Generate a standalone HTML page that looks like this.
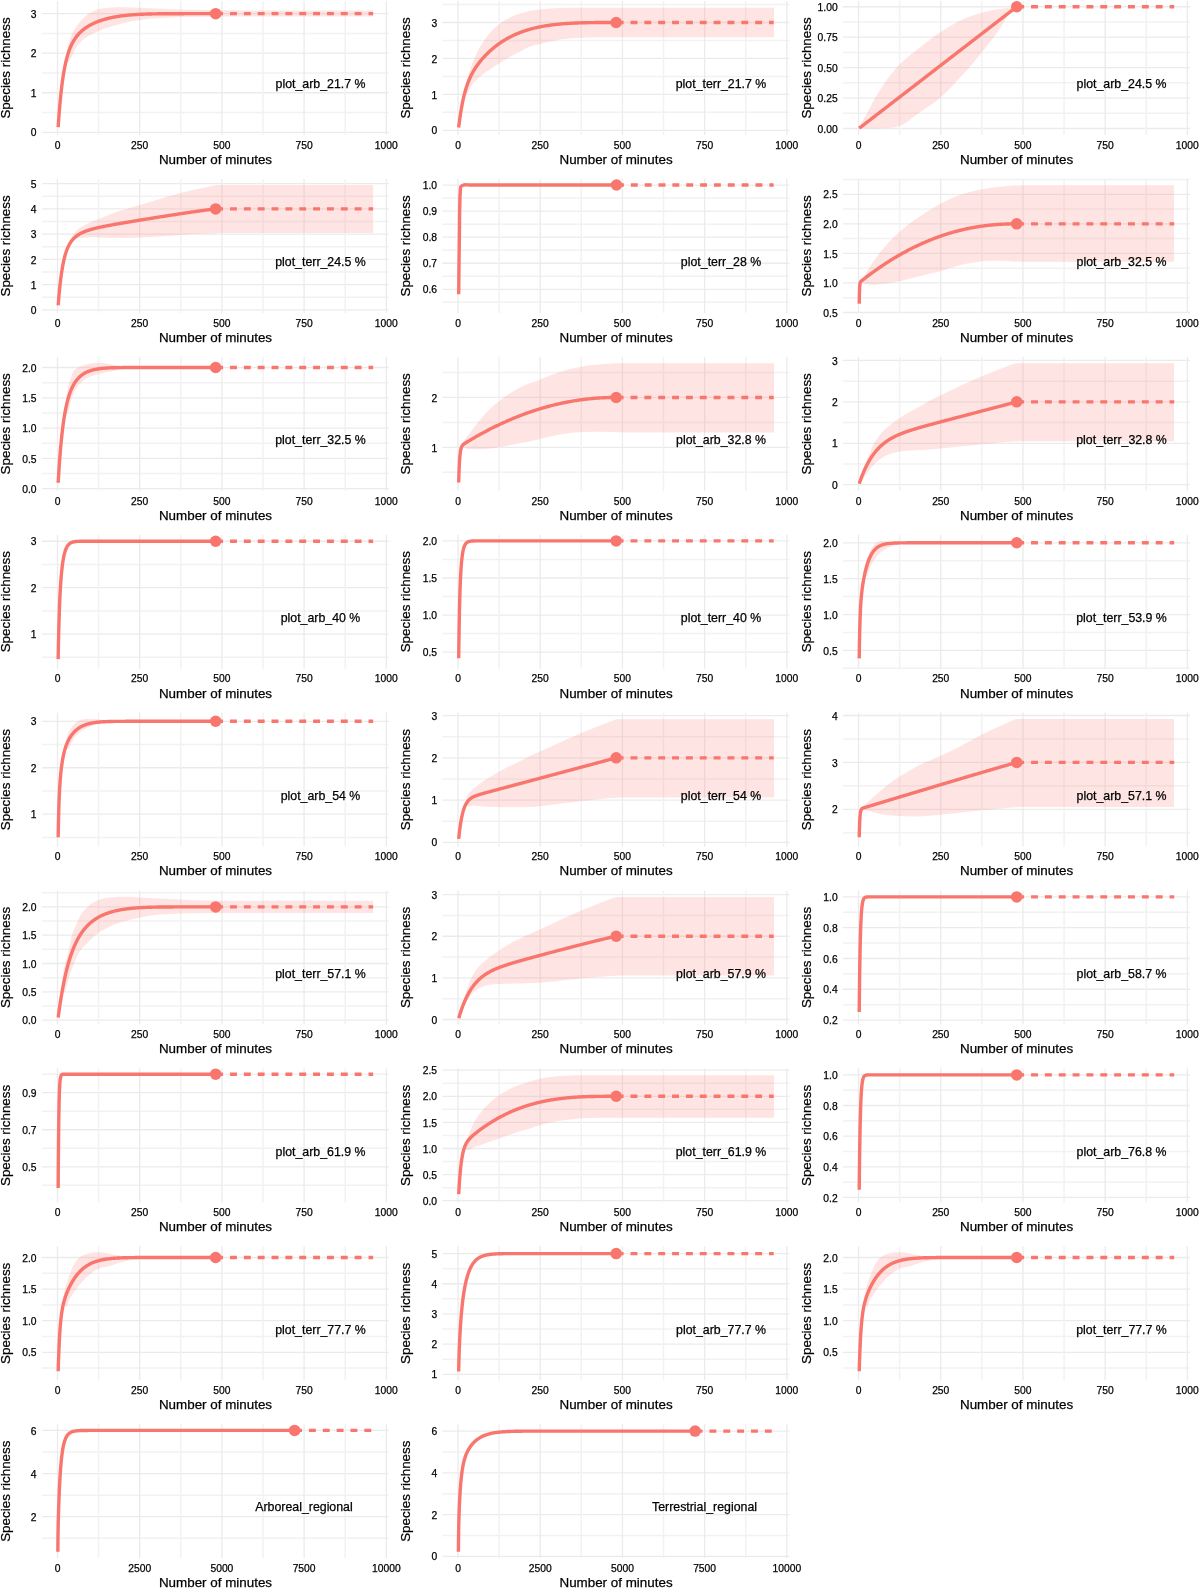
<!DOCTYPE html>
<html><head><meta charset="utf-8"><style>
html,body{margin:0;padding:0;background:#fff;}
body{width:1200px;height:1588px;overflow:hidden;}
svg{display:block;font-family:"Liberation Sans",sans-serif;}
text{fill:#000;stroke:#000;stroke-width:0.25px;}
svg{will-change:transform;}
</style></head><body>
<svg width="1200" height="1588" viewBox="0 0 1200 1588" font-family="Liberation Sans, sans-serif" fill="#000">
<g transform="translate(0,0)">
<g stroke="#EBEBEB"><line x1="41.9" x2="388.9" y1="132.3" y2="132.3"  stroke-width="1.3"/><line x1="41.9" x2="388.9" y1="112.53" y2="112.53"  stroke="#F2F2F2" stroke-width="1.5"/><line x1="41.9" x2="388.9" y1="92.76" y2="92.76"  stroke-width="1.3"/><line x1="41.9" x2="388.9" y1="72.99" y2="72.99"  stroke="#F2F2F2" stroke-width="1.5"/><line x1="41.9" x2="388.9" y1="53.21" y2="53.21"  stroke-width="1.3"/><line x1="41.9" x2="388.9" y1="33.44" y2="33.44"  stroke="#F2F2F2" stroke-width="1.5"/><line x1="41.9" x2="388.9" y1="13.67" y2="13.67"  stroke-width="1.3"/><line x1="57.5" x2="57.5" y1="1" y2="135"  stroke-width="1.3"/><line x1="98.6" x2="98.6" y1="1" y2="135"  stroke="#F2F2F2" stroke-width="1.5"/><line x1="139.7" x2="139.7" y1="1" y2="135"  stroke-width="1.3"/><line x1="180.8" x2="180.8" y1="1" y2="135"  stroke="#F2F2F2" stroke-width="1.5"/><line x1="221.9" x2="221.9" y1="1" y2="135"  stroke-width="1.3"/><line x1="263" x2="263" y1="1" y2="135"  stroke="#F2F2F2" stroke-width="1.5"/><line x1="304.1" x2="304.1" y1="1" y2="135"  stroke-width="1.3"/><line x1="345.2" x2="345.2" y1="1" y2="135"  stroke="#F2F2F2" stroke-width="1.5"/><line x1="386.3" x2="386.3" y1="1" y2="135"  stroke-width="1.3"/></g>
<path d="M65.3,63 C65.73,59.33 65.95,55.63 66.6,52 C67.19,48.74 67.93,45.47 68.9,42.3 C69.91,39 71.03,35.66 72.6,32.6 C73.85,30.16 75.37,27.81 77,25.6 C78.61,23.42 80.41,21.34 82.3,19.4 C83.97,17.69 85.67,15.94 87.6,14.55 C89.25,13.37 91.07,12.4 92.9,11.5 C94.61,10.66 96.39,9.86 98.2,9.3 C101.02,8.42 104.05,8.24 107,7.9 C110.51,7.49 114.06,7.29 117.6,7.2 C121.73,7.1 125.87,7.38 130,7.5 C138.34,7.75 146.67,8.17 155,8.5 C163.33,8.83 171.66,9.26 180,9.5 C190,9.79 200,9.85 210,10 C220,10.15 230,10.27 240,10.4 L373.1,10.4 L373.1,16.5 L240,16.6 C230,16.67 220,16.71 210,16.8 C203.33,16.86 196.67,16.87 190,17 C180,17.19 169.98,17.36 160,18 C155,18.32 149.98,18.62 145,19.2 C139.98,19.78 134.94,20.46 130,21.5 C125.83,22.37 121.71,23.56 117.6,24.7 C114.05,25.68 110.47,26.59 107,27.8 C104.02,28.84 101.11,30.08 98.2,31.3 C95.82,32.3 93.38,33.2 91.1,34.4 C88.67,35.68 86.23,37.08 84.1,38.8 C82.17,40.36 80.37,42.18 78.8,44.1 C76.65,46.74 75.27,49.97 73.5,52.9 C71.73,55.83 71,59.94 68.2,61.7 C67.33,62.25 66.27,62.57 65.3,63 Z" fill="#F8766D" fill-opacity="0.2"/>
<path d="M58.18,127.08 L58.22,126.37 L58.27,125.68 L58.32,124.99 L58.36,124.3 L58.41,123.62 L58.45,122.95 L58.5,122.28 L58.55,121.62 L58.59,120.96 L58.64,120.31 L58.68,119.66 L58.73,119.02 L58.77,118.39 L58.82,117.76 L58.87,117.13 L58.91,116.51 L58.96,115.9 L59,115.29 L59.05,114.69 L59.1,114.09 L59.14,113.49 L59.19,112.9 L59.23,112.32 L59.28,111.74 L59.32,111.17 L59.37,110.6 L59.42,110.03 L59.46,109.47 L59.51,108.91 L59.58,108.09 L59.64,107.27 L59.71,106.47 L59.78,105.67 L59.85,104.89 L59.92,104.11 L59.99,103.34 L60.06,102.59 L60.13,101.84 L60.19,101.1 L60.26,100.37 L60.33,99.65 L60.4,98.93 L60.47,98.23 L60.54,97.53 L60.61,96.85 L60.68,96.17 L60.74,95.5 L60.81,94.83 L60.88,94.18 L60.95,93.53 L61.02,92.89 L61.09,92.26 L61.16,91.63 L61.23,91.01 L61.29,90.4 L61.36,89.8 L61.43,89.2 L61.5,88.61 L61.57,88.03 L61.64,87.45 L61.71,86.88 L61.78,86.32 L61.84,85.77 L61.91,85.22 L61.98,84.67 L62.05,84.13 L62.12,83.6 L62.21,82.9 L62.3,82.22 L62.39,81.54 L62.49,80.87 L62.58,80.21 L62.67,79.56 L62.76,78.93 L62.85,78.3 L62.94,77.68 L63.04,77.07 L63.13,76.46 L63.22,75.87 L63.31,75.29 L63.4,74.71 L63.49,74.14 L63.59,73.58 L63.68,73.03 L63.77,72.49 L63.86,71.95 L63.95,71.43 L64.04,70.91 L64.14,70.39 L64.25,69.76 L64.36,69.14 L64.48,68.53 L64.59,67.93 L64.71,67.34 L64.82,66.77 L64.94,66.2 L65.05,65.64 L65.17,65.09 L65.28,64.55 L65.4,64.02 L65.51,63.49 L65.62,62.98 L65.74,62.48 L65.85,61.98 L65.97,61.49 L66.11,60.91 L66.24,60.35 L66.38,59.79 L66.52,59.25 L66.66,58.72 L66.79,58.2 L66.93,57.68 L67.07,57.18 L67.2,56.68 L67.57,55.43 L67.81,54.6 L68.06,53.8 L68.31,53.02 L68.56,52.27 L68.81,51.55 L69.05,50.84 L69.3,50.16 L69.55,49.49 L69.8,48.85 L70.04,48.23 L70.29,47.62 L70.54,47.03 L70.79,46.46 L71.03,45.9 L71.28,45.36 L71.53,44.83 L71.78,44.31 L72.03,43.81 L72.27,43.33 L72.52,42.85 L72.77,42.39 L73.02,41.94 L73.26,41.5 L73.51,41.07 L73.76,40.65 L74.01,40.24 L74.25,39.84 L74.5,39.45 L74.75,39.07 L75,38.7 L75.24,38.33 L75.49,37.98 L75.99,37.29 L76.48,36.63 L76.98,35.99 L77.47,35.38 L77.97,34.8 L78.46,34.24 L78.96,33.69 L79.46,33.17 L79.95,32.67 L80.45,32.18 L80.94,31.71 L81.44,31.25 L81.93,30.81 L82.43,30.39 L82.92,29.97 L83.42,29.57 L83.91,29.19 L84.41,28.81 L84.9,28.44 L85.4,28.09 L85.89,27.74 L86.39,27.4 L86.89,27.08 L87.38,26.76 L87.88,26.45 L88.37,26.14 L88.87,25.85 L89.36,25.56 L89.86,25.28 L90.35,25.01 L90.85,24.74 L91.34,24.48 L91.84,24.23 L92.33,23.98 L92.83,23.74 L93.32,23.5 L93.82,23.27 L94.32,23.04 L94.81,22.82 L95.31,22.61 L95.8,22.39 L96.3,22.19 L96.79,21.99 L97.29,21.79 L97.78,21.59 L98.28,21.4 L98.77,21.22 L99.27,21.04 L99.76,20.86 L100.26,20.69 L100.75,20.52 L101.25,20.35 L101.75,20.19 L102.24,20.03 L102.74,19.88 L103.23,19.72 L103.73,19.57 L104.22,19.43 L104.72,19.29 L105.21,19.15 L105.71,19.01 L106.2,18.87 L106.7,18.74 L107.19,18.62 L107.69,18.49 L108.19,18.37 L108.68,18.25 L109.18,18.13 L109.67,18.02 L110.17,17.9 L110.66,17.79 L111.16,17.68 L111.65,17.58 L112.4,17.43 L113.14,17.28 L113.88,17.13 L114.62,17 L115.37,16.86 L116.11,16.73 L116.85,16.61 L117.6,16.49 L118.34,16.37 L119.08,16.26 L119.83,16.15 L120.57,16.04 L121.31,15.94 L122.05,15.84 L122.8,15.75 L123.54,15.66 L124.28,15.57 L125.03,15.48 L125.77,15.4 L126.51,15.33 L127.26,15.25 L128,15.18 L128.74,15.11 L129.48,15.04 L130.23,14.98 L130.97,14.91 L131.71,14.85 L132.46,14.8 L133.2,14.74 L133.94,14.69 L134.69,14.64 L135.43,14.59 L136.17,14.54 L136.91,14.5 L137.66,14.46 L138.4,14.42 L139.14,14.38 L139.89,14.34 L140.63,14.3 L141.37,14.27 L142.12,14.24 L142.86,14.21 L143.6,14.18 L144.34,14.15 L145.09,14.12 L145.83,14.09 L146.57,14.07 L147.32,14.05 L148.06,14.02 L148.8,14 L149.55,13.98 L150.29,13.96 L151.03,13.95 L151.78,13.93 L152.52,13.91 L153.26,13.9 L154,13.88 L154.75,13.87 L155.49,13.85 L156.23,13.84 L156.98,13.83 L157.72,13.82 L158.46,13.81 L159.21,13.8 L159.95,13.79 L160.69,13.78 L161.43,13.77 L162.18,13.77 L162.92,13.76 L163.66,13.75 L164.41,13.75 L165.15,13.74 L165.89,13.73 L166.64,13.73 L167.38,13.72 L168.12,13.72 L168.86,13.72 L169.61,13.71 L170.35,13.71 L171.09,13.7 L171.84,13.7 L172.58,13.7 L173.32,13.7 L174.07,13.69 L174.81,13.69 L175.55,13.69 L176.29,13.69 L177.04,13.69 L177.78,13.68 L178.52,13.68 L179.27,13.68 L180.01,13.68 L180.75,13.68 L181.5,13.68 L182.24,13.68 L182.98,13.68 L183.72,13.68 L184.47,13.67 L185.21,13.67 L185.95,13.67 L186.7,13.67 L187.44,13.67 L188.18,13.67 L188.93,13.67 L189.67,13.67 L190.41,13.67 L191.15,13.67 L191.9,13.67 L192.64,13.67 L193.38,13.67 L194.13,13.67 L194.87,13.67 L195.61,13.67 L196.36,13.67 L197.1,13.67 L197.84,13.67 L198.58,13.67 L199.33,13.67 L200.07,13.67 L200.81,13.67 L201.56,13.67 L202.3,13.67 L203.04,13.67 L203.79,13.67 L204.53,13.67 L205.27,13.67 L206.01,13.67 L206.76,13.67 L207.5,13.67 L208.24,13.67 L208.99,13.67 L209.73,13.67 L210.47,13.67 L211.22,13.67 L211.96,13.67 L212.7,13.67 L213.44,13.67 L214.19,13.67 L214.93,13.67 L215.67,13.67" fill="none" stroke="#F8766D" stroke-width="3.4" stroke-linejoin="round"/>
<line x1="215.67" y1="13.67" x2="373.15" y2="13.67" stroke="#F8766D" stroke-width="3.4" stroke-dasharray="6.9 6.95" stroke-dashoffset="-0.5"/>
<circle cx="215.67" cy="13.67" r="5.75" fill="#F8766D"/>
<text x="320.5" y="88.3" font-size="12.35" text-anchor="middle">plot_arb_21.7 %</text>
<text x="36.6" y="136.45" font-size="10.3" text-anchor="end">0</text>
<text x="36.6" y="96.91" font-size="10.3" text-anchor="end">1</text>
<text x="36.6" y="57.36" font-size="10.3" text-anchor="end">2</text>
<text x="36.6" y="17.82" font-size="10.3" text-anchor="end">3</text>
<text x="57.5" y="148.8" font-size="10.3" text-anchor="middle">0</text>
<text x="139.7" y="148.8" font-size="10.3" text-anchor="middle">250</text>
<text x="221.9" y="148.8" font-size="10.3" text-anchor="middle">500</text>
<text x="304.1" y="148.8" font-size="10.3" text-anchor="middle">750</text>
<text x="386.3" y="148.8" font-size="10.3" text-anchor="middle">1000</text>
<text x="215.5" y="163.9" font-size="13.4" text-anchor="middle">Number of minutes</text>
<text transform="translate(9.7,68) rotate(-90)" font-size="13.4" text-anchor="middle">Species richness</text>
</g>
<g transform="translate(400.52,0)">
<g stroke="#EBEBEB"><line x1="41.9" x2="388.9" y1="130.3" y2="130.3"  stroke-width="1.3"/><line x1="41.9" x2="388.9" y1="112.33" y2="112.33"  stroke="#F2F2F2" stroke-width="1.5"/><line x1="41.9" x2="388.9" y1="94.37" y2="94.37"  stroke-width="1.3"/><line x1="41.9" x2="388.9" y1="76.4" y2="76.4"  stroke="#F2F2F2" stroke-width="1.5"/><line x1="41.9" x2="388.9" y1="58.43" y2="58.43"  stroke-width="1.3"/><line x1="41.9" x2="388.9" y1="40.47" y2="40.47"  stroke="#F2F2F2" stroke-width="1.5"/><line x1="41.9" x2="388.9" y1="22.5" y2="22.5"  stroke-width="1.3"/><line x1="41.9" x2="388.9" y1="4.53" y2="4.53"  stroke="#F2F2F2" stroke-width="1.5"/><line x1="57.5" x2="57.5" y1="1" y2="135"  stroke-width="1.3"/><line x1="98.6" x2="98.6" y1="1" y2="135"  stroke="#F2F2F2" stroke-width="1.5"/><line x1="139.7" x2="139.7" y1="1" y2="135"  stroke-width="1.3"/><line x1="180.8" x2="180.8" y1="1" y2="135"  stroke="#F2F2F2" stroke-width="1.5"/><line x1="221.9" x2="221.9" y1="1" y2="135"  stroke-width="1.3"/><line x1="263" x2="263" y1="1" y2="135"  stroke="#F2F2F2" stroke-width="1.5"/><line x1="304.1" x2="304.1" y1="1" y2="135"  stroke-width="1.3"/><line x1="345.2" x2="345.2" y1="1" y2="135"  stroke="#F2F2F2" stroke-width="1.5"/><line x1="386.3" x2="386.3" y1="1" y2="135"  stroke-width="1.3"/></g>
<path d="M62.98,95 C63.98,90.33 64.77,85.61 65.98,81 C67.22,76.27 68.68,71.58 70.38,67 C71.71,63.42 73.18,59.87 74.78,56.4 C76.15,53.42 77.56,50.45 79.18,47.6 C80.54,45.21 82.03,42.87 83.58,40.6 C85.25,38.16 86.95,35.73 88.88,33.5 C90.79,31.3 92.89,29.23 95.08,27.3 C97.02,25.59 99.07,23.99 101.18,22.5 C103.98,20.53 106.92,18.7 109.98,17.2 C112.83,15.8 115.86,14.72 118.88,13.7 C121.77,12.73 124.71,11.86 127.68,11.2 C131.55,10.34 135.54,9.97 139.48,9.5 C142.81,9.1 146.14,8.75 149.48,8.5 C152.81,8.25 156.15,8.12 159.48,8 C166.14,7.76 172.81,7.87 179.48,7.8 L373.58,7.8 L373.58,37.2 L219.48,37.2 C212.81,37.23 206.15,37.2 199.48,37.3 C192.81,37.4 186.14,37.43 179.48,37.8 C176.14,37.98 172.81,38.22 169.48,38.5 C166.14,38.78 162.79,39.01 159.48,39.5 C156.12,40 152.8,40.75 149.48,41.5 C146.13,42.25 142.81,43.17 139.48,44 C136.15,44.83 132.68,45.32 129.48,46.5 C125.77,47.87 122.43,50.2 118.88,52 C115.93,53.49 112.88,54.82 109.98,56.4 C106.98,58.04 104.07,59.87 101.18,61.7 C99.13,63 97.12,64.37 95.08,65.7 C93.02,67.04 90.94,68.35 88.88,69.7 C87.11,70.86 85.29,71.95 83.58,73.2 C82.07,74.3 80.58,75.46 79.18,76.7 C77.63,78.07 76.18,79.57 74.78,81.1 C73.23,82.79 71.65,84.5 70.38,86.4 C68.91,88.59 68.82,92.05 66.78,93.5 C65.73,94.24 64.25,94.5 62.98,95 Z" fill="#F8766D" fill-opacity="0.2"/>
<path d="M58.18,127.43 L58.25,126.84 L58.32,126.27 L58.38,125.7 L58.45,125.13 L58.52,124.57 L58.59,124.02 L58.66,123.47 L58.73,122.93 L58.8,122.39 L58.87,121.86 L58.96,121.16 L59.05,120.47 L59.14,119.79 L59.23,119.11 L59.32,118.45 L59.42,117.8 L59.51,117.15 L59.6,116.51 L59.69,115.89 L59.78,115.26 L59.87,114.65 L59.97,114.05 L60.06,113.45 L60.15,112.86 L60.24,112.28 L60.33,111.71 L60.42,111.14 L60.52,110.58 L60.61,110.03 L60.7,109.49 L60.79,108.95 L60.88,108.42 L60.97,107.89 L61.07,107.38 L61.16,106.87 L61.27,106.24 L61.39,105.62 L61.5,105.01 L61.62,104.4 L61.73,103.81 L61.84,103.23 L61.96,102.66 L62.07,102.09 L62.19,101.53 L62.3,100.98 L62.42,100.44 L62.53,99.91 L62.65,99.39 L62.76,98.87 L62.88,98.36 L62.99,97.86 L63.1,97.36 L63.22,96.88 L63.36,96.3 L63.49,95.73 L63.63,95.18 L63.77,94.63 L63.91,94.09 L64.04,93.56 L64.18,93.04 L64.32,92.53 L64.46,92.02 L64.59,91.53 L64.73,91.04 L64.87,90.56 L65.01,90.09 L65.14,89.62 L65.3,89.08 L65.46,88.56 L65.62,88.04 L65.78,87.54 L65.94,87.04 L66.11,86.55 L66.27,86.07 L66.43,85.59 L66.59,85.13 L66.75,84.67 L66.91,84.22 L67.07,83.78 L67.25,83.28 L67.57,82.44 L67.81,81.8 L68.06,81.17 L68.31,80.56 L68.56,79.96 L68.81,79.38 L69.05,78.81 L69.3,78.25 L69.55,77.7 L69.8,77.16 L70.04,76.63 L70.29,76.12 L70.54,75.61 L70.79,75.11 L71.03,74.62 L71.28,74.14 L71.53,73.67 L71.78,73.21 L72.03,72.75 L72.27,72.31 L72.52,71.87 L72.77,71.43 L73.02,71 L73.26,70.58 L73.51,70.17 L73.76,69.76 L74.01,69.36 L74.25,68.96 L74.5,68.57 L74.75,68.18 L75,67.8 L75.24,67.43 L75.49,67.05 L75.74,66.69 L75.99,66.33 L76.24,65.97 L76.48,65.61 L76.98,64.92 L77.47,64.24 L77.97,63.57 L78.46,62.92 L78.96,62.28 L79.46,61.66 L79.95,61.04 L80.45,60.44 L80.94,59.85 L81.44,59.26 L81.93,58.69 L82.43,58.13 L82.92,57.58 L83.42,57.03 L83.91,56.5 L84.41,55.97 L84.9,55.45 L85.4,54.94 L85.89,54.43 L86.39,53.94 L86.89,53.45 L87.38,52.97 L87.88,52.49 L88.37,52.02 L88.87,51.56 L89.36,51.11 L89.86,50.66 L90.35,50.21 L90.85,49.78 L91.34,49.35 L91.84,48.92 L92.33,48.5 L92.83,48.09 L93.32,47.68 L93.82,47.28 L94.32,46.88 L94.81,46.49 L95.31,46.11 L95.8,45.72 L96.3,45.35 L96.79,44.98 L97.29,44.61 L97.78,44.25 L98.28,43.9 L98.77,43.55 L99.27,43.2 L99.76,42.86 L100.26,42.52 L100.75,42.19 L101.25,41.86 L101.75,41.54 L102.24,41.22 L102.74,40.91 L103.23,40.6 L103.73,40.29 L104.22,39.99 L104.72,39.7 L105.21,39.4 L105.71,39.11 L106.2,38.83 L106.7,38.55 L107.19,38.27 L107.69,38 L108.19,37.73 L108.68,37.47 L109.18,37.2 L109.67,36.95 L110.17,36.69 L110.66,36.44 L111.16,36.2 L111.65,35.95 L112.15,35.71 L112.64,35.48 L113.14,35.24 L113.63,35.01 L114.13,34.79 L114.62,34.57 L115.12,34.35 L115.62,34.13 L116.11,33.92 L116.61,33.71 L117.1,33.5 L117.6,33.3 L118.09,33.1 L118.59,32.9 L119.08,32.7 L119.58,32.51 L120.07,32.32 L120.57,32.14 L121.06,31.95 L121.56,31.77 L122.05,31.6 L122.55,31.42 L123.05,31.25 L123.54,31.08 L124.04,30.91 L124.53,30.75 L125.03,30.59 L125.52,30.43 L126.02,30.27 L126.51,30.12 L127.01,29.96 L127.5,29.82 L128,29.67 L128.49,29.52 L128.99,29.38 L129.48,29.24 L129.98,29.1 L130.48,28.97 L130.97,28.83 L131.47,28.7 L131.96,28.57 L132.46,28.45 L132.95,28.32 L133.45,28.2 L133.94,28.08 L134.44,27.96 L134.93,27.84 L135.43,27.73 L135.92,27.61 L136.42,27.5 L136.91,27.39 L137.41,27.29 L137.91,27.18 L138.65,27.03 L139.39,26.88 L140.13,26.73 L140.88,26.59 L141.62,26.45 L142.36,26.31 L143.11,26.18 L143.85,26.05 L144.59,25.93 L145.34,25.8 L146.08,25.69 L146.82,25.57 L147.56,25.46 L148.31,25.35 L149.05,25.24 L149.79,25.14 L150.54,25.04 L151.28,24.94 L152.02,24.85 L152.77,24.76 L153.51,24.67 L154.25,24.58 L154.99,24.5 L155.74,24.42 L156.48,24.34 L157.22,24.26 L157.97,24.19 L158.71,24.12 L159.45,24.05 L160.2,23.98 L160.94,23.92 L161.68,23.85 L162.42,23.79 L163.17,23.74 L163.91,23.68 L164.65,23.62 L165.4,23.57 L166.14,23.52 L166.88,23.47 L167.63,23.42 L168.37,23.38 L169.11,23.33 L169.85,23.29 L170.6,23.25 L171.34,23.21 L172.08,23.17 L172.83,23.14 L173.57,23.1 L174.31,23.07 L175.06,23.03 L175.8,23 L176.54,22.97 L177.29,22.95 L178.03,22.92 L178.77,22.89 L179.51,22.87 L180.26,22.84 L181,22.82 L181.74,22.8 L182.49,22.78 L183.23,22.76 L183.97,22.74 L184.72,22.72 L185.46,22.71 L186.2,22.69 L186.94,22.68 L187.69,22.66 L188.43,22.65 L189.17,22.64 L189.92,22.62 L190.66,22.61 L191.4,22.6 L192.15,22.59 L192.89,22.58 L193.63,22.58 L194.37,22.57 L195.12,22.56 L195.86,22.55 L196.6,22.55 L197.35,22.54 L198.09,22.54 L198.83,22.53 L199.58,22.53 L200.32,22.52 L201.06,22.52 L201.8,22.52 L202.55,22.51 L203.29,22.51 L204.03,22.51 L204.78,22.51 L205.52,22.51 L206.26,22.5 L207.01,22.5 L207.75,22.5 L208.49,22.5 L209.23,22.5 L209.98,22.5 L210.72,22.5 L211.46,22.5 L212.21,22.5 L212.95,22.5 L213.69,22.5 L214.44,22.5 L215.18,22.5 L215.67,22.5" fill="none" stroke="#F8766D" stroke-width="3.4" stroke-linejoin="round"/>
<line x1="215.67" y1="22.5" x2="373.15" y2="22.5" stroke="#F8766D" stroke-width="3.4" stroke-dasharray="6.9 6.95" stroke-dashoffset="-0.5"/>
<circle cx="215.67" cy="22.5" r="5.75" fill="#F8766D"/>
<text x="320.5" y="88.3" font-size="12.35" text-anchor="middle">plot_terr_21.7 %</text>
<text x="36.6" y="134.45" font-size="10.3" text-anchor="end">0</text>
<text x="36.6" y="98.52" font-size="10.3" text-anchor="end">1</text>
<text x="36.6" y="62.58" font-size="10.3" text-anchor="end">2</text>
<text x="36.6" y="26.65" font-size="10.3" text-anchor="end">3</text>
<text x="57.5" y="148.8" font-size="10.3" text-anchor="middle">0</text>
<text x="139.7" y="148.8" font-size="10.3" text-anchor="middle">250</text>
<text x="221.9" y="148.8" font-size="10.3" text-anchor="middle">500</text>
<text x="304.1" y="148.8" font-size="10.3" text-anchor="middle">750</text>
<text x="386.3" y="148.8" font-size="10.3" text-anchor="middle">1000</text>
<text x="215.5" y="163.9" font-size="13.4" text-anchor="middle">Number of minutes</text>
<text transform="translate(9.7,68) rotate(-90)" font-size="13.4" text-anchor="middle">Species richness</text>
</g>
<g transform="translate(801.04,0)">
<g stroke="#EBEBEB"><line x1="41.9" x2="388.9" y1="128.5" y2="128.5"  stroke-width="1.3"/><line x1="41.9" x2="388.9" y1="113.28" y2="113.28"  stroke="#F2F2F2" stroke-width="1.5"/><line x1="41.9" x2="388.9" y1="98.06" y2="98.06"  stroke-width="1.3"/><line x1="41.9" x2="388.9" y1="82.84" y2="82.84"  stroke="#F2F2F2" stroke-width="1.5"/><line x1="41.9" x2="388.9" y1="67.62" y2="67.62"  stroke-width="1.3"/><line x1="41.9" x2="388.9" y1="52.41" y2="52.41"  stroke="#F2F2F2" stroke-width="1.5"/><line x1="41.9" x2="388.9" y1="37.19" y2="37.19"  stroke-width="1.3"/><line x1="41.9" x2="388.9" y1="21.97" y2="21.97"  stroke="#F2F2F2" stroke-width="1.5"/><line x1="41.9" x2="388.9" y1="6.75" y2="6.75"  stroke-width="1.3"/><line x1="57.5" x2="57.5" y1="1" y2="135"  stroke-width="1.3"/><line x1="98.6" x2="98.6" y1="1" y2="135"  stroke="#F2F2F2" stroke-width="1.5"/><line x1="139.7" x2="139.7" y1="1" y2="135"  stroke-width="1.3"/><line x1="180.8" x2="180.8" y1="1" y2="135"  stroke="#F2F2F2" stroke-width="1.5"/><line x1="221.9" x2="221.9" y1="1" y2="135"  stroke-width="1.3"/><line x1="263" x2="263" y1="1" y2="135"  stroke="#F2F2F2" stroke-width="1.5"/><line x1="304.1" x2="304.1" y1="1" y2="135"  stroke-width="1.3"/><line x1="345.2" x2="345.2" y1="1" y2="135"  stroke="#F2F2F2" stroke-width="1.5"/><line x1="386.3" x2="386.3" y1="1" y2="135"  stroke-width="1.3"/></g>
<path d="M57.56,128.2 C59.69,124.47 61.84,120.74 63.96,117 C69.04,108.04 73.35,98.6 78.96,90 C84.8,81.06 90.97,72.05 98.46,64.5 C103.93,58.99 110.36,54.37 116.46,49.5 C123.94,43.54 131.38,37.44 139.36,32.2 C146.45,27.55 153.73,22.95 161.46,19.5 C167.63,16.75 174.13,14.54 180.66,12.75 C186.65,11.11 192.81,9.96 198.96,9 C202.94,8.38 206.98,8.14 210.96,7.5 C212.4,7.27 213.83,7 215.26,6.75 L215.26,6.75 C213.83,8 212.31,9.18 210.96,10.5 C205.82,15.5 203.12,22.61 198.96,28.5 C193.16,36.72 186.98,44.68 180.66,52.5 C174.47,60.17 168.11,67.73 161.46,75 C154.37,82.76 147.34,90.71 139.36,97.5 C132.22,103.57 124.2,108.66 116.46,114 C110.52,118.09 105.07,123.67 98.46,126 C92.46,128.11 85.48,127.82 78.96,128.2 C71.85,128.62 64.69,128.2 57.56,128.2 Z" fill="#F8766D" fill-opacity="0.2"/>
<path d="M58.18,128.25 L58.52,127.98 L58.87,127.72 L59.21,127.45 L59.55,127.19 L59.9,126.92 L60.24,126.66 L60.58,126.39 L60.93,126.13 L61.27,125.86 L61.62,125.6 L61.96,125.33 L62.3,125.07 L62.65,124.8 L62.99,124.54 L63.33,124.27 L63.68,124 L64.02,123.74 L64.36,123.47 L64.71,123.21 L65.05,122.94 L65.4,122.68 L65.74,122.41 L66.08,122.15 L66.43,121.88 L66.77,121.62 L67.11,121.35 L67.57,121 L68.06,120.62 L68.56,120.24 L69.05,119.86 L69.55,119.48 L70.04,119.09 L70.54,118.71 L71.03,118.33 L71.53,117.95 L72.03,117.56 L72.52,117.18 L73.02,116.8 L73.51,116.42 L74.01,116.04 L74.5,115.65 L75,115.27 L75.49,114.89 L75.99,114.51 L76.48,114.13 L76.98,113.74 L77.47,113.36 L77.97,112.98 L78.46,112.6 L78.96,112.22 L79.46,111.83 L79.95,111.45 L80.45,111.07 L80.94,110.69 L81.44,110.3 L81.93,109.92 L82.43,109.54 L82.92,109.16 L83.42,108.78 L83.91,108.39 L84.41,108.01 L84.9,107.63 L85.4,107.25 L85.89,106.87 L86.39,106.48 L86.89,106.1 L87.38,105.72 L87.88,105.34 L88.37,104.95 L88.87,104.57 L89.36,104.19 L89.86,103.81 L90.35,103.43 L90.85,103.04 L91.34,102.66 L91.84,102.28 L92.33,101.9 L92.83,101.52 L93.32,101.13 L93.82,100.75 L94.32,100.37 L94.81,99.99 L95.31,99.61 L95.8,99.22 L96.3,98.84 L96.79,98.46 L97.29,98.08 L97.78,97.69 L98.28,97.31 L98.77,96.93 L99.27,96.55 L99.76,96.17 L100.26,95.78 L100.75,95.4 L101.25,95.02 L101.75,94.64 L102.24,94.26 L102.74,93.87 L103.23,93.49 L103.73,93.11 L104.22,92.73 L104.72,92.34 L105.21,91.96 L105.71,91.58 L106.2,91.2 L106.7,90.82 L107.19,90.43 L107.69,90.05 L108.19,89.67 L108.68,89.29 L109.18,88.91 L109.67,88.52 L110.17,88.14 L110.66,87.76 L111.16,87.38 L111.65,87 L112.15,86.61 L112.64,86.23 L113.14,85.85 L113.63,85.47 L114.13,85.08 L114.62,84.7 L115.12,84.32 L115.62,83.94 L116.11,83.56 L116.61,83.17 L117.1,82.79 L117.6,82.41 L118.09,82.03 L118.59,81.65 L119.08,81.26 L119.58,80.88 L120.07,80.5 L120.57,80.12 L121.06,79.73 L121.56,79.35 L122.05,78.97 L122.55,78.59 L123.05,78.21 L123.54,77.82 L124.04,77.44 L124.53,77.06 L125.03,76.68 L125.52,76.3 L126.02,75.91 L126.51,75.53 L127.01,75.15 L127.5,74.77 L128,74.39 L128.49,74 L128.99,73.62 L129.48,73.24 L129.98,72.86 L130.48,72.47 L130.97,72.09 L131.47,71.71 L131.96,71.33 L132.46,70.95 L132.95,70.56 L133.45,70.18 L133.94,69.8 L134.44,69.42 L134.93,69.04 L135.43,68.65 L135.92,68.27 L136.42,67.89 L136.91,67.51 L137.41,67.12 L137.91,66.74 L138.4,66.36 L138.9,65.98 L139.39,65.6 L139.89,65.21 L140.38,64.83 L140.88,64.45 L141.37,64.07 L141.87,63.69 L142.36,63.3 L142.86,62.92 L143.35,62.54 L143.85,62.16 L144.34,61.78 L144.84,61.39 L145.34,61.01 L145.83,60.63 L146.33,60.25 L146.82,59.86 L147.32,59.48 L147.81,59.1 L148.31,58.72 L148.8,58.34 L149.3,57.95 L149.79,57.57 L150.29,57.19 L150.78,56.81 L151.28,56.43 L151.78,56.04 L152.27,55.66 L152.77,55.28 L153.26,54.9 L153.76,54.52 L154.25,54.13 L154.75,53.75 L155.24,53.37 L155.74,52.99 L156.23,52.6 L156.73,52.22 L157.22,51.84 L157.72,51.46 L158.21,51.08 L158.71,50.69 L159.21,50.31 L159.7,49.93 L160.2,49.55 L160.69,49.17 L161.19,48.78 L161.68,48.4 L162.18,48.02 L162.67,47.64 L163.17,47.25 L163.66,46.87 L164.16,46.49 L164.65,46.11 L165.15,45.73 L165.64,45.34 L166.14,44.96 L166.64,44.58 L167.13,44.2 L167.63,43.82 L168.12,43.43 L168.62,43.05 L169.11,42.67 L169.61,42.29 L170.1,41.91 L170.6,41.52 L171.09,41.14 L171.59,40.76 L172.08,40.38 L172.58,39.99 L173.07,39.61 L173.57,39.23 L174.07,38.85 L174.56,38.47 L175.06,38.08 L175.55,37.7 L176.05,37.32 L176.54,36.94 L177.04,36.56 L177.53,36.17 L178.03,35.79 L178.52,35.41 L179.02,35.03 L179.51,34.64 L180.01,34.26 L180.5,33.88 L181,33.5 L181.5,33.12 L181.99,32.73 L182.49,32.35 L182.98,31.97 L183.48,31.59 L183.97,31.21 L184.47,30.82 L184.96,30.44 L185.46,30.06 L185.95,29.68 L186.45,29.3 L186.94,28.91 L187.44,28.53 L187.93,28.15 L188.43,27.77 L188.93,27.38 L189.42,27 L189.92,26.62 L190.41,26.24 L190.91,25.86 L191.4,25.47 L191.9,25.09 L192.39,24.71 L192.89,24.33 L193.38,23.95 L193.88,23.56 L194.37,23.18 L194.87,22.8 L195.37,22.42 L195.86,22.03 L196.36,21.65 L196.85,21.27 L197.35,20.89 L197.84,20.51 L198.34,20.12 L198.83,19.74 L199.33,19.36 L199.82,18.98 L200.32,18.6 L200.81,18.21 L201.31,17.83 L201.8,17.45 L202.3,17.07 L202.8,16.69 L203.29,16.3 L203.79,15.92 L204.28,15.54 L204.78,15.16 L205.27,14.77 L205.77,14.39 L206.26,14.01 L206.76,13.63 L207.25,13.25 L207.75,12.86 L208.24,12.48 L208.74,12.1 L209.23,11.72 L209.73,11.34 L210.23,10.95 L210.72,10.57 L211.22,10.19 L211.71,9.81 L212.21,9.42 L212.7,9.04 L213.2,8.66 L213.69,8.28 L214.19,7.9 L214.68,7.51 L215.18,7.13 L215.43,6.75 L215.67,6.75" fill="none" stroke="#F8766D" stroke-width="3.4" stroke-linejoin="round"/>
<line x1="215.67" y1="6.75" x2="373.15" y2="6.75" stroke="#F8766D" stroke-width="3.4" stroke-dasharray="6.9 6.95" stroke-dashoffset="-0.5"/>
<circle cx="215.67" cy="6.75" r="5.75" fill="#F8766D"/>
<text x="320.5" y="88.3" font-size="12.35" text-anchor="middle">plot_arb_24.5 %</text>
<text x="36.6" y="132.65" font-size="10.3" text-anchor="end">0.00</text>
<text x="36.6" y="102.21" font-size="10.3" text-anchor="end">0.25</text>
<text x="36.6" y="71.78" font-size="10.3" text-anchor="end">0.50</text>
<text x="36.6" y="41.34" font-size="10.3" text-anchor="end">0.75</text>
<text x="36.6" y="10.9" font-size="10.3" text-anchor="end">1.00</text>
<text x="57.5" y="148.8" font-size="10.3" text-anchor="middle">0</text>
<text x="139.7" y="148.8" font-size="10.3" text-anchor="middle">250</text>
<text x="221.9" y="148.8" font-size="10.3" text-anchor="middle">500</text>
<text x="304.1" y="148.8" font-size="10.3" text-anchor="middle">750</text>
<text x="386.3" y="148.8" font-size="10.3" text-anchor="middle">1000</text>
<text x="215.5" y="163.9" font-size="13.4" text-anchor="middle">Number of minutes</text>
<text transform="translate(9.7,68) rotate(-90)" font-size="13.4" text-anchor="middle">Species richness</text>
</g>
<g transform="translate(0,177.9)">
<g stroke="#EBEBEB"><line x1="41.9" x2="388.9" y1="131.9" y2="131.9"  stroke-width="1.3"/><line x1="41.9" x2="388.9" y1="119.29" y2="119.29"  stroke="#F2F2F2" stroke-width="1.5"/><line x1="41.9" x2="388.9" y1="106.68" y2="106.68"  stroke-width="1.3"/><line x1="41.9" x2="388.9" y1="94.07" y2="94.07"  stroke="#F2F2F2" stroke-width="1.5"/><line x1="41.9" x2="388.9" y1="81.46" y2="81.46"  stroke-width="1.3"/><line x1="41.9" x2="388.9" y1="68.85" y2="68.85"  stroke="#F2F2F2" stroke-width="1.5"/><line x1="41.9" x2="388.9" y1="56.24" y2="56.24"  stroke-width="1.3"/><line x1="41.9" x2="388.9" y1="43.63" y2="43.63"  stroke="#F2F2F2" stroke-width="1.5"/><line x1="41.9" x2="388.9" y1="31.02" y2="31.02"  stroke-width="1.3"/><line x1="41.9" x2="388.9" y1="18.41" y2="18.41"  stroke="#F2F2F2" stroke-width="1.5"/><line x1="41.9" x2="388.9" y1="5.8" y2="5.8"  stroke-width="1.3"/><line x1="57.5" x2="57.5" y1="1" y2="135"  stroke-width="1.3"/><line x1="98.6" x2="98.6" y1="1" y2="135"  stroke="#F2F2F2" stroke-width="1.5"/><line x1="139.7" x2="139.7" y1="1" y2="135"  stroke-width="1.3"/><line x1="180.8" x2="180.8" y1="1" y2="135"  stroke="#F2F2F2" stroke-width="1.5"/><line x1="221.9" x2="221.9" y1="1" y2="135"  stroke-width="1.3"/><line x1="263" x2="263" y1="1" y2="135"  stroke="#F2F2F2" stroke-width="1.5"/><line x1="304.1" x2="304.1" y1="1" y2="135"  stroke-width="1.3"/><line x1="345.2" x2="345.2" y1="1" y2="135"  stroke="#F2F2F2" stroke-width="1.5"/><line x1="386.3" x2="386.3" y1="1" y2="135"  stroke-width="1.3"/></g>
<path d="M70.9,60.6 C72.37,58.37 73.52,55.85 75.3,53.9 C76.83,52.22 78.72,50.81 80.6,49.5 C82.52,48.17 84.61,47.05 86.7,46 C88.71,44.99 90.82,44.17 92.9,43.3 C95.81,42.08 98.77,40.97 101.7,39.8 C104.63,38.63 107.54,37.4 110.5,36.3 C113.44,35.2 116.41,34.18 119.4,33.2 C122.32,32.25 125.26,31.38 128.2,30.5 C132.12,29.33 136.07,28.25 140,27.1 C146.68,25.15 153.33,23.1 160,21.1 C166.67,19.1 173.27,16.86 180,15.1 C186.61,13.37 193.33,12.08 200,10.6 C205.33,9.42 210.67,8.27 216,7.1 L373.1,7.1 L373.1,55.1 L220,55.1 C213.33,55.37 206.66,55.57 200,55.9 C193.33,56.23 186.66,56.65 180,57.1 C173.33,57.55 166.67,58.18 160,58.6 C153.34,59.02 146.67,59.36 140,59.6 C134.6,59.79 129.2,59.96 123.8,60 C119.37,60.03 114.93,59.99 110.5,59.9 C106.4,59.82 102.3,59.56 98.2,59.5 C94.37,59.44 90.52,59.26 86.7,59.5 C84.66,59.63 82.63,59.84 80.6,60.1 C78.83,60.32 77.08,60.85 75.3,60.9 C73.84,60.94 72.37,60.7 70.9,60.6 Z" fill="#F8766D" fill-opacity="0.2"/>
<path d="M58.18,127.44 L58.22,126.84 L58.27,126.25 L58.32,125.66 L58.36,125.07 L58.41,124.5 L58.45,123.93 L58.5,123.36 L58.55,122.8 L58.59,122.24 L58.66,121.41 L58.73,120.6 L58.8,119.8 L58.87,119 L58.93,118.22 L59,117.45 L59.07,116.69 L59.14,115.94 L59.21,115.2 L59.28,114.47 L59.35,113.75 L59.42,113.04 L59.48,112.34 L59.55,111.64 L59.62,110.96 L59.69,110.29 L59.76,109.62 L59.83,108.97 L59.9,108.32 L59.97,107.68 L60.03,107.05 L60.1,106.43 L60.17,105.82 L60.24,105.21 L60.31,104.62 L60.38,104.03 L60.45,103.45 L60.52,102.87 L60.58,102.31 L60.65,101.75 L60.72,101.2 L60.79,100.65 L60.86,100.12 L60.95,99.41 L61.04,98.72 L61.13,98.04 L61.23,97.37 L61.32,96.71 L61.41,96.07 L61.5,95.43 L61.59,94.81 L61.68,94.2 L61.78,93.6 L61.87,93 L61.96,92.42 L62.05,91.85 L62.14,91.29 L62.23,90.74 L62.33,90.19 L62.42,89.66 L62.51,89.13 L62.6,88.62 L62.71,87.99 L62.83,87.37 L62.94,86.76 L63.06,86.17 L63.17,85.59 L63.29,85.02 L63.4,84.46 L63.52,83.91 L63.63,83.38 L63.75,82.85 L63.86,82.34 L63.97,81.84 L64.09,81.35 L64.23,80.77 L64.36,80.21 L64.5,79.66 L64.64,79.12 L64.78,78.59 L64.91,78.08 L65.05,77.58 L65.19,77.1 L65.33,76.62 L65.46,76.15 L65.62,75.63 L65.78,75.11 L65.94,74.61 L66.11,74.12 L66.27,73.65 L66.43,73.19 L66.59,72.74 L66.77,72.24 L66.95,71.75 L67.14,71.28 L67.32,70.82 L67.57,70.22 L67.81,69.65 L68.06,69.1 L68.31,68.57 L68.56,68.05 L68.81,67.56 L69.05,67.09 L69.3,66.63 L69.55,66.19 L69.8,65.76 L70.04,65.35 L70.29,64.95 L70.54,64.57 L70.79,64.2 L71.03,63.84 L71.53,63.16 L72.03,62.52 L72.52,61.92 L73.02,61.36 L73.51,60.82 L74.01,60.32 L74.5,59.85 L75,59.4 L75.49,58.97 L75.99,58.57 L76.48,58.18 L76.98,57.82 L77.47,57.47 L77.97,57.13 L78.46,56.81 L78.96,56.5 L79.46,56.21 L79.95,55.93 L80.45,55.66 L80.94,55.4 L81.44,55.15 L81.93,54.9 L82.43,54.67 L82.92,54.44 L83.42,54.22 L83.91,54.01 L84.41,53.81 L84.9,53.61 L85.4,53.41 L85.89,53.23 L86.39,53.04 L86.89,52.87 L87.38,52.69 L87.88,52.52 L88.37,52.36 L88.87,52.2 L89.36,52.04 L89.86,51.89 L90.35,51.74 L90.85,51.59 L91.34,51.45 L91.84,51.31 L92.33,51.17 L92.83,51.04 L93.32,50.91 L93.82,50.78 L94.32,50.65 L94.81,50.52 L95.31,50.4 L95.8,50.28 L96.3,50.16 L96.79,50.04 L97.29,49.92 L97.78,49.81 L98.28,49.7 L98.77,49.59 L99.27,49.48 L99.76,49.37 L100.26,49.26 L100.75,49.15 L101.25,49.05 L101.99,48.89 L102.74,48.74 L103.48,48.59 L104.22,48.44 L104.97,48.29 L105.71,48.15 L106.45,48 L107.19,47.86 L107.94,47.72 L108.68,47.58 L109.42,47.44 L110.17,47.31 L110.91,47.17 L111.65,47.04 L112.4,46.9 L113.14,46.77 L113.88,46.64 L114.62,46.5 L115.37,46.37 L116.11,46.24 L116.85,46.11 L117.6,45.98 L118.34,45.85 L119.08,45.73 L119.83,45.6 L120.57,45.47 L121.31,45.34 L122.05,45.22 L122.8,45.09 L123.54,44.96 L124.28,44.84 L125.03,44.71 L125.77,44.59 L126.51,44.46 L127.26,44.34 L128,44.21 L128.74,44.09 L129.48,43.97 L130.23,43.84 L130.97,43.72 L131.71,43.59 L132.46,43.47 L133.2,43.35 L133.94,43.23 L134.69,43.1 L135.43,42.98 L136.17,42.86 L136.91,42.74 L137.66,42.61 L138.4,42.49 L139.14,42.37 L139.89,42.25 L140.63,42.13 L141.37,42 L142.12,41.88 L142.86,41.76 L143.6,41.64 L144.34,41.52 L145.09,41.4 L145.83,41.28 L146.57,41.16 L147.32,41.04 L148.06,40.92 L148.8,40.8 L149.55,40.68 L150.29,40.56 L151.03,40.44 L151.78,40.32 L152.52,40.2 L153.26,40.08 L154,39.96 L154.75,39.84 L155.49,39.72 L156.23,39.61 L156.98,39.49 L157.72,39.37 L158.46,39.25 L159.21,39.13 L159.95,39.02 L160.69,38.9 L161.43,38.78 L162.18,38.66 L162.92,38.55 L163.66,38.43 L164.41,38.31 L165.15,38.2 L165.89,38.08 L166.64,37.96 L167.38,37.85 L168.12,37.73 L168.86,37.62 L169.61,37.5 L170.35,37.39 L171.09,37.27 L171.84,37.16 L172.58,37.04 L173.32,36.93 L174.07,36.81 L174.81,36.7 L175.55,36.58 L176.29,36.47 L177.04,36.36 L177.78,36.24 L178.52,36.13 L179.27,36.02 L180.01,35.91 L180.75,35.79 L181.5,35.68 L182.24,35.57 L182.98,35.46 L183.72,35.35 L184.47,35.24 L185.21,35.13 L185.95,35.02 L186.7,34.91 L187.44,34.8 L188.18,34.69 L188.93,34.58 L189.67,34.47 L190.41,34.36 L191.15,34.25 L191.9,34.14 L192.64,34.04 L193.38,33.93 L194.13,33.82 L194.87,33.72 L195.61,33.61 L196.36,33.5 L197.1,33.4 L197.84,33.29 L198.58,33.19 L199.33,33.08 L200.07,32.98 L200.81,32.88 L201.56,32.78 L202.3,32.67 L203.04,32.57 L203.79,32.47 L204.53,32.37 L205.27,32.27 L206.01,32.17 L206.76,32.08 L207.5,31.98 L208.24,31.88 L208.99,31.79 L209.73,31.7 L210.47,31.6 L211.22,31.51 L211.96,31.42 L212.7,31.33 L213.44,31.25 L214.19,31.16 L214.93,31.09 L215.67,31.02" fill="none" stroke="#F8766D" stroke-width="3.4" stroke-linejoin="round"/>
<line x1="215.67" y1="31.02" x2="373.15" y2="31.02" stroke="#F8766D" stroke-width="3.4" stroke-dasharray="6.9 6.95" stroke-dashoffset="-0.5"/>
<circle cx="215.67" cy="31.02" r="5.75" fill="#F8766D"/>
<text x="320.5" y="88.3" font-size="12.35" text-anchor="middle">plot_terr_24.5 %</text>
<text x="36.6" y="136.05" font-size="10.3" text-anchor="end">0</text>
<text x="36.6" y="110.83" font-size="10.3" text-anchor="end">1</text>
<text x="36.6" y="85.61" font-size="10.3" text-anchor="end">2</text>
<text x="36.6" y="60.39" font-size="10.3" text-anchor="end">3</text>
<text x="36.6" y="35.17" font-size="10.3" text-anchor="end">4</text>
<text x="36.6" y="9.95" font-size="10.3" text-anchor="end">5</text>
<text x="57.5" y="148.8" font-size="10.3" text-anchor="middle">0</text>
<text x="139.7" y="148.8" font-size="10.3" text-anchor="middle">250</text>
<text x="221.9" y="148.8" font-size="10.3" text-anchor="middle">500</text>
<text x="304.1" y="148.8" font-size="10.3" text-anchor="middle">750</text>
<text x="386.3" y="148.8" font-size="10.3" text-anchor="middle">1000</text>
<text x="215.5" y="163.9" font-size="13.4" text-anchor="middle">Number of minutes</text>
<text transform="translate(9.7,68) rotate(-90)" font-size="13.4" text-anchor="middle">Species richness</text>
</g>
<g transform="translate(400.52,177.9)">
<g stroke="#EBEBEB"><line x1="41.9" x2="388.9" y1="124.43" y2="124.43"  stroke="#F2F2F2" stroke-width="1.5"/><line x1="41.9" x2="388.9" y1="111.4" y2="111.4"  stroke-width="1.3"/><line x1="41.9" x2="388.9" y1="98.37" y2="98.37"  stroke="#F2F2F2" stroke-width="1.5"/><line x1="41.9" x2="388.9" y1="85.34" y2="85.34"  stroke-width="1.3"/><line x1="41.9" x2="388.9" y1="72.31" y2="72.31"  stroke="#F2F2F2" stroke-width="1.5"/><line x1="41.9" x2="388.9" y1="59.27" y2="59.27"  stroke-width="1.3"/><line x1="41.9" x2="388.9" y1="46.24" y2="46.24"  stroke="#F2F2F2" stroke-width="1.5"/><line x1="41.9" x2="388.9" y1="33.21" y2="33.21"  stroke-width="1.3"/><line x1="41.9" x2="388.9" y1="20.18" y2="20.18"  stroke="#F2F2F2" stroke-width="1.5"/><line x1="41.9" x2="388.9" y1="7.15" y2="7.15"  stroke-width="1.3"/><line x1="57.5" x2="57.5" y1="1" y2="135"  stroke-width="1.3"/><line x1="98.6" x2="98.6" y1="1" y2="135"  stroke="#F2F2F2" stroke-width="1.5"/><line x1="139.7" x2="139.7" y1="1" y2="135"  stroke-width="1.3"/><line x1="180.8" x2="180.8" y1="1" y2="135"  stroke="#F2F2F2" stroke-width="1.5"/><line x1="221.9" x2="221.9" y1="1" y2="135"  stroke-width="1.3"/><line x1="263" x2="263" y1="1" y2="135"  stroke="#F2F2F2" stroke-width="1.5"/><line x1="304.1" x2="304.1" y1="1" y2="135"  stroke-width="1.3"/><line x1="345.2" x2="345.2" y1="1" y2="135"  stroke="#F2F2F2" stroke-width="1.5"/><line x1="386.3" x2="386.3" y1="1" y2="135"  stroke-width="1.3"/></g>
<path d="M58.18,116.4 C58.28,106.63 58.37,96.87 58.48,87.1 C58.6,77.1 58.75,67.1 58.88,57.1 C59.01,47.1 58.97,37.1 59.28,27.1 C59.41,22.77 59.27,18.4 59.78,14.1 C60.01,12.16 59.34,9.51 60.68,8.3 C61.15,7.88 61.86,7.56 62.48,7.3 C64.59,6.41 67.15,7.2 69.48,7.15 L215.98,7.15" fill="none" stroke="#F8766D" stroke-width="3.4" stroke-linejoin="round"/>
<line x1="215.98" y1="7.15" x2="373.15" y2="7.15" stroke="#F8766D" stroke-width="3.4" stroke-dasharray="6.9 6.95" stroke-dashoffset="-0.5"/>
<circle cx="215.98" cy="7.15" r="5.75" fill="#F8766D"/>
<text x="320.5" y="88.3" font-size="12.35" text-anchor="middle">plot_terr_28 %</text>
<text x="36.6" y="115.55" font-size="10.3" text-anchor="end">0.6</text>
<text x="36.6" y="89.49" font-size="10.3" text-anchor="end">0.7</text>
<text x="36.6" y="63.42" font-size="10.3" text-anchor="end">0.8</text>
<text x="36.6" y="37.36" font-size="10.3" text-anchor="end">0.9</text>
<text x="36.6" y="11.3" font-size="10.3" text-anchor="end">1.0</text>
<text x="57.5" y="148.8" font-size="10.3" text-anchor="middle">0</text>
<text x="139.7" y="148.8" font-size="10.3" text-anchor="middle">250</text>
<text x="221.9" y="148.8" font-size="10.3" text-anchor="middle">500</text>
<text x="304.1" y="148.8" font-size="10.3" text-anchor="middle">750</text>
<text x="386.3" y="148.8" font-size="10.3" text-anchor="middle">1000</text>
<text x="215.5" y="163.9" font-size="13.4" text-anchor="middle">Number of minutes</text>
<text transform="translate(9.7,68) rotate(-90)" font-size="13.4" text-anchor="middle">Species richness</text>
</g>
<g transform="translate(801.04,177.9)">
<g stroke="#EBEBEB"><line x1="41.9" x2="388.9" y1="134.6" y2="134.6"  stroke-width="1.3"/><line x1="41.9" x2="388.9" y1="119.82" y2="119.82"  stroke="#F2F2F2" stroke-width="1.5"/><line x1="41.9" x2="388.9" y1="105.05" y2="105.05"  stroke-width="1.3"/><line x1="41.9" x2="388.9" y1="90.28" y2="90.28"  stroke="#F2F2F2" stroke-width="1.5"/><line x1="41.9" x2="388.9" y1="75.5" y2="75.5"  stroke-width="1.3"/><line x1="41.9" x2="388.9" y1="60.72" y2="60.72"  stroke="#F2F2F2" stroke-width="1.5"/><line x1="41.9" x2="388.9" y1="45.95" y2="45.95"  stroke-width="1.3"/><line x1="41.9" x2="388.9" y1="31.18" y2="31.18"  stroke="#F2F2F2" stroke-width="1.5"/><line x1="41.9" x2="388.9" y1="16.4" y2="16.4"  stroke-width="1.3"/><line x1="41.9" x2="388.9" y1="1.62" y2="1.62"  stroke="#F2F2F2" stroke-width="1.5"/><line x1="57.5" x2="57.5" y1="1" y2="135"  stroke-width="1.3"/><line x1="98.6" x2="98.6" y1="1" y2="135"  stroke="#F2F2F2" stroke-width="1.5"/><line x1="139.7" x2="139.7" y1="1" y2="135"  stroke-width="1.3"/><line x1="180.8" x2="180.8" y1="1" y2="135"  stroke="#F2F2F2" stroke-width="1.5"/><line x1="221.9" x2="221.9" y1="1" y2="135"  stroke-width="1.3"/><line x1="263" x2="263" y1="1" y2="135"  stroke="#F2F2F2" stroke-width="1.5"/><line x1="304.1" x2="304.1" y1="1" y2="135"  stroke-width="1.3"/><line x1="345.2" x2="345.2" y1="1" y2="135"  stroke="#F2F2F2" stroke-width="1.5"/><line x1="386.3" x2="386.3" y1="1" y2="135"  stroke-width="1.3"/></g>
<path d="M59.96,102.6 C60.29,102.23 60.64,101.87 60.96,101.5 C62.77,99.4 63.98,96.85 65.46,94.5 C66.95,92.15 68.32,89.72 69.86,87.4 C71.26,85.29 72.79,83.26 74.26,81.2 C75.72,79.16 77.12,77.08 78.66,75.1 C80.07,73.29 81.57,71.54 83.06,69.8 C85.9,66.48 88.77,63.18 91.86,60.1 C94.66,57.31 97.64,54.66 100.66,52.1 C103.52,49.68 106.45,47.34 109.46,45.1 C112.36,42.94 115.37,40.93 118.36,38.9 C121.27,36.93 124.19,34.97 127.16,33.1 C131.03,30.66 134.94,28.27 138.96,26.1 C142.24,24.33 145.56,22.62 148.96,21.1 C152.23,19.63 155.57,18.28 158.96,17.1 C162.24,15.96 165.59,14.97 168.96,14.1 C172.26,13.24 175.61,12.57 178.96,11.9 C182.28,11.24 185.61,10.6 188.96,10.1 C192.28,9.6 195.62,9.26 198.96,8.9 C203.95,8.37 208.95,7.85 213.96,7.6 C218.95,7.35 223.96,7.47 228.96,7.4 L373.06,7.4 L373.06,83.9 L220.96,83.9 C216.96,83.73 212.96,83.58 208.96,83.4 C205.63,83.25 202.3,82.98 198.96,82.9 C195.63,82.82 192.29,82.78 188.96,82.9 C185.62,83.02 182.28,83.24 178.96,83.6 C175.61,83.97 172.28,84.52 168.96,85.1 C165.61,85.69 162.26,86.28 158.96,87.1 C155.59,87.94 152.28,89.07 148.96,90.1 C145.62,91.14 142.33,92.35 138.96,93.3 C135.07,94.39 131.08,95.12 127.16,96.1 C124.22,96.84 121.3,97.65 118.36,98.4 C115.4,99.15 112.43,99.86 109.46,100.6 C106.53,101.33 103.61,102.13 100.66,102.8 C97.74,103.46 94.81,104.08 91.86,104.6 C88.94,105.11 86,105.53 83.06,105.9 C80.13,106.27 77.2,106.72 74.26,106.8 C71.33,106.88 68.32,106.98 65.46,106.4 C63.94,106.09 62.38,105.75 60.96,105.1 C60.62,104.95 60.29,104.77 59.96,104.6 Z" fill="#F8766D" fill-opacity="0.2"/>
<path d="M58.18,125.78 L58.2,124.29 L58.22,122.91 L58.25,121.63 L58.27,120.43 L58.29,119.32 L58.32,118.28 L58.34,117.31 L58.36,116.41 L58.38,115.57 L58.41,114.78 L58.43,114.05 L58.45,113.37 L58.48,112.74 L58.5,112.15 L58.55,111.08 L58.59,110.15 L58.64,109.35 L58.68,108.64 L58.73,108.03 L58.8,107.25 L58.87,106.62 L58.96,105.94 L59.05,105.42 L59.16,104.92 L59.32,104.42 L59.53,103.99 L59.78,103.63 L60.08,103.32 L60.4,103.03 L60.74,102.75 L61.09,102.47 L61.43,102.2 L61.78,101.93 L62.12,101.66 L62.46,101.39 L62.81,101.13 L63.15,100.86 L63.49,100.59 L63.84,100.33 L64.18,100.06 L64.52,99.8 L64.87,99.54 L65.21,99.27 L65.56,99.01 L65.9,98.75 L66.24,98.49 L66.59,98.23 L66.93,97.97 L67.27,97.71 L67.81,97.31 L68.31,96.94 L68.81,96.57 L69.3,96.2 L69.8,95.84 L70.29,95.47 L70.79,95.11 L71.28,94.75 L71.78,94.39 L72.27,94.03 L72.77,93.68 L73.26,93.32 L73.76,92.97 L74.25,92.61 L74.75,92.26 L75.24,91.91 L75.74,91.56 L76.24,91.22 L76.73,90.87 L77.23,90.53 L77.72,90.18 L78.22,89.84 L78.71,89.5 L79.21,89.17 L79.7,88.83 L80.2,88.49 L80.69,88.16 L81.19,87.83 L81.68,87.49 L82.18,87.16 L82.68,86.84 L83.17,86.51 L83.67,86.18 L84.16,85.86 L84.66,85.54 L85.15,85.21 L85.65,84.89 L86.14,84.57 L86.64,84.26 L87.13,83.94 L87.63,83.63 L88.12,83.31 L88.62,83 L89.11,82.69 L89.61,82.38 L90.11,82.07 L90.6,81.77 L91.1,81.46 L91.59,81.16 L92.09,80.86 L92.58,80.56 L93.08,80.26 L93.57,79.96 L94.07,79.66 L94.56,79.37 L95.06,79.08 L95.55,78.78 L96.05,78.49 L96.54,78.2 L97.04,77.92 L97.54,77.63 L98.03,77.34 L98.53,77.06 L99.02,76.78 L99.52,76.5 L100.01,76.22 L100.51,75.94 L101,75.66 L101.5,75.38 L101.99,75.11 L102.49,74.84 L102.98,74.57 L103.48,74.29 L103.97,74.03 L104.47,73.76 L104.97,73.49 L105.46,73.23 L105.96,72.96 L106.45,72.7 L106.95,72.44 L107.44,72.18 L107.94,71.92 L108.43,71.67 L108.93,71.41 L109.42,71.16 L109.92,70.91 L110.41,70.66 L110.91,70.41 L111.4,70.16 L111.9,69.91 L112.4,69.66 L112.89,69.42 L113.39,69.18 L113.88,68.94 L114.38,68.7 L114.87,68.46 L115.37,68.22 L115.86,67.98 L116.36,67.75 L116.85,67.51 L117.35,67.28 L117.84,67.05 L118.34,66.82 L118.83,66.59 L119.33,66.37 L119.83,66.14 L120.32,65.92 L120.82,65.69 L121.31,65.47 L121.81,65.25 L122.3,65.03 L122.8,64.82 L123.29,64.6 L123.79,64.39 L124.28,64.17 L124.78,63.96 L125.27,63.75 L125.77,63.54 L126.26,63.33 L126.76,63.12 L127.26,62.92 L127.75,62.71 L128.25,62.51 L128.74,62.31 L129.24,62.11 L129.73,61.91 L130.23,61.71 L130.72,61.52 L131.22,61.32 L131.71,61.13 L132.21,60.94 L132.7,60.75 L133.2,60.56 L133.7,60.37 L134.19,60.18 L134.69,59.99 L135.18,59.81 L135.68,59.63 L136.17,59.45 L136.67,59.26 L137.16,59.09 L137.66,58.91 L138.15,58.73 L138.65,58.56 L139.14,58.38 L139.64,58.21 L140.13,58.04 L140.63,57.87 L141.13,57.7 L141.62,57.53 L142.12,57.36 L142.61,57.2 L143.11,57.03 L143.6,56.87 L144.1,56.71 L144.59,56.55 L145.09,56.39 L145.58,56.24 L146.08,56.08 L146.57,55.92 L147.07,55.77 L147.56,55.62 L148.06,55.47 L148.56,55.32 L149.05,55.17 L149.55,55.02 L150.04,54.88 L150.54,54.73 L151.03,54.59 L151.53,54.45 L152.02,54.31 L152.52,54.17 L153.01,54.03 L153.51,53.89 L154,53.75 L154.5,53.62 L154.99,53.49 L155.49,53.35 L155.99,53.22 L156.48,53.09 L156.98,52.97 L157.47,52.84 L157.97,52.71 L158.46,52.59 L158.96,52.47 L159.45,52.34 L159.95,52.22 L160.44,52.1 L160.94,51.98 L161.43,51.87 L161.93,51.75 L162.42,51.64 L162.92,51.52 L163.42,51.41 L163.91,51.3 L164.41,51.19 L164.9,51.08 L165.4,50.97 L165.89,50.87 L166.39,50.76 L167.13,50.61 L167.87,50.45 L168.62,50.3 L169.36,50.16 L170.1,50.01 L170.85,49.87 L171.59,49.73 L172.33,49.6 L173.07,49.46 L173.82,49.33 L174.56,49.2 L175.3,49.08 L176.05,48.95 L176.79,48.83 L177.53,48.72 L178.28,48.6 L179.02,48.49 L179.76,48.38 L180.5,48.27 L181.25,48.17 L181.99,48.06 L182.73,47.96 L183.48,47.87 L184.22,47.77 L184.96,47.68 L185.71,47.59 L186.45,47.51 L187.19,47.42 L187.93,47.34 L188.68,47.26 L189.42,47.18 L190.16,47.11 L190.91,47.04 L191.65,46.97 L192.39,46.9 L193.14,46.84 L193.88,46.77 L194.62,46.71 L195.37,46.66 L196.11,46.6 L196.85,46.55 L197.59,46.5 L198.34,46.45 L199.08,46.41 L199.82,46.36 L200.57,46.32 L201.31,46.28 L202.05,46.25 L202.8,46.21 L203.54,46.18 L204.28,46.15 L205.02,46.12 L205.77,46.1 L206.51,46.07 L207.25,46.05 L208,46.03 L208.74,46.02 L209.48,46 L210.23,45.99 L210.97,45.98 L211.71,45.97 L212.45,45.96 L213.2,45.96 L213.94,45.95 L214.68,45.95 L215.43,45.95 L215.67,45.95" fill="none" stroke="#F8766D" stroke-width="3.4" stroke-linejoin="round"/>
<line x1="215.67" y1="45.95" x2="373.15" y2="45.95" stroke="#F8766D" stroke-width="3.4" stroke-dasharray="6.9 6.95" stroke-dashoffset="-0.5"/>
<circle cx="215.67" cy="45.95" r="5.75" fill="#F8766D"/>
<text x="320.5" y="88.3" font-size="12.35" text-anchor="middle">plot_arb_32.5 %</text>
<text x="36.6" y="138.75" font-size="10.3" text-anchor="end">0.5</text>
<text x="36.6" y="109.2" font-size="10.3" text-anchor="end">1.0</text>
<text x="36.6" y="79.65" font-size="10.3" text-anchor="end">1.5</text>
<text x="36.6" y="50.1" font-size="10.3" text-anchor="end">2.0</text>
<text x="36.6" y="20.55" font-size="10.3" text-anchor="end">2.5</text>
<text x="57.5" y="148.8" font-size="10.3" text-anchor="middle">0</text>
<text x="139.7" y="148.8" font-size="10.3" text-anchor="middle">250</text>
<text x="221.9" y="148.8" font-size="10.3" text-anchor="middle">500</text>
<text x="304.1" y="148.8" font-size="10.3" text-anchor="middle">750</text>
<text x="386.3" y="148.8" font-size="10.3" text-anchor="middle">1000</text>
<text x="215.5" y="163.9" font-size="13.4" text-anchor="middle">Number of minutes</text>
<text transform="translate(9.7,68) rotate(-90)" font-size="13.4" text-anchor="middle">Species richness</text>
</g>
<g transform="translate(0,355.8)">
<g stroke="#EBEBEB"><line x1="41.9" x2="388.9" y1="132.9" y2="132.9"  stroke-width="1.3"/><line x1="41.9" x2="388.9" y1="117.75" y2="117.75"  stroke="#F2F2F2" stroke-width="1.5"/><line x1="41.9" x2="388.9" y1="102.6" y2="102.6"  stroke-width="1.3"/><line x1="41.9" x2="388.9" y1="87.45" y2="87.45"  stroke="#F2F2F2" stroke-width="1.5"/><line x1="41.9" x2="388.9" y1="72.3" y2="72.3"  stroke-width="1.3"/><line x1="41.9" x2="388.9" y1="57.15" y2="57.15"  stroke="#F2F2F2" stroke-width="1.5"/><line x1="41.9" x2="388.9" y1="42" y2="42"  stroke-width="1.3"/><line x1="41.9" x2="388.9" y1="26.85" y2="26.85"  stroke="#F2F2F2" stroke-width="1.5"/><line x1="41.9" x2="388.9" y1="11.7" y2="11.7"  stroke-width="1.3"/><line x1="57.5" x2="57.5" y1="1" y2="135"  stroke-width="1.3"/><line x1="98.6" x2="98.6" y1="1" y2="135"  stroke="#F2F2F2" stroke-width="1.5"/><line x1="139.7" x2="139.7" y1="1" y2="135"  stroke-width="1.3"/><line x1="180.8" x2="180.8" y1="1" y2="135"  stroke="#F2F2F2" stroke-width="1.5"/><line x1="221.9" x2="221.9" y1="1" y2="135"  stroke-width="1.3"/><line x1="263" x2="263" y1="1" y2="135"  stroke="#F2F2F2" stroke-width="1.5"/><line x1="304.1" x2="304.1" y1="1" y2="135"  stroke-width="1.3"/><line x1="345.2" x2="345.2" y1="1" y2="135"  stroke="#F2F2F2" stroke-width="1.5"/><line x1="386.3" x2="386.3" y1="1" y2="135"  stroke-width="1.3"/></g>
<path d="M64,62.2 C64.2,60.1 64.4,58 64.6,55.9 C64.87,53.1 65.05,50.29 65.4,47.5 C65.75,44.72 66.22,41.96 66.7,39.2 C67.18,36.42 67.63,33.63 68.3,30.9 C68.99,28.07 69.78,25.23 70.8,22.5 C71.86,19.66 72.51,16.3 74.6,14.2 C75.44,13.36 76.48,12.64 77.5,12 C79.53,10.71 81.89,9.91 84.2,9.2 C85.54,8.79 86.92,8.47 88.3,8.2 C91.06,7.66 93.89,7.41 96.7,7.3 C99.46,7.19 102.25,7.21 105,7.5 C106.84,7.7 108.67,8.09 110.5,8.4 C113.47,8.9 116.42,9.53 119.4,10 C122.32,10.46 125.26,10.92 128.2,11.2 C132.11,11.58 136.06,11.62 140,11.7 C143.33,11.76 146.67,11.7 150,11.7 L150,11.7 C146.67,11.77 143.33,11.76 140,11.9 C136.06,12.06 132.12,12.28 128.2,12.7 C125.26,13.01 122.32,13.4 119.4,13.9 C116.25,14.45 113.14,15.25 110,15.9 C105.84,16.76 101.57,17.23 97.5,18.4 C94.69,19.21 91.84,20.05 89.2,21.3 C87.01,22.34 84.79,23.49 82.9,25 C81.38,26.22 80,27.69 78.75,29.2 C77.66,30.51 76.68,31.94 75.8,33.4 C74.84,34.99 74.03,36.69 73.3,38.4 C72.49,40.28 71.84,42.24 71.25,44.2 C70.59,46.4 70.17,48.67 69.6,50.9 C69.18,52.57 68.93,54.31 68.3,55.9 C67.71,57.4 67.01,58.95 66,60.2 C65.41,60.93 64.67,61.53 64,62.2 Z" fill="#F8766D" fill-opacity="0.2"/>
<path d="M58.18,126.95 L58.22,126.15 L58.27,125.35 L58.32,124.56 L58.36,123.78 L58.41,123.01 L58.45,122.24 L58.5,121.47 L58.55,120.72 L58.59,119.97 L58.64,119.22 L58.68,118.49 L58.73,117.75 L58.77,117.03 L58.82,116.31 L58.87,115.59 L58.91,114.88 L58.96,114.18 L59,113.49 L59.05,112.79 L59.1,112.11 L59.14,111.43 L59.19,110.75 L59.23,110.09 L59.28,109.42 L59.32,108.76 L59.37,108.11 L59.42,107.46 L59.46,106.82 L59.51,106.18 L59.55,105.55 L59.6,104.92 L59.64,104.3 L59.69,103.69 L59.74,103.07 L59.78,102.47 L59.83,101.86 L59.87,101.27 L59.92,100.67 L59.97,100.09 L60.01,99.5 L60.06,98.92 L60.1,98.35 L60.15,97.78 L60.19,97.22 L60.24,96.66 L60.29,96.1 L60.36,95.27 L60.42,94.46 L60.49,93.65 L60.56,92.86 L60.63,92.07 L60.7,91.29 L60.77,90.52 L60.84,89.76 L60.9,89.01 L60.97,88.27 L61.04,87.54 L61.11,86.81 L61.18,86.1 L61.25,85.39 L61.32,84.69 L61.39,84 L61.45,83.31 L61.52,82.64 L61.59,81.97 L61.66,81.31 L61.73,80.66 L61.8,80.01 L61.87,79.37 L61.94,78.74 L62,78.12 L62.07,77.5 L62.14,76.89 L62.21,76.29 L62.28,75.7 L62.35,75.11 L62.42,74.53 L62.49,73.95 L62.55,73.38 L62.62,72.82 L62.69,72.26 L62.76,71.71 L62.83,71.17 L62.9,70.63 L62.97,70.1 L63.06,69.4 L63.15,68.71 L63.24,68.03 L63.33,67.36 L63.42,66.7 L63.52,66.05 L63.61,65.41 L63.7,64.78 L63.79,64.16 L63.88,63.54 L63.97,62.94 L64.07,62.34 L64.16,61.76 L64.25,61.18 L64.34,60.61 L64.43,60.05 L64.52,59.49 L64.62,58.95 L64.71,58.41 L64.8,57.88 L64.89,57.35 L64.98,56.84 L65.07,56.33 L65.19,55.7 L65.3,55.08 L65.42,54.48 L65.53,53.88 L65.65,53.3 L65.76,52.73 L65.88,52.16 L65.99,51.61 L66.11,51.06 L66.22,50.52 L66.33,50 L66.45,49.48 L66.56,48.97 L66.68,48.46 L66.79,47.97 L66.91,47.48 L67.04,46.91 L67.18,46.35 L67.32,45.8 L67.57,44.84 L67.81,43.91 L68.06,43.01 L68.31,42.14 L68.56,41.3 L68.81,40.48 L69.05,39.7 L69.3,38.94 L69.55,38.2 L69.8,37.49 L70.04,36.8 L70.29,36.13 L70.54,35.48 L70.79,34.86 L71.03,34.25 L71.28,33.66 L71.53,33.09 L71.78,32.53 L72.03,32 L72.27,31.47 L72.52,30.97 L72.77,30.47 L73.02,30 L73.26,29.53 L73.51,29.08 L73.76,28.64 L74.01,28.22 L74.25,27.8 L74.5,27.4 L74.75,27.01 L75,26.63 L75.24,26.26 L75.49,25.9 L75.99,25.2 L76.48,24.55 L76.98,23.92 L77.47,23.33 L77.97,22.77 L78.46,22.24 L78.96,21.73 L79.46,21.25 L79.95,20.79 L80.45,20.36 L80.94,19.94 L81.44,19.54 L81.93,19.17 L82.43,18.81 L82.92,18.47 L83.42,18.14 L83.91,17.83 L84.41,17.54 L84.9,17.25 L85.4,16.99 L85.89,16.73 L86.39,16.48 L86.89,16.25 L87.38,16.03 L87.88,15.82 L88.37,15.61 L88.87,15.42 L89.36,15.24 L89.86,15.06 L90.35,14.9 L90.85,14.74 L91.34,14.58 L91.84,14.44 L92.33,14.3 L92.83,14.17 L93.32,14.05 L93.82,13.93 L94.32,13.81 L94.81,13.7 L95.55,13.55 L96.3,13.41 L97.04,13.28 L97.78,13.16 L98.53,13.04 L99.27,12.94 L100.01,12.84 L100.75,12.75 L101.5,12.67 L102.24,12.59 L102.98,12.52 L103.73,12.45 L104.47,12.39 L105.21,12.33 L105.96,12.28 L106.7,12.23 L107.44,12.19 L108.19,12.14 L108.93,12.11 L109.67,12.07 L110.41,12.04 L111.16,12.01 L111.9,11.98 L112.64,11.96 L113.39,11.94 L114.13,11.91 L114.87,11.89 L115.62,11.88 L116.36,11.86 L117.1,11.85 L117.84,11.83 L118.59,11.82 L119.33,11.81 L120.07,11.8 L120.82,11.79 L121.56,11.78 L122.3,11.77 L123.05,11.77 L123.79,11.76 L124.53,11.75 L125.27,11.75 L126.02,11.74 L126.76,11.74 L127.5,11.73 L128.25,11.73 L128.99,11.73 L129.73,11.73 L130.48,11.72 L131.22,11.72 L131.96,11.72 L132.7,11.72 L133.45,11.71 L134.19,11.71 L134.93,11.71 L135.68,11.71 L136.42,11.71 L137.16,11.71 L137.91,11.71 L138.65,11.71 L139.39,11.71 L140.13,11.7 L140.88,11.7 L141.62,11.7 L142.36,11.7 L143.11,11.7 L143.85,11.7 L144.59,11.7 L145.34,11.7 L146.08,11.7 L146.82,11.7 L147.56,11.7 L148.31,11.7 L149.05,11.7 L149.79,11.7 L150.54,11.7 L151.28,11.7 L152.02,11.7 L152.77,11.7 L153.51,11.7 L154.25,11.7 L154.99,11.7 L155.74,11.7 L156.48,11.7 L157.22,11.7 L157.97,11.7 L158.71,11.7 L159.45,11.7 L160.2,11.7 L160.94,11.7 L161.68,11.7 L162.42,11.7 L163.17,11.7 L163.91,11.7 L164.65,11.7 L165.4,11.7 L166.14,11.7 L166.88,11.7 L167.63,11.7 L168.37,11.7 L169.11,11.7 L169.85,11.7 L170.6,11.7 L171.34,11.7 L172.08,11.7 L172.83,11.7 L173.57,11.7 L174.31,11.7 L175.06,11.7 L175.8,11.7 L176.54,11.7 L177.29,11.7 L178.03,11.7 L178.77,11.7 L179.51,11.7 L180.26,11.7 L181,11.7 L181.74,11.7 L182.49,11.7 L183.23,11.7 L183.97,11.7 L184.72,11.7 L185.46,11.7 L186.2,11.7 L186.94,11.7 L187.69,11.7 L188.43,11.7 L189.17,11.7 L189.92,11.7 L190.66,11.7 L191.4,11.7 L192.15,11.7 L192.89,11.7 L193.63,11.7 L194.37,11.7 L195.12,11.7 L195.86,11.7 L196.6,11.7 L197.35,11.7 L198.09,11.7 L198.83,11.7 L199.58,11.7 L200.32,11.7 L201.06,11.7 L201.8,11.7 L202.55,11.7 L203.29,11.7 L204.03,11.7 L204.78,11.7 L205.52,11.7 L206.26,11.7 L207.01,11.7 L207.75,11.7 L208.49,11.7 L209.23,11.7 L209.98,11.7 L210.72,11.7 L211.46,11.7 L212.21,11.7 L212.95,11.7 L213.69,11.7 L214.44,11.7 L215.18,11.7 L215.67,11.7" fill="none" stroke="#F8766D" stroke-width="3.4" stroke-linejoin="round"/>
<line x1="215.67" y1="11.7" x2="373.15" y2="11.7" stroke="#F8766D" stroke-width="3.4" stroke-dasharray="6.9 6.95" stroke-dashoffset="-0.5"/>
<circle cx="215.67" cy="11.7" r="5.75" fill="#F8766D"/>
<text x="320.5" y="88.3" font-size="12.35" text-anchor="middle">plot_terr_32.5 %</text>
<text x="36.6" y="137.05" font-size="10.3" text-anchor="end">0.0</text>
<text x="36.6" y="106.75" font-size="10.3" text-anchor="end">0.5</text>
<text x="36.6" y="76.45" font-size="10.3" text-anchor="end">1.0</text>
<text x="36.6" y="46.15" font-size="10.3" text-anchor="end">1.5</text>
<text x="36.6" y="15.85" font-size="10.3" text-anchor="end">2.0</text>
<text x="57.5" y="148.8" font-size="10.3" text-anchor="middle">0</text>
<text x="139.7" y="148.8" font-size="10.3" text-anchor="middle">250</text>
<text x="221.9" y="148.8" font-size="10.3" text-anchor="middle">500</text>
<text x="304.1" y="148.8" font-size="10.3" text-anchor="middle">750</text>
<text x="386.3" y="148.8" font-size="10.3" text-anchor="middle">1000</text>
<text x="215.5" y="163.9" font-size="13.4" text-anchor="middle">Number of minutes</text>
<text transform="translate(9.7,68) rotate(-90)" font-size="13.4" text-anchor="middle">Species richness</text>
</g>
<g transform="translate(400.52,355.8)">
<g stroke="#EBEBEB"><line x1="41.9" x2="388.9" y1="116.57" y2="116.57"  stroke="#F2F2F2" stroke-width="1.5"/><line x1="41.9" x2="388.9" y1="91.6" y2="91.6"  stroke-width="1.3"/><line x1="41.9" x2="388.9" y1="66.62" y2="66.62"  stroke="#F2F2F2" stroke-width="1.5"/><line x1="41.9" x2="388.9" y1="41.65" y2="41.65"  stroke-width="1.3"/><line x1="41.9" x2="388.9" y1="16.67" y2="16.67"  stroke="#F2F2F2" stroke-width="1.5"/><line x1="57.5" x2="57.5" y1="1" y2="135"  stroke-width="1.3"/><line x1="98.6" x2="98.6" y1="1" y2="135"  stroke="#F2F2F2" stroke-width="1.5"/><line x1="139.7" x2="139.7" y1="1" y2="135"  stroke-width="1.3"/><line x1="180.8" x2="180.8" y1="1" y2="135"  stroke="#F2F2F2" stroke-width="1.5"/><line x1="221.9" x2="221.9" y1="1" y2="135"  stroke-width="1.3"/><line x1="263" x2="263" y1="1" y2="135"  stroke="#F2F2F2" stroke-width="1.5"/><line x1="304.1" x2="304.1" y1="1" y2="135"  stroke-width="1.3"/><line x1="345.2" x2="345.2" y1="1" y2="135"  stroke="#F2F2F2" stroke-width="1.5"/><line x1="386.3" x2="386.3" y1="1" y2="135"  stroke-width="1.3"/></g>
<path d="M60.98,88.2 C61.45,87.67 61.93,87.15 62.38,86.6 C63.73,84.95 64.7,83.01 65.98,81.3 C67.36,79.46 68.97,77.81 70.38,76 C71.92,74.02 73.24,71.88 74.78,69.9 C76.19,68.09 77.71,66.37 79.18,64.6 C80.65,62.83 82.06,61.02 83.58,59.3 C86.33,56.2 89.29,53.26 92.38,50.5 C95.19,47.99 98.17,45.67 101.18,43.4 C104.04,41.24 106.97,39.15 109.98,37.2 C112.88,35.32 115.81,33.46 118.88,31.9 C122.28,30.18 125.92,28.91 129.48,27.5 C132.79,26.18 136.16,25 139.48,23.7 C142.82,22.4 146.12,20.96 149.48,19.7 C152.79,18.46 156.12,17.29 159.48,16.2 C162.79,15.13 166.11,14.04 169.48,13.2 C172.78,12.38 176.14,11.83 179.48,11.2 C182.81,10.57 186.13,9.87 189.48,9.4 C192.8,8.94 196.14,8.69 199.48,8.4 C204.47,7.97 209.48,7.73 214.48,7.4 L373.58,7.4 L373.58,76.7 L224.48,76.7 C219.48,76.53 214.48,76.33 209.48,76.2 C206.15,76.12 202.81,76.03 199.48,76 C196.15,75.97 192.81,75.93 189.48,76 C186.15,76.07 182.81,76.2 179.48,76.4 C176.14,76.6 172.8,76.82 169.48,77.2 C166.13,77.58 162.8,78.12 159.48,78.7 C156.13,79.29 152.79,79.94 149.48,80.7 C146.12,81.47 142.82,82.46 139.48,83.3 C136.15,84.13 132.84,85.01 129.48,85.7 C125.97,86.42 122.4,86.84 118.88,87.5 C115.91,88.06 112.95,88.71 109.98,89.3 C107.05,89.88 104.12,90.48 101.18,91 C98.26,91.51 95.33,92.03 92.38,92.4 C89.46,92.76 86.52,92.98 83.58,93.2 C80.65,93.42 77.71,93.77 74.78,93.7 C71.84,93.63 68.71,93.8 65.98,92.8 C64.74,92.34 63.55,91.65 62.38,91 C61.91,90.74 61.45,90.47 60.98,90.2 Z" fill="#F8766D" fill-opacity="0.2"/>
<path d="M58.18,126.69 L58.2,125.83 L58.22,124.99 L58.25,124.17 L58.27,123.37 L58.29,122.59 L58.32,121.82 L58.34,121.08 L58.36,120.35 L58.38,119.64 L58.41,118.94 L58.43,118.26 L58.45,117.6 L58.48,116.95 L58.5,116.32 L58.52,115.7 L58.55,115.1 L58.57,114.51 L58.61,113.37 L58.66,112.29 L58.71,111.25 L58.75,110.26 L58.8,109.32 L58.84,108.42 L58.89,107.56 L58.93,106.74 L58.98,105.96 L59.03,105.21 L59.07,104.5 L59.12,103.82 L59.16,103.17 L59.21,102.55 L59.26,101.96 L59.3,101.39 L59.37,100.59 L59.44,99.84 L59.51,99.14 L59.58,98.49 L59.64,97.88 L59.71,97.31 L59.78,96.78 L59.87,96.12 L59.97,95.52 L60.06,94.97 L60.17,94.34 L60.29,93.78 L60.4,93.28 L60.54,92.73 L60.68,92.26 L60.84,91.76 L61.02,91.28 L61.2,90.86 L61.41,90.45 L61.64,90.06 L61.89,89.7 L62.16,89.35 L62.46,89.03 L62.78,88.73 L63.13,88.43 L63.47,88.17 L63.84,87.9 L64.2,87.65 L64.57,87.41 L64.94,87.17 L65.33,86.92 L65.72,86.68 L66.11,86.44 L66.49,86.2 L66.88,85.96 L67.27,85.73 L67.81,85.4 L68.31,85.1 L68.81,84.81 L69.3,84.51 L69.8,84.22 L70.29,83.92 L70.79,83.63 L71.28,83.34 L71.78,83.05 L72.27,82.76 L72.77,82.47 L73.26,82.18 L73.76,81.9 L74.25,81.61 L74.75,81.33 L75.24,81.05 L75.74,80.76 L76.24,80.48 L76.73,80.2 L77.23,79.93 L77.72,79.65 L78.22,79.37 L78.71,79.09 L79.21,78.82 L79.7,78.55 L80.2,78.27 L80.69,78 L81.19,77.73 L81.68,77.46 L82.18,77.19 L82.68,76.93 L83.17,76.66 L83.67,76.39 L84.16,76.13 L84.66,75.87 L85.15,75.6 L85.65,75.34 L86.14,75.08 L86.64,74.82 L87.13,74.56 L87.63,74.31 L88.12,74.05 L88.62,73.79 L89.11,73.54 L89.61,73.29 L90.11,73.04 L90.6,72.78 L91.1,72.53 L91.59,72.28 L92.09,72.04 L92.58,71.79 L93.08,71.54 L93.57,71.3 L94.07,71.05 L94.56,70.81 L95.06,70.57 L95.55,70.33 L96.05,70.09 L96.54,69.85 L97.04,69.61 L97.54,69.38 L98.03,69.14 L98.53,68.9 L99.02,68.67 L99.52,68.44 L100.01,68.21 L100.51,67.98 L101,67.75 L101.5,67.52 L101.99,67.29 L102.49,67.06 L102.98,66.84 L103.48,66.61 L103.97,66.39 L104.47,66.17 L104.97,65.95 L105.46,65.72 L105.96,65.51 L106.45,65.29 L106.95,65.07 L107.44,64.85 L107.94,64.64 L108.43,64.42 L108.93,64.21 L109.42,64 L109.92,63.79 L110.41,63.58 L110.91,63.37 L111.4,63.16 L111.9,62.95 L112.4,62.74 L112.89,62.54 L113.39,62.34 L113.88,62.13 L114.38,61.93 L114.87,61.73 L115.37,61.53 L115.86,61.33 L116.36,61.13 L116.85,60.93 L117.35,60.74 L117.84,60.54 L118.34,60.35 L118.83,60.16 L119.33,59.96 L119.83,59.77 L120.32,59.58 L120.82,59.39 L121.31,59.21 L121.81,59.02 L122.3,58.83 L122.8,58.65 L123.29,58.46 L123.79,58.28 L124.28,58.1 L124.78,57.92 L125.27,57.74 L125.77,57.56 L126.26,57.38 L126.76,57.21 L127.26,57.03 L127.75,56.86 L128.25,56.68 L128.74,56.51 L129.24,56.34 L129.73,56.17 L130.23,56 L130.72,55.83 L131.22,55.66 L131.71,55.49 L132.21,55.33 L132.7,55.16 L133.2,55 L133.7,54.84 L134.19,54.68 L134.69,54.52 L135.18,54.36 L135.68,54.2 L136.17,54.04 L136.67,53.88 L137.16,53.73 L137.66,53.57 L138.15,53.42 L138.65,53.27 L139.14,53.12 L139.64,52.96 L140.13,52.82 L140.63,52.67 L141.13,52.52 L141.62,52.37 L142.12,52.23 L142.61,52.08 L143.11,51.94 L143.6,51.8 L144.1,51.66 L144.59,51.52 L145.09,51.38 L145.58,51.24 L146.08,51.1 L146.57,50.96 L147.07,50.83 L147.56,50.69 L148.06,50.56 L148.56,50.43 L149.05,50.3 L149.55,50.17 L150.04,50.04 L150.54,49.91 L151.03,49.78 L151.53,49.66 L152.02,49.53 L152.52,49.41 L153.01,49.28 L153.51,49.16 L154,49.04 L154.5,48.92 L154.99,48.8 L155.49,48.68 L155.99,48.56 L156.48,48.45 L156.98,48.33 L157.47,48.22 L157.97,48.1 L158.46,47.99 L158.96,47.88 L159.45,47.77 L159.95,47.66 L160.44,47.55 L160.94,47.45 L161.43,47.34 L161.93,47.23 L162.67,47.08 L163.42,46.92 L164.16,46.77 L164.9,46.62 L165.64,46.48 L166.39,46.33 L167.13,46.19 L167.87,46.05 L168.62,45.91 L169.36,45.77 L170.1,45.64 L170.85,45.51 L171.59,45.38 L172.33,45.25 L173.07,45.13 L173.82,45.01 L174.56,44.89 L175.3,44.77 L176.05,44.65 L176.79,44.54 L177.53,44.43 L178.28,44.32 L179.02,44.21 L179.76,44.11 L180.5,44 L181.25,43.9 L181.99,43.8 L182.73,43.71 L183.48,43.61 L184.22,43.52 L184.96,43.43 L185.71,43.35 L186.45,43.26 L187.19,43.18 L187.93,43.1 L188.68,43.02 L189.42,42.95 L190.16,42.87 L190.91,42.8 L191.65,42.73 L192.39,42.66 L193.14,42.6 L193.88,42.54 L194.62,42.47 L195.37,42.42 L196.11,42.36 L196.85,42.31 L197.59,42.25 L198.34,42.2 L199.08,42.16 L199.82,42.11 L200.57,42.07 L201.31,42.03 L202.05,41.99 L202.8,41.95 L203.54,41.92 L204.28,41.88 L205.02,41.85 L205.77,41.83 L206.51,41.8 L207.25,41.78 L208,41.75 L208.74,41.73 L209.48,41.72 L210.23,41.7 L210.97,41.69 L211.71,41.68 L212.45,41.67 L213.2,41.66 L213.94,41.65 L214.68,41.65 L215.43,41.65 L215.67,41.65" fill="none" stroke="#F8766D" stroke-width="3.4" stroke-linejoin="round"/>
<line x1="215.67" y1="41.65" x2="373.15" y2="41.65" stroke="#F8766D" stroke-width="3.4" stroke-dasharray="6.9 6.95" stroke-dashoffset="-0.5"/>
<circle cx="215.67" cy="41.65" r="5.75" fill="#F8766D"/>
<text x="320.5" y="88.3" font-size="12.35" text-anchor="middle">plot_arb_32.8 %</text>
<text x="36.6" y="95.75" font-size="10.3" text-anchor="end">1</text>
<text x="36.6" y="45.8" font-size="10.3" text-anchor="end">2</text>
<text x="57.5" y="148.8" font-size="10.3" text-anchor="middle">0</text>
<text x="139.7" y="148.8" font-size="10.3" text-anchor="middle">250</text>
<text x="221.9" y="148.8" font-size="10.3" text-anchor="middle">500</text>
<text x="304.1" y="148.8" font-size="10.3" text-anchor="middle">750</text>
<text x="386.3" y="148.8" font-size="10.3" text-anchor="middle">1000</text>
<text x="215.5" y="163.9" font-size="13.4" text-anchor="middle">Number of minutes</text>
<text transform="translate(9.7,68) rotate(-90)" font-size="13.4" text-anchor="middle">Species richness</text>
</g>
<g transform="translate(801.04,355.8)">
<g stroke="#EBEBEB"><line x1="41.9" x2="388.9" y1="128.9" y2="128.9"  stroke-width="1.3"/><line x1="41.9" x2="388.9" y1="108.19" y2="108.19"  stroke="#F2F2F2" stroke-width="1.5"/><line x1="41.9" x2="388.9" y1="87.48" y2="87.48"  stroke-width="1.3"/><line x1="41.9" x2="388.9" y1="66.77" y2="66.77"  stroke="#F2F2F2" stroke-width="1.5"/><line x1="41.9" x2="388.9" y1="46.07" y2="46.07"  stroke-width="1.3"/><line x1="41.9" x2="388.9" y1="25.36" y2="25.36"  stroke="#F2F2F2" stroke-width="1.5"/><line x1="41.9" x2="388.9" y1="4.65" y2="4.65"  stroke-width="1.3"/><line x1="57.5" x2="57.5" y1="1" y2="135"  stroke-width="1.3"/><line x1="98.6" x2="98.6" y1="1" y2="135"  stroke="#F2F2F2" stroke-width="1.5"/><line x1="139.7" x2="139.7" y1="1" y2="135"  stroke-width="1.3"/><line x1="180.8" x2="180.8" y1="1" y2="135"  stroke="#F2F2F2" stroke-width="1.5"/><line x1="221.9" x2="221.9" y1="1" y2="135"  stroke-width="1.3"/><line x1="263" x2="263" y1="1" y2="135"  stroke="#F2F2F2" stroke-width="1.5"/><line x1="304.1" x2="304.1" y1="1" y2="135"  stroke-width="1.3"/><line x1="345.2" x2="345.2" y1="1" y2="135"  stroke="#F2F2F2" stroke-width="1.5"/><line x1="386.3" x2="386.3" y1="1" y2="135"  stroke-width="1.3"/></g>
<path d="M58.46,125.2 C58.73,124.1 58.97,122.99 59.26,121.9 C60.38,117.66 62.07,113.59 63.66,109.5 C65.03,105.96 66.6,102.5 68.06,99 C69.53,95.47 70.64,91.75 72.46,88.4 C73.98,85.6 75.81,82.93 77.76,80.4 C79.4,78.27 81.16,76.19 83.06,74.3 C85.72,71.65 88.85,69.47 91.86,67.2 C94.72,65.04 97.65,62.94 100.66,61 C103.52,59.16 106.5,57.49 109.46,55.8 C112.4,54.12 115.41,52.57 118.36,50.9 C121.92,48.88 125.35,46.63 128.96,44.7 C132.23,42.95 135.62,41.42 138.96,39.8 C145.61,36.56 152.25,33.32 158.96,30.2 C165.59,27.12 172.23,24.06 178.96,21.2 C185.57,18.39 192.25,15.74 198.96,13.2 C204.26,11.19 209.63,9.33 214.96,7.4 L373.06,7.4 L373.06,85.4 L218.96,85.4 C215.63,85.6 212.29,85.77 208.96,86 C202.29,86.46 195.62,87.08 188.96,87.7 C182.29,88.32 175.63,89.03 168.96,89.7 C162.29,90.37 155.63,91.05 148.96,91.7 C142.29,92.35 135.64,93.17 128.96,93.6 C125.43,93.82 121.89,93.92 118.36,94.1 C115.39,94.25 112.42,94.38 109.46,94.6 C106.52,94.82 103.57,94.97 100.66,95.4 C97.7,95.83 94.72,96.35 91.86,97.2 C88.84,98.09 85.8,99.17 83.06,100.7 C81.21,101.73 79.41,102.96 77.76,104.3 C75.84,105.85 74.13,107.68 72.46,109.5 C70.91,111.19 69.46,112.98 68.06,114.8 C66.51,116.81 65.13,118.93 63.66,121 C62.19,123.07 60.83,125.21 59.26,127.2 C59,127.54 58.73,127.87 58.46,128.2 Z" fill="#F8766D" fill-opacity="0.2"/>
<path d="M58.18,127.91 L58.34,127.43 L58.5,126.96 L58.66,126.49 L58.82,126.02 L58.98,125.56 L59.14,125.1 L59.3,124.65 L59.46,124.2 L59.62,123.76 L59.78,123.32 L59.97,122.82 L60.15,122.32 L60.33,121.84 L60.52,121.35 L60.7,120.87 L60.88,120.4 L61.07,119.93 L61.25,119.47 L61.43,119.01 L61.62,118.55 L61.8,118.1 L61.98,117.65 L62.16,117.21 L62.35,116.78 L62.53,116.34 L62.71,115.91 L62.9,115.49 L63.08,115.07 L63.29,114.6 L63.49,114.14 L63.7,113.69 L63.91,113.24 L64.11,112.79 L64.32,112.35 L64.52,111.91 L64.73,111.48 L64.94,111.06 L65.14,110.64 L65.35,110.22 L65.56,109.81 L65.76,109.4 L65.97,109 L66.17,108.6 L66.4,108.17 L66.63,107.73 L66.86,107.31 L67.09,106.89 L67.32,106.47 L67.57,106.03 L67.81,105.59 L68.06,105.16 L68.31,104.74 L68.56,104.32 L68.81,103.91 L69.05,103.5 L69.3,103.1 L69.55,102.7 L69.8,102.31 L70.04,101.92 L70.29,101.54 L70.54,101.17 L70.79,100.79 L71.03,100.43 L71.28,100.07 L71.53,99.71 L72.03,99.01 L72.52,98.33 L73.02,97.67 L73.51,97.03 L74.01,96.4 L74.5,95.79 L75,95.2 L75.49,94.62 L75.99,94.05 L76.48,93.5 L76.98,92.97 L77.47,92.45 L77.97,91.94 L78.46,91.44 L78.96,90.96 L79.46,90.49 L79.95,90.03 L80.45,89.58 L80.94,89.14 L81.44,88.72 L81.93,88.3 L82.43,87.89 L82.92,87.5 L83.42,87.11 L83.91,86.73 L84.41,86.36 L84.9,86 L85.4,85.65 L85.89,85.31 L86.39,84.97 L86.89,84.64 L87.38,84.32 L87.88,84.01 L88.37,83.7 L88.87,83.4 L89.36,83.1 L89.86,82.81 L90.35,82.53 L90.85,82.25 L91.34,81.98 L91.84,81.71 L92.33,81.45 L92.83,81.19 L93.32,80.94 L93.82,80.7 L94.32,80.45 L94.81,80.21 L95.31,79.98 L95.8,79.75 L96.3,79.53 L96.79,79.3 L97.29,79.08 L97.78,78.87 L98.28,78.66 L98.77,78.45 L99.27,78.24 L99.76,78.04 L100.26,77.84 L100.75,77.65 L101.25,77.45 L101.75,77.26 L102.24,77.07 L102.74,76.88 L103.23,76.7 L103.73,76.52 L104.22,76.34 L104.72,76.16 L105.21,75.99 L105.71,75.81 L106.2,75.64 L106.7,75.47 L107.19,75.3 L107.69,75.14 L108.19,74.97 L108.68,74.81 L109.18,74.65 L109.67,74.49 L110.17,74.33 L110.66,74.17 L111.16,74.01 L111.65,73.86 L112.15,73.7 L112.64,73.55 L113.14,73.4 L113.63,73.24 L114.13,73.09 L114.62,72.95 L115.12,72.8 L115.62,72.65 L116.11,72.5 L116.61,72.36 L117.1,72.21 L117.6,72.07 L118.09,71.92 L118.59,71.78 L119.08,71.64 L119.58,71.5 L120.07,71.35 L120.57,71.21 L121.06,71.07 L121.56,70.93 L122.05,70.79 L122.55,70.66 L123.05,70.52 L123.54,70.38 L124.04,70.24 L124.53,70.1 L125.03,69.97 L125.52,69.83 L126.02,69.7 L126.51,69.56 L127.01,69.42 L127.5,69.29 L128,69.15 L128.49,69.02 L128.99,68.88 L129.48,68.75 L129.98,68.62 L130.48,68.48 L130.97,68.35 L131.47,68.22 L131.96,68.08 L132.46,67.95 L132.95,67.82 L133.45,67.68 L133.94,67.55 L134.44,67.42 L134.93,67.29 L135.43,67.16 L135.92,67.02 L136.42,66.89 L136.91,66.76 L137.41,66.63 L137.91,66.5 L138.4,66.37 L138.9,66.23 L139.39,66.1 L139.89,65.97 L140.38,65.84 L140.88,65.71 L141.37,65.58 L141.87,65.45 L142.36,65.32 L142.86,65.19 L143.35,65.06 L143.85,64.92 L144.34,64.79 L144.84,64.66 L145.34,64.53 L145.83,64.4 L146.33,64.27 L146.82,64.14 L147.32,64.01 L147.81,63.88 L148.31,63.75 L148.8,63.62 L149.3,63.49 L149.79,63.36 L150.29,63.23 L150.78,63.1 L151.28,62.97 L151.78,62.84 L152.27,62.71 L152.77,62.58 L153.26,62.45 L153.76,62.32 L154.25,62.19 L154.75,62.06 L155.24,61.93 L155.74,61.8 L156.23,61.67 L156.73,61.54 L157.22,61.41 L157.72,61.28 L158.21,61.15 L158.71,61.02 L159.21,60.89 L159.7,60.76 L160.2,60.63 L160.69,60.5 L161.19,60.37 L161.68,60.24 L162.18,60.11 L162.67,59.98 L163.17,59.85 L163.66,59.72 L164.16,59.59 L164.65,59.46 L165.15,59.33 L165.64,59.2 L166.14,59.07 L166.64,58.94 L167.13,58.81 L167.63,58.68 L168.12,58.55 L168.62,58.42 L169.11,58.29 L169.61,58.16 L170.1,58.03 L170.6,57.9 L171.09,57.77 L171.59,57.64 L172.08,57.51 L172.58,57.38 L173.07,57.25 L173.57,57.12 L174.07,56.99 L174.56,56.86 L175.06,56.73 L175.55,56.6 L176.05,56.47 L176.54,56.34 L177.04,56.21 L177.53,56.08 L178.03,55.95 L178.52,55.82 L179.02,55.69 L179.51,55.56 L180.01,55.43 L180.5,55.3 L181,55.17 L181.5,55.04 L181.99,54.91 L182.49,54.78 L182.98,54.65 L183.48,54.52 L183.97,54.39 L184.47,54.26 L184.96,54.13 L185.46,54 L185.95,53.87 L186.45,53.74 L186.94,53.61 L187.44,53.48 L187.93,53.35 L188.43,53.22 L188.93,53.09 L189.42,52.96 L189.92,52.83 L190.41,52.7 L190.91,52.57 L191.4,52.44 L191.9,52.31 L192.39,52.18 L192.89,52.05 L193.38,51.92 L193.88,51.79 L194.37,51.66 L194.87,51.53 L195.37,51.4 L195.86,51.27 L196.36,51.14 L196.85,51.01 L197.35,50.88 L197.84,50.75 L198.34,50.62 L198.83,50.49 L199.33,50.36 L199.82,50.23 L200.32,50.1 L200.81,49.97 L201.31,49.84 L201.8,49.71 L202.3,49.58 L202.8,49.45 L203.29,49.32 L203.79,49.19 L204.28,49.06 L204.78,48.93 L205.27,48.8 L205.77,48.67 L206.26,48.54 L206.76,48.41 L207.25,48.28 L207.75,48.15 L208.24,48.02 L208.74,47.89 L209.23,47.76 L209.73,47.63 L210.23,47.5 L210.72,47.37 L211.22,47.24 L211.71,47.11 L212.21,46.98 L212.7,46.85 L213.2,46.72 L213.69,46.59 L214.19,46.46 L214.68,46.33 L215.18,46.2 L215.67,46.07" fill="none" stroke="#F8766D" stroke-width="3.4" stroke-linejoin="round"/>
<line x1="215.67" y1="46.07" x2="373.15" y2="46.07" stroke="#F8766D" stroke-width="3.4" stroke-dasharray="6.9 6.95" stroke-dashoffset="-0.5"/>
<circle cx="215.67" cy="46.07" r="5.75" fill="#F8766D"/>
<text x="320.5" y="88.3" font-size="12.35" text-anchor="middle">plot_terr_32.8 %</text>
<text x="36.6" y="133.05" font-size="10.3" text-anchor="end">0</text>
<text x="36.6" y="91.63" font-size="10.3" text-anchor="end">1</text>
<text x="36.6" y="50.22" font-size="10.3" text-anchor="end">2</text>
<text x="36.6" y="8.8" font-size="10.3" text-anchor="end">3</text>
<text x="57.5" y="148.8" font-size="10.3" text-anchor="middle">0</text>
<text x="139.7" y="148.8" font-size="10.3" text-anchor="middle">250</text>
<text x="221.9" y="148.8" font-size="10.3" text-anchor="middle">500</text>
<text x="304.1" y="148.8" font-size="10.3" text-anchor="middle">750</text>
<text x="386.3" y="148.8" font-size="10.3" text-anchor="middle">1000</text>
<text x="215.5" y="163.9" font-size="13.4" text-anchor="middle">Number of minutes</text>
<text transform="translate(9.7,68) rotate(-90)" font-size="13.4" text-anchor="middle">Species richness</text>
</g>
<g transform="translate(0,533.7)">
<g stroke="#EBEBEB"><line x1="41.9" x2="388.9" y1="123.62" y2="123.62"  stroke="#F2F2F2" stroke-width="1.5"/><line x1="41.9" x2="388.9" y1="100.4" y2="100.4"  stroke-width="1.3"/><line x1="41.9" x2="388.9" y1="77.18" y2="77.18"  stroke="#F2F2F2" stroke-width="1.5"/><line x1="41.9" x2="388.9" y1="53.96" y2="53.96"  stroke-width="1.3"/><line x1="41.9" x2="388.9" y1="30.75" y2="30.75"  stroke="#F2F2F2" stroke-width="1.5"/><line x1="41.9" x2="388.9" y1="7.53" y2="7.53"  stroke-width="1.3"/><line x1="57.5" x2="57.5" y1="1" y2="135"  stroke-width="1.3"/><line x1="98.6" x2="98.6" y1="1" y2="135"  stroke="#F2F2F2" stroke-width="1.5"/><line x1="139.7" x2="139.7" y1="1" y2="135"  stroke-width="1.3"/><line x1="180.8" x2="180.8" y1="1" y2="135"  stroke="#F2F2F2" stroke-width="1.5"/><line x1="221.9" x2="221.9" y1="1" y2="135"  stroke-width="1.3"/><line x1="263" x2="263" y1="1" y2="135"  stroke="#F2F2F2" stroke-width="1.5"/><line x1="304.1" x2="304.1" y1="1" y2="135"  stroke-width="1.3"/><line x1="345.2" x2="345.2" y1="1" y2="135"  stroke="#F2F2F2" stroke-width="1.5"/><line x1="386.3" x2="386.3" y1="1" y2="135"  stroke-width="1.3"/></g>
<path d="M58.18,125.43 L58.2,124.11 L58.22,122.81 L58.25,121.53 L58.27,120.27 L58.29,119.03 L58.32,117.81 L58.34,116.61 L58.36,115.42 L58.38,114.25 L58.41,113.1 L58.43,111.97 L58.45,110.85 L58.48,109.75 L58.5,108.66 L58.52,107.59 L58.55,106.54 L58.57,105.5 L58.59,104.48 L58.61,103.47 L58.64,102.47 L58.66,101.49 L58.68,100.52 L58.71,99.57 L58.73,98.63 L58.75,97.7 L58.77,96.79 L58.8,95.89 L58.82,95 L58.84,94.12 L58.87,93.26 L58.89,92.41 L58.91,91.56 L58.93,90.73 L58.96,89.92 L58.98,89.11 L59,88.31 L59.03,87.52 L59.05,86.75 L59.07,85.98 L59.1,85.23 L59.12,84.48 L59.14,83.74 L59.16,83.02 L59.19,82.3 L59.21,81.59 L59.23,80.89 L59.26,80.2 L59.28,79.52 L59.3,78.85 L59.32,78.19 L59.35,77.53 L59.37,76.88 L59.39,76.24 L59.42,75.61 L59.44,74.99 L59.46,74.37 L59.48,73.76 L59.51,73.16 L59.53,72.56 L59.55,71.98 L59.58,71.4 L59.62,70.26 L59.67,69.15 L59.71,68.06 L59.76,67 L59.81,65.96 L59.85,64.95 L59.9,63.96 L59.94,62.99 L59.99,62.04 L60.03,61.11 L60.08,60.21 L60.13,59.32 L60.17,58.45 L60.22,57.6 L60.26,56.77 L60.31,55.96 L60.36,55.16 L60.4,54.38 L60.45,53.62 L60.49,52.87 L60.54,52.13 L60.58,51.41 L60.63,50.71 L60.68,50.02 L60.72,49.34 L60.77,48.68 L60.81,48.02 L60.86,47.38 L60.9,46.76 L60.95,46.14 L61,45.54 L61.04,44.94 L61.09,44.36 L61.13,43.79 L61.18,43.23 L61.25,42.41 L61.32,41.61 L61.39,40.83 L61.45,40.07 L61.52,39.33 L61.59,38.61 L61.66,37.91 L61.73,37.23 L61.8,36.56 L61.87,35.91 L61.94,35.28 L62,34.66 L62.07,34.06 L62.14,33.47 L62.21,32.9 L62.28,32.34 L62.35,31.79 L62.42,31.26 L62.51,30.56 L62.6,29.89 L62.69,29.25 L62.78,28.62 L62.88,28.01 L62.97,27.41 L63.06,26.84 L63.15,26.28 L63.24,25.74 L63.33,25.22 L63.45,24.59 L63.56,23.98 L63.68,23.39 L63.79,22.82 L63.91,22.28 L64.02,21.75 L64.14,21.25 L64.25,20.76 L64.39,20.19 L64.52,19.66 L64.66,19.14 L64.8,18.65 L64.94,18.17 L65.1,17.65 L65.26,17.15 L65.42,16.67 L65.58,16.22 L65.76,15.73 L65.94,15.26 L66.13,14.83 L66.33,14.36 L66.54,13.93 L66.75,13.52 L66.98,13.1 L67.2,12.71 L67.57,12.14 L68.06,11.47 L68.56,10.89 L69.05,10.39 L69.55,9.97 L70.04,9.6 L70.54,9.3 L71.03,9.03 L71.53,8.81 L72.03,8.61 L72.52,8.45 L73.02,8.31 L73.51,8.19 L74.25,8.05 L75,7.93 L75.74,7.84 L76.48,7.77 L77.23,7.72 L77.97,7.68 L78.71,7.64 L79.46,7.62 L80.2,7.6 L80.94,7.58 L81.68,7.57 L82.43,7.56 L83.17,7.55 L83.91,7.55 L84.66,7.54 L85.4,7.54 L86.14,7.54 L86.89,7.54 L87.63,7.53 L88.37,7.53 L89.11,7.53 L89.86,7.53 L90.6,7.53 L91.34,7.53 L92.09,7.53 L92.83,7.53 L93.57,7.53 L94.32,7.53 L95.06,7.53 L95.8,7.53 L96.54,7.53 L97.29,7.53 L98.03,7.53 L98.77,7.53 L99.52,7.53 L100.26,7.53 L101,7.53 L101.75,7.53 L102.49,7.53 L103.23,7.53 L103.97,7.53 L104.72,7.53 L105.46,7.53 L106.2,7.53 L106.95,7.53 L107.69,7.53 L108.43,7.53 L109.18,7.53 L109.92,7.53 L110.66,7.53 L111.4,7.53 L112.15,7.53 L112.89,7.53 L113.63,7.53 L114.38,7.53 L115.12,7.53 L115.86,7.53 L116.61,7.53 L117.35,7.53 L118.09,7.53 L118.83,7.53 L119.58,7.53 L120.32,7.53 L121.06,7.53 L121.81,7.53 L122.55,7.53 L123.29,7.53 L124.04,7.53 L124.78,7.53 L125.52,7.53 L126.26,7.53 L127.01,7.53 L127.75,7.53 L128.49,7.53 L129.24,7.53 L129.98,7.53 L130.72,7.53 L131.47,7.53 L132.21,7.53 L132.95,7.53 L133.7,7.53 L134.44,7.53 L135.18,7.53 L135.92,7.53 L136.67,7.53 L137.41,7.53 L138.15,7.53 L138.9,7.53 L139.64,7.53 L140.38,7.53 L141.13,7.53 L141.87,7.53 L142.61,7.53 L143.35,7.53 L144.1,7.53 L144.84,7.53 L145.58,7.53 L146.33,7.53 L147.07,7.53 L147.81,7.53 L148.56,7.53 L149.3,7.53 L150.04,7.53 L150.78,7.53 L151.53,7.53 L152.27,7.53 L153.01,7.53 L153.76,7.53 L154.5,7.53 L155.24,7.53 L155.99,7.53 L156.73,7.53 L157.47,7.53 L158.21,7.53 L158.96,7.53 L159.7,7.53 L160.44,7.53 L161.19,7.53 L161.93,7.53 L162.67,7.53 L163.42,7.53 L164.16,7.53 L164.9,7.53 L165.64,7.53 L166.39,7.53 L167.13,7.53 L167.87,7.53 L168.62,7.53 L169.36,7.53 L170.1,7.53 L170.85,7.53 L171.59,7.53 L172.33,7.53 L173.07,7.53 L173.82,7.53 L174.56,7.53 L175.3,7.53 L176.05,7.53 L176.79,7.53 L177.53,7.53 L178.28,7.53 L179.02,7.53 L179.76,7.53 L180.5,7.53 L181.25,7.53 L181.99,7.53 L182.73,7.53 L183.48,7.53 L184.22,7.53 L184.96,7.53 L185.71,7.53 L186.45,7.53 L187.19,7.53 L187.93,7.53 L188.68,7.53 L189.42,7.53 L190.16,7.53 L190.91,7.53 L191.65,7.53 L192.39,7.53 L193.14,7.53 L193.88,7.53 L194.62,7.53 L195.37,7.53 L196.11,7.53 L196.85,7.53 L197.59,7.53 L198.34,7.53 L199.08,7.53 L199.82,7.53 L200.57,7.53 L201.31,7.53 L202.05,7.53 L202.8,7.53 L203.54,7.53 L204.28,7.53 L205.02,7.53 L205.77,7.53 L206.51,7.53 L207.25,7.53 L208,7.53 L208.74,7.53 L209.48,7.53 L210.23,7.53 L210.97,7.53 L211.71,7.53 L212.45,7.53 L213.2,7.53 L213.94,7.53 L214.68,7.53 L215.43,7.53 L215.67,7.53" fill="none" stroke="#F8766D" stroke-width="3.4" stroke-linejoin="round"/>
<line x1="215.67" y1="7.53" x2="373.15" y2="7.53" stroke="#F8766D" stroke-width="3.4" stroke-dasharray="6.9 6.95" stroke-dashoffset="-0.5"/>
<circle cx="215.67" cy="7.53" r="5.75" fill="#F8766D"/>
<text x="320.5" y="88.3" font-size="12.35" text-anchor="middle">plot_arb_40 %</text>
<text x="36.6" y="104.55" font-size="10.3" text-anchor="end">1</text>
<text x="36.6" y="58.11" font-size="10.3" text-anchor="end">2</text>
<text x="36.6" y="11.68" font-size="10.3" text-anchor="end">3</text>
<text x="57.5" y="148.8" font-size="10.3" text-anchor="middle">0</text>
<text x="139.7" y="148.8" font-size="10.3" text-anchor="middle">250</text>
<text x="221.9" y="148.8" font-size="10.3" text-anchor="middle">500</text>
<text x="304.1" y="148.8" font-size="10.3" text-anchor="middle">750</text>
<text x="386.3" y="148.8" font-size="10.3" text-anchor="middle">1000</text>
<text x="215.5" y="163.9" font-size="13.4" text-anchor="middle">Number of minutes</text>
<text transform="translate(9.7,68) rotate(-90)" font-size="13.4" text-anchor="middle">Species richness</text>
</g>
<g transform="translate(400.52,533.7)">
<g stroke="#EBEBEB"><line x1="41.9" x2="388.9" y1="118.47" y2="118.47"  stroke-width="1.3"/><line x1="41.9" x2="388.9" y1="99.92" y2="99.92"  stroke="#F2F2F2" stroke-width="1.5"/><line x1="41.9" x2="388.9" y1="81.37" y2="81.37"  stroke-width="1.3"/><line x1="41.9" x2="388.9" y1="62.82" y2="62.82"  stroke="#F2F2F2" stroke-width="1.5"/><line x1="41.9" x2="388.9" y1="44.28" y2="44.28"  stroke-width="1.3"/><line x1="41.9" x2="388.9" y1="25.73" y2="25.73"  stroke="#F2F2F2" stroke-width="1.5"/><line x1="41.9" x2="388.9" y1="7.18" y2="7.18"  stroke-width="1.3"/><line x1="57.5" x2="57.5" y1="1" y2="135"  stroke-width="1.3"/><line x1="98.6" x2="98.6" y1="1" y2="135"  stroke="#F2F2F2" stroke-width="1.5"/><line x1="139.7" x2="139.7" y1="1" y2="135"  stroke-width="1.3"/><line x1="180.8" x2="180.8" y1="1" y2="135"  stroke="#F2F2F2" stroke-width="1.5"/><line x1="221.9" x2="221.9" y1="1" y2="135"  stroke-width="1.3"/><line x1="263" x2="263" y1="1" y2="135"  stroke="#F2F2F2" stroke-width="1.5"/><line x1="304.1" x2="304.1" y1="1" y2="135"  stroke-width="1.3"/><line x1="345.2" x2="345.2" y1="1" y2="135"  stroke="#F2F2F2" stroke-width="1.5"/><line x1="386.3" x2="386.3" y1="1" y2="135"  stroke-width="1.3"/></g>
<path d="M58.18,124.57 L58.2,122.71 L58.22,120.88 L58.25,119.09 L58.27,117.32 L58.29,115.59 L58.32,113.89 L58.34,112.23 L58.36,110.59 L58.38,108.98 L58.41,107.4 L58.43,105.85 L58.45,104.33 L58.48,102.84 L58.5,101.37 L58.52,99.93 L58.55,98.51 L58.57,97.12 L58.59,95.75 L58.61,94.41 L58.64,93.1 L58.66,91.8 L58.68,90.53 L58.71,89.28 L58.73,88.05 L58.75,86.85 L58.77,85.66 L58.8,84.5 L58.82,83.36 L58.84,82.23 L58.87,81.13 L58.89,80.04 L58.91,78.98 L58.93,77.93 L58.96,76.9 L58.98,75.89 L59,74.89 L59.03,73.91 L59.05,72.95 L59.07,72.01 L59.1,71.08 L59.12,70.16 L59.14,69.27 L59.16,68.38 L59.19,67.51 L59.21,66.66 L59.23,65.82 L59.26,65 L59.28,64.18 L59.3,63.38 L59.32,62.6 L59.35,61.83 L59.37,61.07 L59.39,60.32 L59.42,59.59 L59.44,58.86 L59.46,58.15 L59.48,57.45 L59.51,56.76 L59.53,56.09 L59.55,55.42 L59.58,54.76 L59.6,54.12 L59.62,53.48 L59.64,52.86 L59.67,52.24 L59.69,51.64 L59.71,51.04 L59.74,50.46 L59.78,49.31 L59.83,48.2 L59.87,47.13 L59.92,46.08 L59.97,45.07 L60.01,44.09 L60.06,43.14 L60.1,42.22 L60.15,41.33 L60.19,40.46 L60.24,39.62 L60.29,38.8 L60.33,38.01 L60.38,37.24 L60.42,36.49 L60.47,35.76 L60.52,35.06 L60.56,34.37 L60.61,33.7 L60.65,33.06 L60.7,32.43 L60.74,31.81 L60.79,31.22 L60.84,30.64 L60.88,30.08 L60.95,29.26 L61.02,28.48 L61.09,27.73 L61.16,27.01 L61.23,26.32 L61.29,25.65 L61.36,25.01 L61.43,24.4 L61.5,23.81 L61.57,23.24 L61.64,22.69 L61.73,21.99 L61.82,21.33 L61.91,20.7 L62,20.1 L62.1,19.53 L62.19,18.99 L62.28,18.47 L62.39,17.86 L62.51,17.28 L62.62,16.74 L62.74,16.22 L62.88,15.65 L63.01,15.11 L63.15,14.61 L63.29,14.14 L63.45,13.63 L63.61,13.16 L63.79,12.67 L63.97,12.21 L64.18,11.75 L64.39,11.33 L64.62,10.91 L64.85,10.53 L65.1,10.16 L65.37,9.81 L65.67,9.47 L65.99,9.15 L66.33,8.86 L66.7,8.6 L67.09,8.36 L67.57,8.13 L68.06,7.93 L68.56,7.78 L69.05,7.65 L69.8,7.51 L70.54,7.41 L71.28,7.34 L72.03,7.29 L72.77,7.26 L73.51,7.24 L74.25,7.22 L75,7.21 L75.74,7.2 L76.48,7.19 L77.23,7.19 L77.97,7.19 L78.71,7.18 L79.46,7.18 L80.2,7.18 L80.94,7.18 L81.68,7.18 L82.43,7.18 L83.17,7.18 L83.91,7.18 L84.66,7.18 L85.4,7.18 L86.14,7.18 L86.89,7.18 L87.63,7.18 L88.37,7.18 L89.11,7.18 L89.86,7.18 L90.6,7.18 L91.34,7.18 L92.09,7.18 L92.83,7.18 L93.57,7.18 L94.32,7.18 L95.06,7.18 L95.8,7.18 L96.54,7.18 L97.29,7.18 L98.03,7.18 L98.77,7.18 L99.52,7.18 L100.26,7.18 L101,7.18 L101.75,7.18 L102.49,7.18 L103.23,7.18 L103.97,7.18 L104.72,7.18 L105.46,7.18 L106.2,7.18 L106.95,7.18 L107.69,7.18 L108.43,7.18 L109.18,7.18 L109.92,7.18 L110.66,7.18 L111.4,7.18 L112.15,7.18 L112.89,7.18 L113.63,7.18 L114.38,7.18 L115.12,7.18 L115.86,7.18 L116.61,7.18 L117.35,7.18 L118.09,7.18 L118.83,7.18 L119.58,7.18 L120.32,7.18 L121.06,7.18 L121.81,7.18 L122.55,7.18 L123.29,7.18 L124.04,7.18 L124.78,7.18 L125.52,7.18 L126.26,7.18 L127.01,7.18 L127.75,7.18 L128.49,7.18 L129.24,7.18 L129.98,7.18 L130.72,7.18 L131.47,7.18 L132.21,7.18 L132.95,7.18 L133.7,7.18 L134.44,7.18 L135.18,7.18 L135.92,7.18 L136.67,7.18 L137.41,7.18 L138.15,7.18 L138.9,7.18 L139.64,7.18 L140.38,7.18 L141.13,7.18 L141.87,7.18 L142.61,7.18 L143.35,7.18 L144.1,7.18 L144.84,7.18 L145.58,7.18 L146.33,7.18 L147.07,7.18 L147.81,7.18 L148.56,7.18 L149.3,7.18 L150.04,7.18 L150.78,7.18 L151.53,7.18 L152.27,7.18 L153.01,7.18 L153.76,7.18 L154.5,7.18 L155.24,7.18 L155.99,7.18 L156.73,7.18 L157.47,7.18 L158.21,7.18 L158.96,7.18 L159.7,7.18 L160.44,7.18 L161.19,7.18 L161.93,7.18 L162.67,7.18 L163.42,7.18 L164.16,7.18 L164.9,7.18 L165.64,7.18 L166.39,7.18 L167.13,7.18 L167.87,7.18 L168.62,7.18 L169.36,7.18 L170.1,7.18 L170.85,7.18 L171.59,7.18 L172.33,7.18 L173.07,7.18 L173.82,7.18 L174.56,7.18 L175.3,7.18 L176.05,7.18 L176.79,7.18 L177.53,7.18 L178.28,7.18 L179.02,7.18 L179.76,7.18 L180.5,7.18 L181.25,7.18 L181.99,7.18 L182.73,7.18 L183.48,7.18 L184.22,7.18 L184.96,7.18 L185.71,7.18 L186.45,7.18 L187.19,7.18 L187.93,7.18 L188.68,7.18 L189.42,7.18 L190.16,7.18 L190.91,7.18 L191.65,7.18 L192.39,7.18 L193.14,7.18 L193.88,7.18 L194.62,7.18 L195.37,7.18 L196.11,7.18 L196.85,7.18 L197.59,7.18 L198.34,7.18 L199.08,7.18 L199.82,7.18 L200.57,7.18 L201.31,7.18 L202.05,7.18 L202.8,7.18 L203.54,7.18 L204.28,7.18 L205.02,7.18 L205.77,7.18 L206.51,7.18 L207.25,7.18 L208,7.18 L208.74,7.18 L209.48,7.18 L210.23,7.18 L210.97,7.18 L211.71,7.18 L212.45,7.18 L213.2,7.18 L213.94,7.18 L214.68,7.18 L215.43,7.18 L215.67,7.18" fill="none" stroke="#F8766D" stroke-width="3.4" stroke-linejoin="round"/>
<line x1="215.67" y1="7.18" x2="373.15" y2="7.18" stroke="#F8766D" stroke-width="3.4" stroke-dasharray="6.9 6.95" stroke-dashoffset="-0.5"/>
<circle cx="215.67" cy="7.18" r="5.75" fill="#F8766D"/>
<text x="320.5" y="88.3" font-size="12.35" text-anchor="middle">plot_terr_40 %</text>
<text x="36.6" y="122.62" font-size="10.3" text-anchor="end">0.5</text>
<text x="36.6" y="85.52" font-size="10.3" text-anchor="end">1.0</text>
<text x="36.6" y="48.43" font-size="10.3" text-anchor="end">1.5</text>
<text x="36.6" y="11.33" font-size="10.3" text-anchor="end">2.0</text>
<text x="57.5" y="148.8" font-size="10.3" text-anchor="middle">0</text>
<text x="139.7" y="148.8" font-size="10.3" text-anchor="middle">250</text>
<text x="221.9" y="148.8" font-size="10.3" text-anchor="middle">500</text>
<text x="304.1" y="148.8" font-size="10.3" text-anchor="middle">750</text>
<text x="386.3" y="148.8" font-size="10.3" text-anchor="middle">1000</text>
<text x="215.5" y="163.9" font-size="13.4" text-anchor="middle">Number of minutes</text>
<text transform="translate(9.7,68) rotate(-90)" font-size="13.4" text-anchor="middle">Species richness</text>
</g>
<g transform="translate(801.04,533.7)">
<g stroke="#EBEBEB"><line x1="41.9" x2="388.9" y1="134.63" y2="134.63"  stroke="#F2F2F2" stroke-width="1.5"/><line x1="41.9" x2="388.9" y1="116.7" y2="116.7"  stroke-width="1.3"/><line x1="41.9" x2="388.9" y1="98.77" y2="98.77"  stroke="#F2F2F2" stroke-width="1.5"/><line x1="41.9" x2="388.9" y1="80.83" y2="80.83"  stroke-width="1.3"/><line x1="41.9" x2="388.9" y1="62.9" y2="62.9"  stroke="#F2F2F2" stroke-width="1.5"/><line x1="41.9" x2="388.9" y1="44.97" y2="44.97"  stroke-width="1.3"/><line x1="41.9" x2="388.9" y1="27.03" y2="27.03"  stroke="#F2F2F2" stroke-width="1.5"/><line x1="41.9" x2="388.9" y1="9.1" y2="9.1"  stroke-width="1.3"/><line x1="57.5" x2="57.5" y1="1" y2="135"  stroke-width="1.3"/><line x1="98.6" x2="98.6" y1="1" y2="135"  stroke="#F2F2F2" stroke-width="1.5"/><line x1="139.7" x2="139.7" y1="1" y2="135"  stroke-width="1.3"/><line x1="180.8" x2="180.8" y1="1" y2="135"  stroke="#F2F2F2" stroke-width="1.5"/><line x1="221.9" x2="221.9" y1="1" y2="135"  stroke-width="1.3"/><line x1="263" x2="263" y1="1" y2="135"  stroke="#F2F2F2" stroke-width="1.5"/><line x1="304.1" x2="304.1" y1="1" y2="135"  stroke-width="1.3"/><line x1="345.2" x2="345.2" y1="1" y2="135"  stroke="#F2F2F2" stroke-width="1.5"/><line x1="386.3" x2="386.3" y1="1" y2="135"  stroke-width="1.3"/></g>
<path d="M63.26,37.3 C63.69,34.67 63.92,31.98 64.56,29.4 C65.38,26.08 66.62,22.81 68.06,19.7 C69.32,16.97 70.46,13.99 72.46,11.8 C73.72,10.42 75.18,8.93 76.86,8.2 C78.44,7.51 80.39,7.45 82.16,7.4 C84.22,7.34 86.29,7.87 88.36,8.1 C90.69,8.36 93.02,8.73 95.36,8.9 C97.72,9.07 100.09,9.07 102.46,9.1 C104.63,9.13 106.79,9.1 108.96,9.1 L108.96,9.1 C107.66,9.27 106.36,9.43 105.06,9.6 C102.12,9.99 99.14,10.22 96.26,10.9 C93.89,11.46 91.52,12.18 89.26,13.1 C87.13,13.97 84.98,14.94 83.06,16.2 C81.15,17.45 79.38,18.98 77.76,20.6 C76.14,22.22 74.68,24.03 73.36,25.9 C71.63,28.36 70.25,31.08 68.96,33.8 C67.6,36.64 66.65,43.31 65.46,42.6 C64.74,42.17 63.99,39.07 63.26,37.3 Z" fill="#F8766D" fill-opacity="0.2"/>
<path d="M58.18,124.67 L58.2,123.09 L58.22,121.54 L58.25,120.04 L58.27,118.57 L58.29,117.14 L58.32,115.75 L58.34,114.39 L58.36,113.06 L58.38,111.77 L58.41,110.5 L58.43,109.27 L58.45,108.07 L58.48,106.9 L58.5,105.76 L58.52,104.64 L58.55,103.55 L58.57,102.49 L58.59,101.45 L58.61,100.44 L58.64,99.45 L58.66,98.48 L58.68,97.54 L58.71,96.62 L58.73,95.72 L58.75,94.84 L58.77,93.98 L58.8,93.14 L58.82,92.32 L58.84,91.52 L58.87,90.73 L58.89,89.97 L58.91,89.22 L58.93,88.49 L58.96,87.77 L58.98,87.07 L59,86.38 L59.03,85.71 L59.05,85.05 L59.07,84.41 L59.1,83.78 L59.12,83.17 L59.14,82.56 L59.16,81.97 L59.19,81.39 L59.23,80.27 L59.28,79.19 L59.32,78.16 L59.37,77.16 L59.42,76.21 L59.46,75.28 L59.51,74.4 L59.55,73.54 L59.6,72.71 L59.64,71.92 L59.69,71.15 L59.74,70.4 L59.78,69.68 L59.83,68.99 L59.87,68.31 L59.92,67.66 L59.97,67.03 L60.01,66.41 L60.06,65.81 L60.1,65.23 L60.15,64.67 L60.22,63.85 L60.29,63.06 L60.36,62.3 L60.42,61.57 L60.49,60.86 L60.56,60.18 L60.63,59.52 L60.7,58.88 L60.77,58.26 L60.84,57.65 L60.9,57.06 L60.97,56.49 L61.04,55.93 L61.11,55.39 L61.18,54.86 L61.27,54.16 L61.36,53.49 L61.45,52.84 L61.55,52.2 L61.64,51.58 L61.73,50.97 L61.82,50.38 L61.91,49.8 L62,49.23 L62.1,48.67 L62.19,48.12 L62.28,47.59 L62.37,47.06 L62.46,46.54 L62.55,46.03 L62.67,45.41 L62.78,44.8 L62.9,44.2 L63.01,43.61 L63.13,43.03 L63.24,42.46 L63.36,41.9 L63.47,41.36 L63.59,40.82 L63.7,40.29 L63.81,39.77 L63.93,39.26 L64.04,38.76 L64.16,38.27 L64.27,37.78 L64.41,37.21 L64.55,36.65 L64.68,36.1 L64.82,35.56 L64.96,35.03 L65.1,34.51 L65.23,34 L65.37,33.5 L65.51,33.02 L65.65,32.54 L65.78,32.07 L65.94,31.53 L66.11,31 L66.27,30.49 L66.43,29.99 L66.59,29.5 L66.75,29.02 L66.91,28.55 L67.07,28.09 L67.23,27.64 L67.57,26.73 L67.81,26.09 L68.06,25.47 L68.31,24.87 L68.56,24.3 L68.81,23.74 L69.05,23.21 L69.3,22.69 L69.55,22.19 L69.8,21.71 L70.04,21.24 L70.29,20.79 L70.54,20.36 L70.79,19.94 L71.03,19.54 L71.28,19.15 L71.53,18.78 L71.78,18.42 L72.27,17.73 L72.77,17.1 L73.26,16.51 L73.76,15.96 L74.25,15.45 L74.75,14.97 L75.24,14.53 L75.74,14.12 L76.24,13.74 L76.73,13.39 L77.23,13.07 L77.72,12.76 L78.22,12.48 L78.71,12.22 L79.21,11.98 L79.7,11.76 L80.2,11.55 L80.69,11.36 L81.19,11.18 L81.68,11.02 L82.18,10.87 L82.68,10.73 L83.17,10.6 L83.67,10.48 L84.16,10.37 L84.9,10.22 L85.65,10.09 L86.39,9.97 L87.13,9.87 L87.88,9.77 L88.62,9.69 L89.36,9.62 L90.11,9.56 L90.85,9.5 L91.59,9.45 L92.33,9.41 L93.08,9.37 L93.82,9.33 L94.56,9.3 L95.31,9.28 L96.05,9.26 L96.79,9.24 L97.54,9.22 L98.28,9.2 L99.02,9.19 L99.76,9.18 L100.51,9.17 L101.25,9.16 L101.99,9.15 L102.74,9.14 L103.48,9.14 L104.22,9.13 L104.97,9.13 L105.71,9.12 L106.45,9.12 L107.19,9.12 L107.94,9.12 L108.68,9.11 L109.42,9.11 L110.17,9.11 L110.91,9.11 L111.65,9.11 L112.4,9.11 L113.14,9.1 L113.88,9.1 L114.62,9.1 L115.37,9.1 L116.11,9.1 L116.85,9.1 L117.6,9.1 L118.34,9.1 L119.08,9.1 L119.83,9.1 L120.57,9.1 L121.31,9.1 L122.05,9.1 L122.8,9.1 L123.54,9.1 L124.28,9.1 L125.03,9.1 L125.77,9.1 L126.51,9.1 L127.26,9.1 L128,9.1 L128.74,9.1 L129.48,9.1 L130.23,9.1 L130.97,9.1 L131.71,9.1 L132.46,9.1 L133.2,9.1 L133.94,9.1 L134.69,9.1 L135.43,9.1 L136.17,9.1 L136.91,9.1 L137.66,9.1 L138.4,9.1 L139.14,9.1 L139.89,9.1 L140.63,9.1 L141.37,9.1 L142.12,9.1 L142.86,9.1 L143.6,9.1 L144.34,9.1 L145.09,9.1 L145.83,9.1 L146.57,9.1 L147.32,9.1 L148.06,9.1 L148.8,9.1 L149.55,9.1 L150.29,9.1 L151.03,9.1 L151.78,9.1 L152.52,9.1 L153.26,9.1 L154,9.1 L154.75,9.1 L155.49,9.1 L156.23,9.1 L156.98,9.1 L157.72,9.1 L158.46,9.1 L159.21,9.1 L159.95,9.1 L160.69,9.1 L161.43,9.1 L162.18,9.1 L162.92,9.1 L163.66,9.1 L164.41,9.1 L165.15,9.1 L165.89,9.1 L166.64,9.1 L167.38,9.1 L168.12,9.1 L168.86,9.1 L169.61,9.1 L170.35,9.1 L171.09,9.1 L171.84,9.1 L172.58,9.1 L173.32,9.1 L174.07,9.1 L174.81,9.1 L175.55,9.1 L176.29,9.1 L177.04,9.1 L177.78,9.1 L178.52,9.1 L179.27,9.1 L180.01,9.1 L180.75,9.1 L181.5,9.1 L182.24,9.1 L182.98,9.1 L183.72,9.1 L184.47,9.1 L185.21,9.1 L185.95,9.1 L186.7,9.1 L187.44,9.1 L188.18,9.1 L188.93,9.1 L189.67,9.1 L190.41,9.1 L191.15,9.1 L191.9,9.1 L192.64,9.1 L193.38,9.1 L194.13,9.1 L194.87,9.1 L195.61,9.1 L196.36,9.1 L197.1,9.1 L197.84,9.1 L198.58,9.1 L199.33,9.1 L200.07,9.1 L200.81,9.1 L201.56,9.1 L202.3,9.1 L203.04,9.1 L203.79,9.1 L204.53,9.1 L205.27,9.1 L206.01,9.1 L206.76,9.1 L207.5,9.1 L208.24,9.1 L208.99,9.1 L209.73,9.1 L210.47,9.1 L211.22,9.1 L211.96,9.1 L212.7,9.1 L213.44,9.1 L214.19,9.1 L214.93,9.1 L215.67,9.1" fill="none" stroke="#F8766D" stroke-width="3.4" stroke-linejoin="round"/>
<line x1="215.67" y1="9.1" x2="373.15" y2="9.1" stroke="#F8766D" stroke-width="3.4" stroke-dasharray="6.9 6.95" stroke-dashoffset="-0.5"/>
<circle cx="215.67" cy="9.1" r="5.75" fill="#F8766D"/>
<text x="320.5" y="88.3" font-size="12.35" text-anchor="middle">plot_terr_53.9 %</text>
<text x="36.6" y="120.85" font-size="10.3" text-anchor="end">0.5</text>
<text x="36.6" y="84.98" font-size="10.3" text-anchor="end">1.0</text>
<text x="36.6" y="49.12" font-size="10.3" text-anchor="end">1.5</text>
<text x="36.6" y="13.25" font-size="10.3" text-anchor="end">2.0</text>
<text x="57.5" y="148.8" font-size="10.3" text-anchor="middle">0</text>
<text x="139.7" y="148.8" font-size="10.3" text-anchor="middle">250</text>
<text x="221.9" y="148.8" font-size="10.3" text-anchor="middle">500</text>
<text x="304.1" y="148.8" font-size="10.3" text-anchor="middle">750</text>
<text x="386.3" y="148.8" font-size="10.3" text-anchor="middle">1000</text>
<text x="215.5" y="163.9" font-size="13.4" text-anchor="middle">Number of minutes</text>
<text transform="translate(9.7,68) rotate(-90)" font-size="13.4" text-anchor="middle">Species richness</text>
</g>
<g transform="translate(0,711.6)">
<g stroke="#EBEBEB"><line x1="41.9" x2="388.9" y1="125.8" y2="125.8"  stroke="#F2F2F2" stroke-width="1.5"/><line x1="41.9" x2="388.9" y1="102.58" y2="102.58"  stroke-width="1.3"/><line x1="41.9" x2="388.9" y1="79.36" y2="79.36"  stroke="#F2F2F2" stroke-width="1.5"/><line x1="41.9" x2="388.9" y1="56.14" y2="56.14"  stroke-width="1.3"/><line x1="41.9" x2="388.9" y1="32.92" y2="32.92"  stroke="#F2F2F2" stroke-width="1.5"/><line x1="41.9" x2="388.9" y1="9.7" y2="9.7"  stroke-width="1.3"/><line x1="57.5" x2="57.5" y1="1" y2="135"  stroke-width="1.3"/><line x1="98.6" x2="98.6" y1="1" y2="135"  stroke="#F2F2F2" stroke-width="1.5"/><line x1="139.7" x2="139.7" y1="1" y2="135"  stroke-width="1.3"/><line x1="180.8" x2="180.8" y1="1" y2="135"  stroke="#F2F2F2" stroke-width="1.5"/><line x1="221.9" x2="221.9" y1="1" y2="135"  stroke-width="1.3"/><line x1="263" x2="263" y1="1" y2="135"  stroke="#F2F2F2" stroke-width="1.5"/><line x1="304.1" x2="304.1" y1="1" y2="135"  stroke-width="1.3"/><line x1="345.2" x2="345.2" y1="1" y2="135"  stroke="#F2F2F2" stroke-width="1.5"/><line x1="386.3" x2="386.3" y1="1" y2="135"  stroke-width="1.3"/></g>
<path d="M65.4,33.4 C65.77,31.23 65.95,29.02 66.5,26.9 C67.29,23.83 68.39,20.71 70,18 C71.21,15.96 72.65,13.89 74.4,12.3 C75.94,10.89 77.78,9.6 79.7,8.8 C81.61,8 83.81,7.73 85.9,7.5 C88.21,7.25 90.57,7.41 92.9,7.5 C95.84,7.62 98.77,8.02 101.7,8.3 C104.63,8.58 107.56,8.97 110.5,9.2 C113.46,9.43 116.43,9.64 119.4,9.7 C121.27,9.74 123.13,9.7 125,9.7 L128,9.7 C125.7,9.77 123.4,9.79 121.1,9.9 C118.16,10.04 115.22,10.2 112.3,10.5 C109.36,10.8 106.42,11.22 103.5,11.7 C100.55,12.18 97.58,12.62 94.7,13.4 C92.29,14.05 89.86,14.77 87.6,15.8 C85.44,16.79 83.31,17.99 81.4,19.4 C79.51,20.79 77.77,22.45 76.2,24.2 C74.5,26.09 73.02,28.23 71.7,30.4 C70.35,32.62 69.57,37.82 68.2,37.4 C67.35,37.14 66.33,34.73 65.4,33.4 Z" fill="#F8766D" fill-opacity="0.2"/>
<path d="M58.18,125.56 L58.2,124.2 L58.22,122.88 L58.25,121.59 L58.27,120.32 L58.29,119.09 L58.32,117.88 L58.34,116.7 L58.36,115.54 L58.38,114.41 L58.41,113.31 L58.43,112.23 L58.45,111.17 L58.48,110.14 L58.5,109.13 L58.52,108.13 L58.55,107.16 L58.57,106.21 L58.59,105.29 L58.61,104.37 L58.64,103.48 L58.66,102.61 L58.68,101.75 L58.71,100.92 L58.73,100.09 L58.75,99.29 L58.77,98.5 L58.8,97.72 L58.82,96.96 L58.84,96.22 L58.87,95.49 L58.89,94.77 L58.91,94.07 L58.93,93.38 L58.96,92.7 L58.98,92.04 L59,91.39 L59.03,90.75 L59.05,90.12 L59.07,89.5 L59.1,88.89 L59.12,88.3 L59.14,87.71 L59.19,86.57 L59.23,85.47 L59.28,84.4 L59.32,83.37 L59.37,82.37 L59.42,81.4 L59.46,80.46 L59.51,79.56 L59.55,78.67 L59.6,77.82 L59.64,76.98 L59.69,76.18 L59.74,75.39 L59.78,74.63 L59.83,73.88 L59.87,73.16 L59.92,72.45 L59.97,71.76 L60.01,71.09 L60.06,70.43 L60.1,69.8 L60.15,69.17 L60.19,68.56 L60.24,67.96 L60.29,67.38 L60.33,66.81 L60.38,66.25 L60.45,65.44 L60.52,64.65 L60.58,63.88 L60.65,63.13 L60.72,62.41 L60.79,61.71 L60.86,61.02 L60.93,60.36 L61,59.71 L61.07,59.07 L61.13,58.46 L61.2,57.85 L61.27,57.27 L61.34,56.69 L61.41,56.13 L61.48,55.58 L61.55,55.04 L61.64,54.35 L61.73,53.67 L61.82,53.01 L61.91,52.37 L62,51.74 L62.1,51.13 L62.19,50.54 L62.28,49.96 L62.37,49.4 L62.46,48.85 L62.55,48.31 L62.65,47.78 L62.74,47.27 L62.85,46.65 L62.97,46.04 L63.08,45.45 L63.2,44.87 L63.31,44.31 L63.42,43.77 L63.54,43.24 L63.65,42.72 L63.77,42.22 L63.88,41.73 L64.02,41.15 L64.16,40.59 L64.3,40.05 L64.43,39.52 L64.57,39.01 L64.71,38.51 L64.85,38.03 L64.98,37.55 L65.14,37.02 L65.3,36.49 L65.46,35.99 L65.62,35.5 L65.78,35.02 L65.94,34.55 L66.11,34.1 L66.27,33.66 L66.45,33.17 L66.63,32.7 L66.82,32.24 L67,31.79 L67.18,31.35 L67.57,30.47 L67.81,29.93 L68.06,29.41 L68.31,28.91 L68.56,28.42 L68.81,27.95 L69.05,27.49 L69.3,27.05 L69.55,26.62 L69.8,26.2 L70.04,25.79 L70.29,25.4 L70.54,25.02 L70.79,24.65 L71.03,24.28 L71.53,23.59 L72.03,22.93 L72.52,22.3 L73.02,21.71 L73.51,21.14 L74.01,20.6 L74.5,20.09 L75,19.6 L75.49,19.13 L75.99,18.69 L76.48,18.26 L76.98,17.86 L77.47,17.47 L77.97,17.1 L78.46,16.75 L78.96,16.41 L79.46,16.09 L79.95,15.78 L80.45,15.49 L80.94,15.2 L81.44,14.94 L81.93,14.68 L82.43,14.44 L82.92,14.21 L83.42,13.98 L83.91,13.77 L84.41,13.57 L84.9,13.38 L85.4,13.19 L85.89,13.02 L86.39,12.85 L86.89,12.69 L87.38,12.54 L87.88,12.39 L88.37,12.26 L88.87,12.13 L89.36,12 L89.86,11.88 L90.35,11.77 L90.85,11.66 L91.59,11.51 L92.33,11.37 L93.08,11.24 L93.82,11.12 L94.56,11 L95.31,10.9 L96.05,10.8 L96.79,10.71 L97.54,10.63 L98.28,10.55 L99.02,10.48 L99.76,10.42 L100.51,10.36 L101.25,10.3 L101.99,10.25 L102.74,10.21 L103.48,10.16 L104.22,10.12 L104.97,10.09 L105.71,10.05 L106.45,10.02 L107.19,9.99 L107.94,9.97 L108.68,9.94 L109.42,9.92 L110.17,9.9 L110.91,9.88 L111.65,9.87 L112.4,9.85 L113.14,9.84 L113.88,9.82 L114.62,9.81 L115.37,9.8 L116.11,9.79 L116.85,9.78 L117.6,9.77 L118.34,9.77 L119.08,9.76 L119.83,9.75 L120.57,9.75 L121.31,9.74 L122.05,9.74 L122.8,9.74 L123.54,9.73 L124.28,9.73 L125.03,9.73 L125.77,9.72 L126.51,9.72 L127.26,9.72 L128,9.72 L128.74,9.71 L129.48,9.71 L130.23,9.71 L130.97,9.71 L131.71,9.71 L132.46,9.71 L133.2,9.71 L133.94,9.71 L134.69,9.71 L135.43,9.7 L136.17,9.7 L136.91,9.7 L137.66,9.7 L138.4,9.7 L139.14,9.7 L139.89,9.7 L140.63,9.7 L141.37,9.7 L142.12,9.7 L142.86,9.7 L143.6,9.7 L144.34,9.7 L145.09,9.7 L145.83,9.7 L146.57,9.7 L147.32,9.7 L148.06,9.7 L148.8,9.7 L149.55,9.7 L150.29,9.7 L151.03,9.7 L151.78,9.7 L152.52,9.7 L153.26,9.7 L154,9.7 L154.75,9.7 L155.49,9.7 L156.23,9.7 L156.98,9.7 L157.72,9.7 L158.46,9.7 L159.21,9.7 L159.95,9.7 L160.69,9.7 L161.43,9.7 L162.18,9.7 L162.92,9.7 L163.66,9.7 L164.41,9.7 L165.15,9.7 L165.89,9.7 L166.64,9.7 L167.38,9.7 L168.12,9.7 L168.86,9.7 L169.61,9.7 L170.35,9.7 L171.09,9.7 L171.84,9.7 L172.58,9.7 L173.32,9.7 L174.07,9.7 L174.81,9.7 L175.55,9.7 L176.29,9.7 L177.04,9.7 L177.78,9.7 L178.52,9.7 L179.27,9.7 L180.01,9.7 L180.75,9.7 L181.5,9.7 L182.24,9.7 L182.98,9.7 L183.72,9.7 L184.47,9.7 L185.21,9.7 L185.95,9.7 L186.7,9.7 L187.44,9.7 L188.18,9.7 L188.93,9.7 L189.67,9.7 L190.41,9.7 L191.15,9.7 L191.9,9.7 L192.64,9.7 L193.38,9.7 L194.13,9.7 L194.87,9.7 L195.61,9.7 L196.36,9.7 L197.1,9.7 L197.84,9.7 L198.58,9.7 L199.33,9.7 L200.07,9.7 L200.81,9.7 L201.56,9.7 L202.3,9.7 L203.04,9.7 L203.79,9.7 L204.53,9.7 L205.27,9.7 L206.01,9.7 L206.76,9.7 L207.5,9.7 L208.24,9.7 L208.99,9.7 L209.73,9.7 L210.47,9.7 L211.22,9.7 L211.96,9.7 L212.7,9.7 L213.44,9.7 L214.19,9.7 L214.93,9.7 L215.67,9.7" fill="none" stroke="#F8766D" stroke-width="3.4" stroke-linejoin="round"/>
<line x1="215.67" y1="9.7" x2="373.15" y2="9.7" stroke="#F8766D" stroke-width="3.4" stroke-dasharray="6.9 6.95" stroke-dashoffset="-0.5"/>
<circle cx="215.67" cy="9.7" r="5.75" fill="#F8766D"/>
<text x="320.5" y="88.3" font-size="12.35" text-anchor="middle">plot_arb_54 %</text>
<text x="36.6" y="106.73" font-size="10.3" text-anchor="end">1</text>
<text x="36.6" y="60.29" font-size="10.3" text-anchor="end">2</text>
<text x="36.6" y="13.85" font-size="10.3" text-anchor="end">3</text>
<text x="57.5" y="148.8" font-size="10.3" text-anchor="middle">0</text>
<text x="139.7" y="148.8" font-size="10.3" text-anchor="middle">250</text>
<text x="221.9" y="148.8" font-size="10.3" text-anchor="middle">500</text>
<text x="304.1" y="148.8" font-size="10.3" text-anchor="middle">750</text>
<text x="386.3" y="148.8" font-size="10.3" text-anchor="middle">1000</text>
<text x="215.5" y="163.9" font-size="13.4" text-anchor="middle">Number of minutes</text>
<text transform="translate(9.7,68) rotate(-90)" font-size="13.4" text-anchor="middle">Species richness</text>
</g>
<g transform="translate(400.52,711.6)">
<g stroke="#EBEBEB"><line x1="41.9" x2="388.9" y1="130.7" y2="130.7"  stroke-width="1.3"/><line x1="41.9" x2="388.9" y1="109.58" y2="109.58"  stroke="#F2F2F2" stroke-width="1.5"/><line x1="41.9" x2="388.9" y1="88.47" y2="88.47"  stroke-width="1.3"/><line x1="41.9" x2="388.9" y1="67.35" y2="67.35"  stroke="#F2F2F2" stroke-width="1.5"/><line x1="41.9" x2="388.9" y1="46.23" y2="46.23"  stroke-width="1.3"/><line x1="41.9" x2="388.9" y1="25.12" y2="25.12"  stroke="#F2F2F2" stroke-width="1.5"/><line x1="41.9" x2="388.9" y1="4" y2="4"  stroke-width="1.3"/><line x1="57.5" x2="57.5" y1="1" y2="135"  stroke-width="1.3"/><line x1="98.6" x2="98.6" y1="1" y2="135"  stroke="#F2F2F2" stroke-width="1.5"/><line x1="139.7" x2="139.7" y1="1" y2="135"  stroke-width="1.3"/><line x1="180.8" x2="180.8" y1="1" y2="135"  stroke="#F2F2F2" stroke-width="1.5"/><line x1="221.9" x2="221.9" y1="1" y2="135"  stroke-width="1.3"/><line x1="263" x2="263" y1="1" y2="135"  stroke="#F2F2F2" stroke-width="1.5"/><line x1="304.1" x2="304.1" y1="1" y2="135"  stroke-width="1.3"/><line x1="345.2" x2="345.2" y1="1" y2="135"  stroke="#F2F2F2" stroke-width="1.5"/><line x1="386.3" x2="386.3" y1="1" y2="135"  stroke-width="1.3"/></g>
<path d="M65.48,88.4 C65.91,87 66.15,85.49 66.78,84.2 C67.77,82.17 69.56,80.52 71.18,78.9 C72.8,77.28 74.68,75.93 76.48,74.5 C78.79,72.67 81.14,70.85 83.58,69.2 C86.41,67.28 89.45,65.67 92.38,63.9 C95.31,62.13 98.18,60.25 101.18,58.6 C104.05,57.02 107.04,55.66 109.98,54.2 C112.94,52.73 115.92,51.28 118.88,49.8 C122.42,48.02 125.9,46.11 129.48,44.4 C132.78,42.82 136.15,41.4 139.48,39.9 C146.15,36.9 152.81,33.9 159.48,30.9 C166.15,27.9 172.75,24.76 179.48,21.9 C186.09,19.09 192.81,16.55 199.48,13.9 C204.81,11.79 210.15,9.7 215.48,7.6 L373.58,7.6 L373.58,85.9 L219.48,85.9 C216.15,86.07 212.81,86.18 209.48,86.4 C202.8,86.84 196.14,87.65 189.48,88.4 C182.8,89.15 176.15,90.07 169.48,90.9 C162.81,91.73 156.16,92.65 149.48,93.4 C142.82,94.15 136.17,95.09 129.48,95.4 C125.95,95.57 122.41,95.56 118.88,95.6 C112.98,95.67 107.08,95.7 101.18,95.6 C96.78,95.52 92.37,95.52 87.98,95.2 C85.04,94.98 82.12,94.53 79.18,94.3 C76.82,94.12 74.42,93.66 72.08,93.9 C70.6,94.05 68.84,95.32 67.68,94.8 C66.74,94.37 66.21,92.87 65.48,91.9 Z" fill="#F8766D" fill-opacity="0.2"/>
<path d="M58.18,127.28 L58.25,126.59 L58.32,125.92 L58.38,125.26 L58.45,124.61 L58.52,123.97 L58.59,123.34 L58.66,122.72 L58.73,122.11 L58.8,121.51 L58.87,120.92 L58.93,120.34 L59,119.77 L59.07,119.21 L59.14,118.66 L59.21,118.12 L59.28,117.58 L59.37,116.88 L59.46,116.2 L59.55,115.53 L59.64,114.88 L59.74,114.23 L59.83,113.61 L59.92,112.99 L60.01,112.39 L60.1,111.8 L60.19,111.23 L60.29,110.67 L60.38,110.12 L60.47,109.58 L60.56,109.05 L60.65,108.53 L60.77,107.9 L60.88,107.29 L61,106.7 L61.11,106.11 L61.23,105.55 L61.34,105 L61.45,104.46 L61.57,103.94 L61.68,103.44 L61.8,102.94 L61.94,102.37 L62.07,101.81 L62.21,101.27 L62.35,100.75 L62.49,100.24 L62.62,99.75 L62.76,99.27 L62.92,98.74 L63.08,98.22 L63.24,97.73 L63.4,97.25 L63.56,96.79 L63.72,96.34 L63.91,95.85 L64.09,95.38 L64.27,94.93 L64.46,94.5 L64.66,94.04 L64.87,93.59 L65.07,93.17 L65.28,92.76 L65.51,92.33 L65.74,91.93 L65.97,91.54 L66.22,91.13 L66.47,90.75 L66.72,90.38 L67,90.01 L67.27,89.65 L67.57,89.29 L68.06,88.74 L68.56,88.23 L69.05,87.77 L69.55,87.35 L70.04,86.96 L70.54,86.61 L71.03,86.28 L71.53,85.98 L72.03,85.7 L72.52,85.43 L73.02,85.19 L73.51,84.95 L74.01,84.73 L74.5,84.52 L75,84.32 L75.49,84.13 L75.99,83.95 L76.48,83.77 L76.98,83.6 L77.47,83.44 L77.97,83.27 L78.46,83.12 L78.96,82.96 L79.46,82.81 L79.95,82.66 L80.45,82.51 L80.94,82.37 L81.44,82.22 L81.93,82.08 L82.43,81.94 L82.92,81.8 L83.42,81.66 L83.91,81.53 L84.41,81.39 L84.9,81.25 L85.4,81.12 L85.89,80.98 L86.39,80.84 L86.89,80.71 L87.38,80.58 L87.88,80.44 L88.37,80.31 L88.87,80.17 L89.36,80.04 L89.86,79.91 L90.35,79.77 L90.85,79.64 L91.34,79.51 L91.84,79.37 L92.33,79.24 L92.83,79.11 L93.32,78.98 L93.82,78.84 L94.32,78.71 L94.81,78.58 L95.31,78.44 L95.8,78.31 L96.3,78.18 L96.79,78.05 L97.29,77.91 L97.78,77.78 L98.28,77.65 L98.77,77.52 L99.27,77.38 L99.76,77.25 L100.26,77.12 L100.75,76.99 L101.25,76.85 L101.75,76.72 L102.24,76.59 L102.74,76.46 L103.23,76.32 L103.73,76.19 L104.22,76.06 L104.72,75.93 L105.21,75.79 L105.71,75.66 L106.2,75.53 L106.7,75.39 L107.19,75.26 L107.69,75.13 L108.19,75 L108.68,74.86 L109.18,74.73 L109.67,74.6 L110.17,74.47 L110.66,74.33 L111.16,74.2 L111.65,74.07 L112.15,73.94 L112.64,73.8 L113.14,73.67 L113.63,73.54 L114.13,73.41 L114.62,73.27 L115.12,73.14 L115.62,73.01 L116.11,72.88 L116.61,72.74 L117.1,72.61 L117.6,72.48 L118.09,72.35 L118.59,72.21 L119.08,72.08 L119.58,71.95 L120.07,71.82 L120.57,71.68 L121.06,71.55 L121.56,71.42 L122.05,71.29 L122.55,71.15 L123.05,71.02 L123.54,70.89 L124.04,70.76 L124.53,70.62 L125.03,70.49 L125.52,70.36 L126.02,70.23 L126.51,70.09 L127.01,69.96 L127.5,69.83 L128,69.7 L128.49,69.56 L128.99,69.43 L129.48,69.3 L129.98,69.16 L130.48,69.03 L130.97,68.9 L131.47,68.77 L131.96,68.63 L132.46,68.5 L132.95,68.37 L133.45,68.24 L133.94,68.1 L134.44,67.97 L134.93,67.84 L135.43,67.71 L135.92,67.57 L136.42,67.44 L136.91,67.31 L137.41,67.18 L137.91,67.04 L138.4,66.91 L138.9,66.78 L139.39,66.65 L139.89,66.51 L140.38,66.38 L140.88,66.25 L141.37,66.12 L141.87,65.98 L142.36,65.85 L142.86,65.72 L143.35,65.59 L143.85,65.45 L144.34,65.32 L144.84,65.19 L145.34,65.06 L145.83,64.92 L146.33,64.79 L146.82,64.66 L147.32,64.53 L147.81,64.39 L148.31,64.26 L148.8,64.13 L149.3,64 L149.79,63.86 L150.29,63.73 L150.78,63.6 L151.28,63.47 L151.78,63.33 L152.27,63.2 L152.77,63.07 L153.26,62.93 L153.76,62.8 L154.25,62.67 L154.75,62.54 L155.24,62.4 L155.74,62.27 L156.23,62.14 L156.73,62.01 L157.22,61.87 L157.72,61.74 L158.21,61.61 L158.71,61.48 L159.21,61.34 L159.7,61.21 L160.2,61.08 L160.69,60.95 L161.19,60.81 L161.68,60.68 L162.18,60.55 L162.67,60.42 L163.17,60.28 L163.66,60.15 L164.16,60.02 L164.65,59.89 L165.15,59.75 L165.64,59.62 L166.14,59.49 L166.64,59.36 L167.13,59.22 L167.63,59.09 L168.12,58.96 L168.62,58.83 L169.11,58.69 L169.61,58.56 L170.1,58.43 L170.6,58.3 L171.09,58.16 L171.59,58.03 L172.08,57.9 L172.58,57.77 L173.07,57.63 L173.57,57.5 L174.07,57.37 L174.56,57.24 L175.06,57.1 L175.55,56.97 L176.05,56.84 L176.54,56.7 L177.04,56.57 L177.53,56.44 L178.03,56.31 L178.52,56.17 L179.02,56.04 L179.51,55.91 L180.01,55.78 L180.5,55.64 L181,55.51 L181.5,55.38 L181.99,55.25 L182.49,55.11 L182.98,54.98 L183.48,54.85 L183.97,54.72 L184.47,54.58 L184.96,54.45 L185.46,54.32 L185.95,54.19 L186.45,54.05 L186.94,53.92 L187.44,53.79 L187.93,53.66 L188.43,53.52 L188.93,53.39 L189.42,53.26 L189.92,53.13 L190.41,52.99 L190.91,52.86 L191.4,52.73 L191.9,52.6 L192.39,52.46 L192.89,52.33 L193.38,52.2 L193.88,52.07 L194.37,51.93 L194.87,51.8 L195.37,51.67 L195.86,51.54 L196.36,51.4 L196.85,51.27 L197.35,51.14 L197.84,51.01 L198.34,50.87 L198.83,50.74 L199.33,50.61 L199.82,50.47 L200.32,50.34 L200.81,50.21 L201.31,50.08 L201.8,49.94 L202.3,49.81 L202.8,49.68 L203.29,49.55 L203.79,49.41 L204.28,49.28 L204.78,49.15 L205.27,49.02 L205.77,48.88 L206.26,48.75 L206.76,48.62 L207.25,48.49 L207.75,48.35 L208.24,48.22 L208.74,48.09 L209.23,47.96 L209.73,47.82 L210.23,47.69 L210.72,47.56 L211.22,47.43 L211.71,47.29 L212.21,47.16 L212.7,47.03 L213.2,46.9 L213.69,46.76 L214.19,46.63 L214.68,46.5 L215.18,46.37 L215.67,46.23" fill="none" stroke="#F8766D" stroke-width="3.4" stroke-linejoin="round"/>
<line x1="215.67" y1="46.23" x2="373.15" y2="46.23" stroke="#F8766D" stroke-width="3.4" stroke-dasharray="6.9 6.95" stroke-dashoffset="-0.5"/>
<circle cx="215.67" cy="46.23" r="5.75" fill="#F8766D"/>
<text x="320.5" y="88.3" font-size="12.35" text-anchor="middle">plot_terr_54 %</text>
<text x="36.6" y="134.85" font-size="10.3" text-anchor="end">0</text>
<text x="36.6" y="92.62" font-size="10.3" text-anchor="end">1</text>
<text x="36.6" y="50.38" font-size="10.3" text-anchor="end">2</text>
<text x="36.6" y="8.15" font-size="10.3" text-anchor="end">3</text>
<text x="57.5" y="148.8" font-size="10.3" text-anchor="middle">0</text>
<text x="139.7" y="148.8" font-size="10.3" text-anchor="middle">250</text>
<text x="221.9" y="148.8" font-size="10.3" text-anchor="middle">500</text>
<text x="304.1" y="148.8" font-size="10.3" text-anchor="middle">750</text>
<text x="386.3" y="148.8" font-size="10.3" text-anchor="middle">1000</text>
<text x="215.5" y="163.9" font-size="13.4" text-anchor="middle">Number of minutes</text>
<text transform="translate(9.7,68) rotate(-90)" font-size="13.4" text-anchor="middle">Species richness</text>
</g>
<g transform="translate(801.04,711.6)">
<g stroke="#EBEBEB"><line x1="41.9" x2="388.9" y1="121.15" y2="121.15"  stroke="#F2F2F2" stroke-width="1.5"/><line x1="41.9" x2="388.9" y1="97.7" y2="97.7"  stroke-width="1.3"/><line x1="41.9" x2="388.9" y1="74.25" y2="74.25"  stroke="#F2F2F2" stroke-width="1.5"/><line x1="41.9" x2="388.9" y1="50.8" y2="50.8"  stroke-width="1.3"/><line x1="41.9" x2="388.9" y1="27.35" y2="27.35"  stroke="#F2F2F2" stroke-width="1.5"/><line x1="41.9" x2="388.9" y1="3.9" y2="3.9"  stroke-width="1.3"/><line x1="57.5" x2="57.5" y1="1" y2="135"  stroke-width="1.3"/><line x1="98.6" x2="98.6" y1="1" y2="135"  stroke="#F2F2F2" stroke-width="1.5"/><line x1="139.7" x2="139.7" y1="1" y2="135"  stroke-width="1.3"/><line x1="180.8" x2="180.8" y1="1" y2="135"  stroke="#F2F2F2" stroke-width="1.5"/><line x1="221.9" x2="221.9" y1="1" y2="135"  stroke-width="1.3"/><line x1="263" x2="263" y1="1" y2="135"  stroke="#F2F2F2" stroke-width="1.5"/><line x1="304.1" x2="304.1" y1="1" y2="135"  stroke-width="1.3"/><line x1="345.2" x2="345.2" y1="1" y2="135"  stroke="#F2F2F2" stroke-width="1.5"/><line x1="386.3" x2="386.3" y1="1" y2="135"  stroke-width="1.3"/></g>
<path d="M60.16,96.4 C60.43,96.13 60.69,95.87 60.96,95.6 C63.78,92.81 66.9,90.34 69.86,87.7 C72.8,85.07 75.66,82.35 78.66,79.8 C81.53,77.36 84.45,74.97 87.46,72.7 C90.32,70.54 93.25,68.46 96.26,66.5 C99.13,64.63 102.12,62.95 105.06,61.2 C108.01,59.45 110.95,57.65 113.96,56 C116.85,54.42 119.76,52.87 122.76,51.5 C124.8,50.57 126.89,49.77 128.96,48.9 C132.29,47.5 135.66,46.16 138.96,44.7 C145.75,41.7 152.37,38.32 158.96,34.9 C165.71,31.39 172.19,27.36 178.96,23.9 C185.53,20.54 192.24,17.45 198.96,14.4 C204.26,11.99 209.63,9.73 214.96,7.4 L373.06,7.4 L373.06,95.4 L218.96,95.4 C215.63,95.57 212.29,95.68 208.96,95.9 C202.28,96.34 195.63,97.23 188.96,97.9 C182.29,98.57 175.62,99.18 168.96,99.9 C162.29,100.62 155.63,101.5 148.96,102.2 C142.3,102.9 135.64,103.62 128.96,104.1 C123.97,104.46 118.96,104.85 113.96,104.9 C109.53,104.94 105.09,104.72 100.66,104.5 C96.26,104.28 91.84,104.11 87.46,103.6 C84.52,103.26 81.56,102.89 78.66,102.3 C75.69,101.7 72.81,100.72 69.86,100 C66.91,99.28 63.91,98.73 60.96,98 C60.69,97.93 60.43,97.87 60.16,97.8 Z" fill="#F8766D" fill-opacity="0.2"/>
<path d="M58.18,125.6 L58.2,124.55 L58.22,123.55 L58.25,122.59 L58.27,121.68 L58.29,120.8 L58.32,119.96 L58.34,119.15 L58.36,118.37 L58.38,117.61 L58.41,116.89 L58.43,116.19 L58.45,115.52 L58.48,114.86 L58.5,114.24 L58.52,113.63 L58.55,113.05 L58.59,111.94 L58.64,110.91 L58.68,109.95 L58.73,109.05 L58.77,108.22 L58.82,107.44 L58.87,106.72 L58.91,106.05 L58.96,105.43 L59,104.84 L59.07,104.04 L59.14,103.32 L59.21,102.68 L59.28,102.09 L59.37,101.41 L59.46,100.81 L59.55,100.29 L59.67,99.73 L59.81,99.18 L59.97,98.66 L60.15,98.2 L60.36,97.8 L60.61,97.43 L60.9,97.13 L61.27,96.86 L61.68,96.64 L62.12,96.46 L62.58,96.29 L63.04,96.14 L63.49,96 L63.97,95.85 L64.46,95.7 L64.94,95.56 L65.42,95.41 L65.9,95.26 L66.38,95.12 L66.86,94.97 L67.57,94.76 L68.06,94.61 L68.56,94.46 L69.05,94.31 L69.55,94.16 L70.04,94.01 L70.54,93.86 L71.03,93.71 L71.53,93.56 L72.03,93.41 L72.52,93.26 L73.02,93.11 L73.51,92.96 L74.01,92.81 L74.5,92.66 L75,92.52 L75.49,92.37 L75.99,92.22 L76.48,92.07 L76.98,91.92 L77.47,91.77 L77.97,91.62 L78.46,91.47 L78.96,91.32 L79.46,91.17 L79.95,91.02 L80.45,90.87 L80.94,90.72 L81.44,90.57 L81.93,90.42 L82.43,90.27 L82.92,90.12 L83.42,89.97 L83.91,89.82 L84.41,89.67 L84.9,89.52 L85.4,89.38 L85.89,89.23 L86.39,89.08 L86.89,88.93 L87.38,88.78 L87.88,88.63 L88.37,88.48 L88.87,88.33 L89.36,88.18 L89.86,88.03 L90.35,87.88 L90.85,87.73 L91.34,87.58 L91.84,87.43 L92.33,87.28 L92.83,87.14 L93.32,86.99 L93.82,86.84 L94.32,86.69 L94.81,86.54 L95.31,86.39 L95.8,86.24 L96.3,86.09 L96.79,85.94 L97.29,85.79 L97.78,85.64 L98.28,85.49 L98.77,85.35 L99.27,85.2 L99.76,85.05 L100.26,84.9 L100.75,84.75 L101.25,84.6 L101.75,84.45 L102.24,84.3 L102.74,84.15 L103.23,84 L103.73,83.86 L104.22,83.71 L104.72,83.56 L105.21,83.41 L105.71,83.26 L106.2,83.11 L106.7,82.96 L107.19,82.81 L107.69,82.66 L108.19,82.51 L108.68,82.37 L109.18,82.22 L109.67,82.07 L110.17,81.92 L110.66,81.77 L111.16,81.62 L111.65,81.47 L112.15,81.32 L112.64,81.18 L113.14,81.03 L113.63,80.88 L114.13,80.73 L114.62,80.58 L115.12,80.43 L115.62,80.28 L116.11,80.13 L116.61,79.99 L117.1,79.84 L117.6,79.69 L118.09,79.54 L118.59,79.39 L119.08,79.24 L119.58,79.09 L120.07,78.95 L120.57,78.8 L121.06,78.65 L121.56,78.5 L122.05,78.35 L122.55,78.2 L123.05,78.05 L123.54,77.91 L124.04,77.76 L124.53,77.61 L125.03,77.46 L125.52,77.31 L126.02,77.16 L126.51,77.02 L127.01,76.87 L127.5,76.72 L128,76.57 L128.49,76.42 L128.99,76.27 L129.48,76.13 L129.98,75.98 L130.48,75.83 L130.97,75.68 L131.47,75.53 L131.96,75.39 L132.46,75.24 L132.95,75.09 L133.45,74.94 L133.94,74.79 L134.44,74.64 L134.93,74.5 L135.43,74.35 L135.92,74.2 L136.42,74.05 L136.91,73.9 L137.41,73.76 L137.91,73.61 L138.4,73.46 L138.9,73.31 L139.39,73.16 L139.89,73.02 L140.38,72.87 L140.88,72.72 L141.37,72.57 L141.87,72.42 L142.36,72.28 L142.86,72.13 L143.35,71.98 L143.85,71.83 L144.34,71.69 L144.84,71.54 L145.34,71.39 L145.83,71.24 L146.33,71.1 L146.82,70.95 L147.32,70.8 L147.81,70.65 L148.31,70.5 L148.8,70.36 L149.3,70.21 L149.79,70.06 L150.29,69.91 L150.78,69.77 L151.28,69.62 L151.78,69.47 L152.27,69.32 L152.77,69.18 L153.26,69.03 L153.76,68.88 L154.25,68.74 L154.75,68.59 L155.24,68.44 L155.74,68.29 L156.23,68.15 L156.73,68 L157.22,67.85 L157.72,67.7 L158.21,67.56 L158.71,67.41 L159.21,67.26 L159.7,67.12 L160.2,66.97 L160.69,66.82 L161.19,66.67 L161.68,66.53 L162.18,66.38 L162.67,66.23 L163.17,66.09 L163.66,65.94 L164.16,65.79 L164.65,65.65 L165.15,65.5 L165.64,65.35 L166.14,65.21 L166.64,65.06 L167.13,64.91 L167.63,64.77 L168.12,64.62 L168.62,64.47 L169.11,64.33 L169.61,64.18 L170.1,64.03 L170.6,63.89 L171.09,63.74 L171.59,63.59 L172.08,63.45 L172.58,63.3 L173.07,63.15 L173.57,63.01 L174.07,62.86 L174.56,62.72 L175.06,62.57 L175.55,62.42 L176.05,62.28 L176.54,62.13 L177.04,61.98 L177.53,61.84 L178.03,61.69 L178.52,61.55 L179.02,61.4 L179.51,61.25 L180.01,61.11 L180.5,60.96 L181,60.82 L181.5,60.67 L181.99,60.53 L182.49,60.38 L182.98,60.23 L183.48,60.09 L183.97,59.94 L184.47,59.8 L184.96,59.65 L185.46,59.51 L185.95,59.36 L186.45,59.22 L186.94,59.07 L187.44,58.93 L187.93,58.78 L188.43,58.64 L188.93,58.49 L189.42,58.35 L189.92,58.2 L190.41,58.06 L190.91,57.91 L191.4,57.77 L191.9,57.62 L192.39,57.48 L192.89,57.33 L193.38,57.19 L193.88,57.04 L194.37,56.9 L194.87,56.75 L195.37,56.61 L195.86,56.46 L196.36,56.32 L196.85,56.18 L197.35,56.03 L197.84,55.89 L198.34,55.74 L198.83,55.6 L199.33,55.46 L199.82,55.31 L200.32,55.17 L200.81,55.03 L201.31,54.88 L201.8,54.74 L202.3,54.6 L202.8,54.45 L203.29,54.31 L203.79,54.17 L204.28,54.02 L204.78,53.88 L205.27,53.74 L205.77,53.6 L206.26,53.45 L206.76,53.31 L207.25,53.17 L207.75,53.03 L208.24,52.89 L208.74,52.74 L209.23,52.6 L209.73,52.46 L210.23,52.32 L210.72,52.18 L211.22,52.04 L211.71,51.9 L212.21,51.76 L212.7,51.62 L213.2,51.48 L213.69,51.34 L214.19,51.2 L214.68,51.07 L215.18,50.93 L215.67,50.8" fill="none" stroke="#F8766D" stroke-width="3.4" stroke-linejoin="round"/>
<line x1="215.67" y1="50.8" x2="373.15" y2="50.8" stroke="#F8766D" stroke-width="3.4" stroke-dasharray="6.9 6.95" stroke-dashoffset="-0.5"/>
<circle cx="215.67" cy="50.8" r="5.75" fill="#F8766D"/>
<text x="320.5" y="88.3" font-size="12.35" text-anchor="middle">plot_arb_57.1 %</text>
<text x="36.6" y="101.85" font-size="10.3" text-anchor="end">2</text>
<text x="36.6" y="54.95" font-size="10.3" text-anchor="end">3</text>
<text x="36.6" y="8.05" font-size="10.3" text-anchor="end">4</text>
<text x="57.5" y="148.8" font-size="10.3" text-anchor="middle">0</text>
<text x="139.7" y="148.8" font-size="10.3" text-anchor="middle">250</text>
<text x="221.9" y="148.8" font-size="10.3" text-anchor="middle">500</text>
<text x="304.1" y="148.8" font-size="10.3" text-anchor="middle">750</text>
<text x="386.3" y="148.8" font-size="10.3" text-anchor="middle">1000</text>
<text x="215.5" y="163.9" font-size="13.4" text-anchor="middle">Number of minutes</text>
<text transform="translate(9.7,68) rotate(-90)" font-size="13.4" text-anchor="middle">Species richness</text>
</g>
<g transform="translate(0,889.5)">
<g stroke="#EBEBEB"><line x1="41.9" x2="388.9" y1="130.6" y2="130.6"  stroke-width="1.3"/><line x1="41.9" x2="388.9" y1="116.45" y2="116.45"  stroke="#F2F2F2" stroke-width="1.5"/><line x1="41.9" x2="388.9" y1="102.3" y2="102.3"  stroke-width="1.3"/><line x1="41.9" x2="388.9" y1="88.15" y2="88.15"  stroke="#F2F2F2" stroke-width="1.5"/><line x1="41.9" x2="388.9" y1="74" y2="74"  stroke-width="1.3"/><line x1="41.9" x2="388.9" y1="59.85" y2="59.85"  stroke="#F2F2F2" stroke-width="1.5"/><line x1="41.9" x2="388.9" y1="45.7" y2="45.7"  stroke-width="1.3"/><line x1="41.9" x2="388.9" y1="31.55" y2="31.55"  stroke="#F2F2F2" stroke-width="1.5"/><line x1="41.9" x2="388.9" y1="17.4" y2="17.4"  stroke-width="1.3"/><line x1="41.9" x2="388.9" y1="3.25" y2="3.25"  stroke="#F2F2F2" stroke-width="1.5"/><line x1="57.5" x2="57.5" y1="1" y2="135"  stroke-width="1.3"/><line x1="98.6" x2="98.6" y1="1" y2="135"  stroke="#F2F2F2" stroke-width="1.5"/><line x1="139.7" x2="139.7" y1="1" y2="135"  stroke-width="1.3"/><line x1="180.8" x2="180.8" y1="1" y2="135"  stroke="#F2F2F2" stroke-width="1.5"/><line x1="221.9" x2="221.9" y1="1" y2="135"  stroke-width="1.3"/><line x1="263" x2="263" y1="1" y2="135"  stroke="#F2F2F2" stroke-width="1.5"/><line x1="304.1" x2="304.1" y1="1" y2="135"  stroke-width="1.3"/><line x1="345.2" x2="345.2" y1="1" y2="135"  stroke="#F2F2F2" stroke-width="1.5"/><line x1="386.3" x2="386.3" y1="1" y2="135"  stroke-width="1.3"/></g>
<path d="M62.2,102.5 C62.3,97.57 61.97,92.59 62.5,87.7 C63.01,82.99 64.14,78.33 65.2,73.7 C66.3,68.89 67.79,64.18 69,59.4 C70.42,53.79 71.01,47.91 73,42.5 C74,39.78 75.3,37.15 76.5,34.5 C77.95,31.31 79.08,27.9 81,25 C82.68,22.46 84.79,20.11 87,18 C88.71,16.37 90.52,14.77 92.5,13.5 C94.8,12.02 97.41,10.89 100,10 C103.19,8.91 106.64,8.45 110,8 C113.31,7.56 116.66,7.39 120,7.3 C124.19,7.18 128.4,7.45 132.6,7.6 C138.4,7.81 144.2,8.2 150,8.5 C156.67,8.84 163.33,9.17 170,9.5 C176.67,9.83 183.33,10.25 190,10.5 C196.66,10.75 203.33,10.87 210,11 C216.67,11.13 223.33,11.2 230,11.3 L373.1,11.3 L373.1,23.5 L220,23.5 C213.33,23.57 206.67,23.62 200,23.7 C193.33,23.78 186.66,23.78 180,24 C173.33,24.22 166.65,24.45 160,25 C156.66,25.28 153.31,25.51 150,26 C146.64,26.5 143.32,27.28 140,28 C136.05,28.86 132.12,29.8 128.2,30.8 C125.46,31.5 122.69,32.13 120,33 C116.59,34.11 113.24,35.47 110,37 C107.44,38.21 104.93,39.55 102.5,41 C99.92,42.54 97.33,44.12 95,46 C92.26,48.21 90.02,51.02 87.5,53.5 C85.48,55.48 83.17,57.24 81.4,59.4 C78.06,63.48 76.32,68.81 74.2,73.7 C72.22,78.26 70.52,82.96 69,87.7 C68.01,90.8 67.37,94.02 66.3,97.1 C65.55,99.26 65.5,103.99 63.8,103.5 C63.33,103.36 62.73,102.83 62.2,102.5 Z" fill="#F8766D" fill-opacity="0.2"/>
<path d="M58.18,128.05 L58.27,127.36 L58.36,126.66 L58.45,125.98 L58.55,125.29 L58.64,124.61 L58.73,123.94 L58.82,123.27 L58.91,122.61 L59,121.95 L59.1,121.29 L59.19,120.64 L59.28,120 L59.37,119.36 L59.46,118.72 L59.55,118.09 L59.64,117.46 L59.74,116.84 L59.83,116.22 L59.92,115.61 L60.01,115 L60.1,114.39 L60.19,113.79 L60.29,113.19 L60.38,112.6 L60.47,112.01 L60.56,111.43 L60.65,110.85 L60.74,110.27 L60.84,109.7 L60.93,109.13 L61.02,108.56 L61.11,108 L61.2,107.45 L61.29,106.89 L61.39,106.35 L61.48,105.8 L61.57,105.26 L61.66,104.72 L61.75,104.19 L61.84,103.66 L61.94,103.13 L62.03,102.61 L62.12,102.09 L62.21,101.58 L62.3,101.06 L62.42,100.43 L62.53,99.8 L62.65,99.18 L62.76,98.56 L62.88,97.94 L62.99,97.34 L63.1,96.73 L63.22,96.14 L63.33,95.54 L63.45,94.96 L63.56,94.38 L63.68,93.8 L63.79,93.23 L63.91,92.66 L64.02,92.1 L64.14,91.54 L64.25,90.99 L64.36,90.44 L64.48,89.9 L64.59,89.36 L64.71,88.82 L64.82,88.29 L64.94,87.77 L65.05,87.25 L65.17,86.73 L65.28,86.22 L65.4,85.71 L65.51,85.21 L65.62,84.71 L65.74,84.22 L65.85,83.73 L65.97,83.24 L66.11,82.66 L66.24,82.09 L66.38,81.53 L66.52,80.96 L66.66,80.41 L66.79,79.86 L66.93,79.32 L67.07,78.78 L67.2,78.25 L67.57,76.87 L67.81,75.94 L68.06,75.04 L68.31,74.15 L68.56,73.28 L68.81,72.42 L69.05,71.58 L69.3,70.75 L69.55,69.94 L69.8,69.14 L70.04,68.35 L70.29,67.58 L70.54,66.82 L70.79,66.08 L71.03,65.35 L71.28,64.63 L71.53,63.92 L71.78,63.23 L72.03,62.55 L72.27,61.88 L72.52,61.22 L72.77,60.57 L73.02,59.94 L73.26,59.31 L73.51,58.69 L73.76,58.09 L74.01,57.5 L74.25,56.91 L74.5,56.34 L74.75,55.77 L75,55.22 L75.24,54.67 L75.49,54.13 L75.74,53.61 L75.99,53.09 L76.24,52.57 L76.48,52.07 L76.73,51.58 L76.98,51.09 L77.23,50.61 L77.47,50.14 L77.72,49.68 L77.97,49.22 L78.22,48.77 L78.46,48.33 L78.71,47.9 L78.96,47.47 L79.21,47.05 L79.46,46.64 L79.7,46.23 L79.95,45.83 L80.2,45.43 L80.45,45.04 L80.69,44.66 L80.94,44.29 L81.19,43.91 L81.44,43.55 L81.68,43.19 L81.93,42.84 L82.43,42.14 L82.92,41.47 L83.42,40.82 L83.91,40.19 L84.41,39.58 L84.9,38.98 L85.4,38.4 L85.89,37.84 L86.39,37.3 L86.89,36.77 L87.38,36.25 L87.88,35.75 L88.37,35.27 L88.87,34.79 L89.36,34.33 L89.86,33.89 L90.35,33.45 L90.85,33.03 L91.34,32.62 L91.84,32.22 L92.33,31.83 L92.83,31.45 L93.32,31.08 L93.82,30.72 L94.32,30.37 L94.81,30.03 L95.31,29.7 L95.8,29.37 L96.3,29.06 L96.79,28.75 L97.29,28.45 L97.78,28.16 L98.28,27.88 L98.77,27.6 L99.27,27.33 L99.76,27.07 L100.26,26.81 L100.75,26.56 L101.25,26.32 L101.75,26.08 L102.24,25.85 L102.74,25.62 L103.23,25.4 L103.73,25.18 L104.22,24.97 L104.72,24.77 L105.21,24.57 L105.71,24.37 L106.2,24.18 L106.7,24 L107.19,23.82 L107.69,23.64 L108.19,23.47 L108.68,23.3 L109.18,23.14 L109.67,22.98 L110.17,22.82 L110.66,22.67 L111.16,22.52 L111.65,22.38 L112.15,22.24 L112.64,22.1 L113.14,21.97 L113.63,21.84 L114.13,21.71 L114.62,21.58 L115.12,21.46 L115.62,21.35 L116.11,21.23 L116.61,21.12 L117.1,21.01 L117.6,20.9 L118.34,20.75 L119.08,20.6 L119.83,20.45 L120.57,20.32 L121.31,20.18 L122.05,20.06 L122.8,19.93 L123.54,19.82 L124.28,19.7 L125.03,19.59 L125.77,19.49 L126.51,19.39 L127.26,19.29 L128,19.2 L128.74,19.11 L129.48,19.03 L130.23,18.95 L130.97,18.87 L131.71,18.8 L132.46,18.72 L133.2,18.66 L133.94,18.59 L134.69,18.53 L135.43,18.47 L136.17,18.41 L136.91,18.36 L137.66,18.31 L138.4,18.26 L139.14,18.21 L139.89,18.16 L140.63,18.12 L141.37,18.08 L142.12,18.04 L142.86,18 L143.6,17.97 L144.34,17.93 L145.09,17.9 L145.83,17.87 L146.57,17.84 L147.32,17.82 L148.06,17.79 L148.8,17.76 L149.55,17.74 L150.29,17.72 L151.03,17.7 L151.78,17.68 L152.52,17.66 L153.26,17.64 L154,17.63 L154.75,17.61 L155.49,17.6 L156.23,17.58 L156.98,17.57 L157.72,17.56 L158.46,17.55 L159.21,17.53 L159.95,17.52 L160.69,17.51 L161.43,17.51 L162.18,17.5 L162.92,17.49 L163.66,17.48 L164.41,17.48 L165.15,17.47 L165.89,17.46 L166.64,17.46 L167.38,17.45 L168.12,17.45 L168.86,17.44 L169.61,17.44 L170.35,17.44 L171.09,17.43 L171.84,17.43 L172.58,17.43 L173.32,17.42 L174.07,17.42 L174.81,17.42 L175.55,17.42 L176.29,17.42 L177.04,17.41 L177.78,17.41 L178.52,17.41 L179.27,17.41 L180.01,17.41 L180.75,17.41 L181.5,17.41 L182.24,17.41 L182.98,17.41 L183.72,17.4 L184.47,17.4 L185.21,17.4 L185.95,17.4 L186.7,17.4 L187.44,17.4 L188.18,17.4 L188.93,17.4 L189.67,17.4 L190.41,17.4 L191.15,17.4 L191.9,17.4 L192.64,17.4 L193.38,17.4 L194.13,17.4 L194.87,17.4 L195.61,17.4 L196.36,17.4 L197.1,17.4 L197.84,17.4 L198.58,17.4 L199.33,17.4 L200.07,17.4 L200.81,17.4 L201.56,17.4 L202.3,17.4 L203.04,17.4 L203.79,17.4 L204.53,17.4 L205.27,17.4 L206.01,17.4 L206.76,17.4 L207.5,17.4 L208.24,17.4 L208.99,17.4 L209.73,17.4 L210.47,17.4 L211.22,17.4 L211.96,17.4 L212.7,17.4 L213.44,17.4 L214.19,17.4 L214.93,17.4 L215.67,17.4" fill="none" stroke="#F8766D" stroke-width="3.4" stroke-linejoin="round"/>
<line x1="215.67" y1="17.4" x2="373.15" y2="17.4" stroke="#F8766D" stroke-width="3.4" stroke-dasharray="6.9 6.95" stroke-dashoffset="-0.5"/>
<circle cx="215.67" cy="17.4" r="5.75" fill="#F8766D"/>
<text x="320.5" y="88.3" font-size="12.35" text-anchor="middle">plot_terr_57.1 %</text>
<text x="36.6" y="134.75" font-size="10.3" text-anchor="end">0.0</text>
<text x="36.6" y="106.45" font-size="10.3" text-anchor="end">0.5</text>
<text x="36.6" y="78.15" font-size="10.3" text-anchor="end">1.0</text>
<text x="36.6" y="49.85" font-size="10.3" text-anchor="end">1.5</text>
<text x="36.6" y="21.55" font-size="10.3" text-anchor="end">2.0</text>
<text x="57.5" y="148.8" font-size="10.3" text-anchor="middle">0</text>
<text x="139.7" y="148.8" font-size="10.3" text-anchor="middle">250</text>
<text x="221.9" y="148.8" font-size="10.3" text-anchor="middle">500</text>
<text x="304.1" y="148.8" font-size="10.3" text-anchor="middle">750</text>
<text x="386.3" y="148.8" font-size="10.3" text-anchor="middle">1000</text>
<text x="215.5" y="163.9" font-size="13.4" text-anchor="middle">Number of minutes</text>
<text transform="translate(9.7,68) rotate(-90)" font-size="13.4" text-anchor="middle">Species richness</text>
</g>
<g transform="translate(400.52,889.5)">
<g stroke="#EBEBEB"><line x1="41.9" x2="388.9" y1="130" y2="130"  stroke-width="1.3"/><line x1="41.9" x2="388.9" y1="109.18" y2="109.18"  stroke="#F2F2F2" stroke-width="1.5"/><line x1="41.9" x2="388.9" y1="88.37" y2="88.37"  stroke-width="1.3"/><line x1="41.9" x2="388.9" y1="67.55" y2="67.55"  stroke="#F2F2F2" stroke-width="1.5"/><line x1="41.9" x2="388.9" y1="46.73" y2="46.73"  stroke-width="1.3"/><line x1="41.9" x2="388.9" y1="25.92" y2="25.92"  stroke="#F2F2F2" stroke-width="1.5"/><line x1="41.9" x2="388.9" y1="5.1" y2="5.1"  stroke-width="1.3"/><line x1="57.5" x2="57.5" y1="1" y2="135"  stroke-width="1.3"/><line x1="98.6" x2="98.6" y1="1" y2="135"  stroke="#F2F2F2" stroke-width="1.5"/><line x1="139.7" x2="139.7" y1="1" y2="135"  stroke-width="1.3"/><line x1="180.8" x2="180.8" y1="1" y2="135"  stroke="#F2F2F2" stroke-width="1.5"/><line x1="221.9" x2="221.9" y1="1" y2="135"  stroke-width="1.3"/><line x1="263" x2="263" y1="1" y2="135"  stroke="#F2F2F2" stroke-width="1.5"/><line x1="304.1" x2="304.1" y1="1" y2="135"  stroke-width="1.3"/><line x1="345.2" x2="345.2" y1="1" y2="135"  stroke="#F2F2F2" stroke-width="1.5"/><line x1="386.3" x2="386.3" y1="1" y2="135"  stroke-width="1.3"/></g>
<path d="M60.98,119 C61.45,117.43 61.92,115.87 62.38,114.3 C63.66,109.89 64.54,105.35 65.98,101 C67.26,97.14 68.63,93.27 70.38,89.6 C71.69,86.86 73.05,84.08 74.78,81.6 C76.54,79.08 78.7,76.79 80.88,74.6 C83.09,72.38 85.52,70.35 87.98,68.4 C90.79,66.18 93.81,64.21 96.78,62.2 C99.68,60.24 102.58,58.29 105.58,56.5 C108.49,54.76 111.48,53.17 114.48,51.6 C117.38,50.08 120.3,48.57 123.28,47.2 C125.33,46.26 127.41,45.4 129.48,44.5 C132.82,43.04 136.16,41.6 139.48,40.1 C146.22,37.05 152.77,33.62 159.48,30.5 C166.11,27.42 172.75,24.36 179.48,21.5 C186.09,18.69 192.78,16.09 199.48,13.5 C204.79,11.45 210.15,9.5 215.48,7.5 L373.58,7.5 L373.58,86 L219.48,86 C216.15,86.17 212.81,86.31 209.48,86.5 C202.81,86.89 196.14,87.42 189.48,88 C182.81,88.58 176.14,89.28 169.48,90 C162.81,90.72 156.16,91.67 149.48,92.3 C142.83,92.93 136.16,93.59 129.48,93.8 C125.95,93.91 122.41,93.85 118.88,93.9 C114.45,93.97 110.01,94.05 105.58,94.2 C101.78,94.33 97.96,94.35 94.18,94.7 C91.51,94.94 88.76,95.04 86.18,95.7 C83.78,96.32 81.37,97.23 79.18,98.4 C76.96,99.59 74.84,101.11 72.98,102.8 C70.98,104.61 69.24,106.79 67.68,109 C65.95,111.45 64.75,114.27 63.28,116.9 C62.51,118.27 61.75,119.63 60.98,121 Z" fill="#F8766D" fill-opacity="0.2"/>
<path d="M58.18,128.85 L58.32,128.38 L58.45,127.92 L58.59,127.45 L58.75,126.92 L58.91,126.39 L59.07,125.86 L59.23,125.34 L59.39,124.83 L59.55,124.32 L59.71,123.82 L59.87,123.32 L60.03,122.83 L60.19,122.35 L60.36,121.86 L60.52,121.39 L60.68,120.92 L60.84,120.45 L61,119.99 L61.16,119.53 L61.32,119.08 L61.48,118.63 L61.64,118.19 L61.82,117.69 L62,117.2 L62.19,116.71 L62.37,116.23 L62.55,115.75 L62.74,115.28 L62.92,114.81 L63.1,114.35 L63.29,113.9 L63.47,113.45 L63.65,113.01 L63.84,112.57 L64.02,112.14 L64.2,111.71 L64.39,111.29 L64.57,110.87 L64.78,110.4 L64.98,109.95 L65.19,109.49 L65.4,109.05 L65.6,108.61 L65.81,108.18 L66.01,107.75 L66.22,107.33 L66.43,106.91 L66.63,106.5 L66.84,106.09 L67.04,105.69 L67.25,105.3 L67.57,104.7 L67.81,104.25 L68.06,103.8 L68.31,103.35 L68.56,102.92 L68.81,102.49 L69.05,102.06 L69.3,101.65 L69.55,101.24 L69.8,100.84 L70.04,100.44 L70.29,100.05 L70.54,99.66 L70.79,99.29 L71.03,98.91 L71.28,98.55 L71.53,98.19 L71.78,97.83 L72.27,97.14 L72.77,96.47 L73.26,95.81 L73.76,95.18 L74.25,94.57 L74.75,93.97 L75.24,93.4 L75.74,92.84 L76.24,92.29 L76.73,91.77 L77.23,91.25 L77.72,90.76 L78.22,90.27 L78.71,89.8 L79.21,89.35 L79.7,88.91 L80.2,88.48 L80.69,88.06 L81.19,87.65 L81.68,87.25 L82.18,86.87 L82.68,86.49 L83.17,86.13 L83.67,85.77 L84.16,85.42 L84.66,85.08 L85.15,84.75 L85.65,84.43 L86.14,84.12 L86.64,83.81 L87.13,83.51 L87.63,83.22 L88.12,82.93 L88.62,82.66 L89.11,82.38 L89.61,82.12 L90.11,81.85 L90.6,81.6 L91.1,81.35 L91.59,81.1 L92.09,80.86 L92.58,80.62 L93.08,80.39 L93.57,80.16 L94.07,79.94 L94.56,79.72 L95.06,79.5 L95.55,79.29 L96.05,79.08 L96.54,78.88 L97.04,78.68 L97.54,78.48 L98.03,78.28 L98.53,78.09 L99.02,77.9 L99.52,77.71 L100.01,77.52 L100.51,77.34 L101,77.16 L101.5,76.98 L101.99,76.8 L102.49,76.63 L102.98,76.45 L103.48,76.28 L103.97,76.11 L104.47,75.95 L104.97,75.78 L105.46,75.62 L105.96,75.45 L106.45,75.29 L106.95,75.13 L107.44,74.97 L107.94,74.81 L108.43,74.66 L108.93,74.5 L109.42,74.35 L109.92,74.19 L110.41,74.04 L110.91,73.89 L111.4,73.74 L111.9,73.59 L112.4,73.44 L112.89,73.29 L113.39,73.14 L113.88,73 L114.38,72.85 L114.87,72.7 L115.37,72.56 L115.86,72.41 L116.36,72.27 L116.85,72.13 L117.35,71.98 L117.84,71.84 L118.34,71.7 L118.83,71.56 L119.33,71.42 L119.83,71.28 L120.32,71.14 L120.82,71 L121.31,70.86 L121.81,70.72 L122.3,70.58 L122.8,70.44 L123.29,70.3 L123.79,70.16 L124.28,70.02 L124.78,69.89 L125.27,69.75 L125.77,69.61 L126.26,69.48 L126.76,69.34 L127.26,69.2 L127.75,69.07 L128.25,68.93 L128.74,68.79 L129.24,68.66 L129.73,68.52 L130.23,68.39 L130.72,68.25 L131.22,68.12 L131.71,67.98 L132.21,67.85 L132.7,67.71 L133.2,67.58 L133.7,67.44 L134.19,67.31 L134.69,67.17 L135.18,67.04 L135.68,66.91 L136.17,66.77 L136.67,66.64 L137.16,66.5 L137.66,66.37 L138.15,66.24 L138.65,66.1 L139.14,65.97 L139.64,65.84 L140.13,65.7 L140.63,65.57 L141.13,65.44 L141.62,65.31 L142.12,65.17 L142.61,65.04 L143.11,64.91 L143.6,64.77 L144.1,64.64 L144.59,64.51 L145.09,64.38 L145.58,64.25 L146.08,64.11 L146.57,63.98 L147.07,63.85 L147.56,63.72 L148.06,63.59 L148.56,63.45 L149.05,63.32 L149.55,63.19 L150.04,63.06 L150.54,62.93 L151.03,62.8 L151.53,62.66 L152.02,62.53 L152.52,62.4 L153.01,62.27 L153.51,62.14 L154,62.01 L154.5,61.88 L154.99,61.75 L155.49,61.62 L155.99,61.49 L156.48,61.35 L156.98,61.22 L157.47,61.09 L157.97,60.96 L158.46,60.83 L158.96,60.7 L159.45,60.57 L159.95,60.44 L160.44,60.31 L160.94,60.18 L161.43,60.05 L161.93,59.92 L162.42,59.79 L162.92,59.66 L163.42,59.53 L163.91,59.4 L164.41,59.28 L164.9,59.15 L165.4,59.02 L165.89,58.89 L166.39,58.76 L166.88,58.63 L167.38,58.5 L167.87,58.37 L168.37,58.24 L168.86,58.11 L169.36,57.99 L169.85,57.86 L170.35,57.73 L170.85,57.6 L171.34,57.47 L171.84,57.35 L172.33,57.22 L172.83,57.09 L173.32,56.96 L173.82,56.83 L174.31,56.71 L174.81,56.58 L175.3,56.45 L175.8,56.32 L176.29,56.2 L176.79,56.07 L177.29,55.94 L177.78,55.82 L178.28,55.69 L178.77,55.56 L179.27,55.44 L179.76,55.31 L180.26,55.18 L180.75,55.06 L181.25,54.93 L181.74,54.81 L182.24,54.68 L182.73,54.56 L183.23,54.43 L183.72,54.3 L184.22,54.18 L184.72,54.05 L185.21,53.93 L185.71,53.8 L186.2,53.68 L186.7,53.56 L187.19,53.43 L187.69,53.31 L188.18,53.18 L188.68,53.06 L189.17,52.93 L189.67,52.81 L190.16,52.69 L190.66,52.56 L191.15,52.44 L191.65,52.32 L192.15,52.2 L192.64,52.07 L193.14,51.95 L193.63,51.83 L194.13,51.71 L194.62,51.58 L195.12,51.46 L195.61,51.34 L196.11,51.22 L196.6,51.1 L197.1,50.98 L197.59,50.86 L198.09,50.74 L198.58,50.62 L199.08,50.5 L199.58,50.38 L200.07,50.26 L200.57,50.14 L201.06,50.02 L201.56,49.9 L202.05,49.78 L202.55,49.66 L203.04,49.54 L203.54,49.43 L204.03,49.31 L204.53,49.19 L205.02,49.08 L205.52,48.96 L206.01,48.84 L206.51,48.73 L207.01,48.61 L207.5,48.5 L208,48.39 L208.49,48.27 L208.99,48.16 L209.48,48.05 L209.98,47.93 L210.47,47.82 L210.97,47.71 L211.46,47.6 L211.96,47.49 L212.45,47.39 L212.95,47.28 L213.44,47.17 L214.19,47.02 L214.93,46.87 L215.43,46.73 L215.67,46.73" fill="none" stroke="#F8766D" stroke-width="3.4" stroke-linejoin="round"/>
<line x1="215.67" y1="46.73" x2="373.15" y2="46.73" stroke="#F8766D" stroke-width="3.4" stroke-dasharray="6.9 6.95" stroke-dashoffset="-0.5"/>
<circle cx="215.67" cy="46.73" r="5.75" fill="#F8766D"/>
<text x="320.5" y="88.3" font-size="12.35" text-anchor="middle">plot_arb_57.9 %</text>
<text x="36.6" y="134.15" font-size="10.3" text-anchor="end">0</text>
<text x="36.6" y="92.52" font-size="10.3" text-anchor="end">1</text>
<text x="36.6" y="50.88" font-size="10.3" text-anchor="end">2</text>
<text x="36.6" y="9.25" font-size="10.3" text-anchor="end">3</text>
<text x="57.5" y="148.8" font-size="10.3" text-anchor="middle">0</text>
<text x="139.7" y="148.8" font-size="10.3" text-anchor="middle">250</text>
<text x="221.9" y="148.8" font-size="10.3" text-anchor="middle">500</text>
<text x="304.1" y="148.8" font-size="10.3" text-anchor="middle">750</text>
<text x="386.3" y="148.8" font-size="10.3" text-anchor="middle">1000</text>
<text x="215.5" y="163.9" font-size="13.4" text-anchor="middle">Number of minutes</text>
<text transform="translate(9.7,68) rotate(-90)" font-size="13.4" text-anchor="middle">Species richness</text>
</g>
<g transform="translate(801.04,889.5)">
<g stroke="#EBEBEB"><line x1="41.9" x2="388.9" y1="130.57" y2="130.57"  stroke-width="1.3"/><line x1="41.9" x2="388.9" y1="115.17" y2="115.17"  stroke="#F2F2F2" stroke-width="1.5"/><line x1="41.9" x2="388.9" y1="99.77" y2="99.77"  stroke-width="1.3"/><line x1="41.9" x2="388.9" y1="84.37" y2="84.37"  stroke="#F2F2F2" stroke-width="1.5"/><line x1="41.9" x2="388.9" y1="68.98" y2="68.98"  stroke-width="1.3"/><line x1="41.9" x2="388.9" y1="53.58" y2="53.58"  stroke="#F2F2F2" stroke-width="1.5"/><line x1="41.9" x2="388.9" y1="38.18" y2="38.18"  stroke-width="1.3"/><line x1="41.9" x2="388.9" y1="22.78" y2="22.78"  stroke="#F2F2F2" stroke-width="1.5"/><line x1="41.9" x2="388.9" y1="7.38" y2="7.38"  stroke-width="1.3"/><line x1="57.5" x2="57.5" y1="1" y2="135"  stroke-width="1.3"/><line x1="98.6" x2="98.6" y1="1" y2="135"  stroke="#F2F2F2" stroke-width="1.5"/><line x1="139.7" x2="139.7" y1="1" y2="135"  stroke-width="1.3"/><line x1="180.8" x2="180.8" y1="1" y2="135"  stroke="#F2F2F2" stroke-width="1.5"/><line x1="221.9" x2="221.9" y1="1" y2="135"  stroke-width="1.3"/><line x1="263" x2="263" y1="1" y2="135"  stroke="#F2F2F2" stroke-width="1.5"/><line x1="304.1" x2="304.1" y1="1" y2="135"  stroke-width="1.3"/><line x1="345.2" x2="345.2" y1="1" y2="135"  stroke="#F2F2F2" stroke-width="1.5"/><line x1="386.3" x2="386.3" y1="1" y2="135"  stroke-width="1.3"/></g>
<path d="M58.18,122.43 L58.2,120.12 L58.22,117.85 L58.25,115.62 L58.27,113.44 L58.29,111.31 L58.32,109.21 L58.34,107.16 L58.36,105.15 L58.38,103.18 L58.41,101.25 L58.43,99.35 L58.45,97.5 L58.48,95.68 L58.5,93.9 L58.52,92.16 L58.55,90.44 L58.57,88.77 L58.59,87.12 L58.61,85.51 L58.64,83.94 L58.66,82.39 L58.68,80.88 L58.71,79.39 L58.73,77.94 L58.75,76.51 L58.77,75.11 L58.8,73.74 L58.82,72.4 L58.84,71.09 L58.87,69.8 L58.89,68.53 L58.91,67.3 L58.93,66.08 L58.96,64.9 L58.98,63.73 L59,62.59 L59.03,61.47 L59.05,60.38 L59.07,59.3 L59.1,58.25 L59.12,57.22 L59.14,56.21 L59.16,55.22 L59.19,54.25 L59.21,53.3 L59.23,52.37 L59.26,51.46 L59.28,50.56 L59.3,49.69 L59.32,48.83 L59.35,47.99 L59.37,47.16 L59.39,46.35 L59.42,45.56 L59.44,44.79 L59.46,44.03 L59.48,43.28 L59.51,42.55 L59.53,41.84 L59.55,41.14 L59.58,40.45 L59.6,39.78 L59.62,39.12 L59.64,38.47 L59.67,37.84 L59.69,37.22 L59.71,36.61 L59.74,36.02 L59.76,35.43 L59.81,34.3 L59.85,33.22 L59.9,32.18 L59.94,31.17 L59.99,30.21 L60.03,29.29 L60.08,28.41 L60.13,27.56 L60.17,26.74 L60.22,25.96 L60.26,25.21 L60.31,24.49 L60.36,23.79 L60.4,23.13 L60.45,22.49 L60.49,21.88 L60.54,21.29 L60.58,20.73 L60.65,19.92 L60.72,19.17 L60.79,18.46 L60.86,17.79 L60.93,17.16 L61,16.57 L61.07,16.01 L61.16,15.33 L61.25,14.69 L61.34,14.11 L61.43,13.57 L61.55,12.96 L61.66,12.4 L61.78,11.91 L61.91,11.37 L62.05,10.9 L62.21,10.42 L62.39,9.95 L62.6,9.51 L62.83,9.11 L63.08,8.75 L63.38,8.42 L63.72,8.14 L64.11,7.91 L64.55,7.73 L65.03,7.6 L65.56,7.52 L66.11,7.46 L66.68,7.43 L67.27,7.41 L68.06,7.39 L68.81,7.39 L69.55,7.38 L70.29,7.38 L71.03,7.38 L71.78,7.38 L72.52,7.38 L73.26,7.38 L74.01,7.38 L74.75,7.38 L75.49,7.38 L76.24,7.38 L76.98,7.38 L77.72,7.38 L78.46,7.38 L79.21,7.38 L79.95,7.38 L80.69,7.38 L81.44,7.38 L82.18,7.38 L82.92,7.38 L83.67,7.38 L84.41,7.38 L85.15,7.38 L85.89,7.38 L86.64,7.38 L87.38,7.38 L88.12,7.38 L88.87,7.38 L89.61,7.38 L90.35,7.38 L91.1,7.38 L91.84,7.38 L92.58,7.38 L93.32,7.38 L94.07,7.38 L94.81,7.38 L95.55,7.38 L96.3,7.38 L97.04,7.38 L97.78,7.38 L98.53,7.38 L99.27,7.38 L100.01,7.38 L100.75,7.38 L101.5,7.38 L102.24,7.38 L102.98,7.38 L103.73,7.38 L104.47,7.38 L105.21,7.38 L105.96,7.38 L106.7,7.38 L107.44,7.38 L108.19,7.38 L108.93,7.38 L109.67,7.38 L110.41,7.38 L111.16,7.38 L111.9,7.38 L112.64,7.38 L113.39,7.38 L114.13,7.38 L114.87,7.38 L115.62,7.38 L116.36,7.38 L117.1,7.38 L117.84,7.38 L118.59,7.38 L119.33,7.38 L120.07,7.38 L120.82,7.38 L121.56,7.38 L122.3,7.38 L123.05,7.38 L123.79,7.38 L124.53,7.38 L125.27,7.38 L126.02,7.38 L126.76,7.38 L127.5,7.38 L128.25,7.38 L128.99,7.38 L129.73,7.38 L130.48,7.38 L131.22,7.38 L131.96,7.38 L132.7,7.38 L133.45,7.38 L134.19,7.38 L134.93,7.38 L135.68,7.38 L136.42,7.38 L137.16,7.38 L137.91,7.38 L138.65,7.38 L139.39,7.38 L140.13,7.38 L140.88,7.38 L141.62,7.38 L142.36,7.38 L143.11,7.38 L143.85,7.38 L144.59,7.38 L145.34,7.38 L146.08,7.38 L146.82,7.38 L147.56,7.38 L148.31,7.38 L149.05,7.38 L149.79,7.38 L150.54,7.38 L151.28,7.38 L152.02,7.38 L152.77,7.38 L153.51,7.38 L154.25,7.38 L154.99,7.38 L155.74,7.38 L156.48,7.38 L157.22,7.38 L157.97,7.38 L158.71,7.38 L159.45,7.38 L160.2,7.38 L160.94,7.38 L161.68,7.38 L162.42,7.38 L163.17,7.38 L163.91,7.38 L164.65,7.38 L165.4,7.38 L166.14,7.38 L166.88,7.38 L167.63,7.38 L168.37,7.38 L169.11,7.38 L169.85,7.38 L170.6,7.38 L171.34,7.38 L172.08,7.38 L172.83,7.38 L173.57,7.38 L174.31,7.38 L175.06,7.38 L175.8,7.38 L176.54,7.38 L177.29,7.38 L178.03,7.38 L178.77,7.38 L179.51,7.38 L180.26,7.38 L181,7.38 L181.74,7.38 L182.49,7.38 L183.23,7.38 L183.97,7.38 L184.72,7.38 L185.46,7.38 L186.2,7.38 L186.94,7.38 L187.69,7.38 L188.43,7.38 L189.17,7.38 L189.92,7.38 L190.66,7.38 L191.4,7.38 L192.15,7.38 L192.89,7.38 L193.63,7.38 L194.37,7.38 L195.12,7.38 L195.86,7.38 L196.6,7.38 L197.35,7.38 L198.09,7.38 L198.83,7.38 L199.58,7.38 L200.32,7.38 L201.06,7.38 L201.8,7.38 L202.55,7.38 L203.29,7.38 L204.03,7.38 L204.78,7.38 L205.52,7.38 L206.26,7.38 L207.01,7.38 L207.75,7.38 L208.49,7.38 L209.23,7.38 L209.98,7.38 L210.72,7.38 L211.46,7.38 L212.21,7.38 L212.95,7.38 L213.69,7.38 L214.44,7.38 L215.18,7.38 L215.67,7.38" fill="none" stroke="#F8766D" stroke-width="3.4" stroke-linejoin="round"/>
<line x1="215.67" y1="7.38" x2="373.15" y2="7.38" stroke="#F8766D" stroke-width="3.4" stroke-dasharray="6.9 6.95" stroke-dashoffset="-0.5"/>
<circle cx="215.67" cy="7.38" r="5.75" fill="#F8766D"/>
<text x="320.5" y="88.3" font-size="12.35" text-anchor="middle">plot_arb_58.7 %</text>
<text x="36.6" y="134.72" font-size="10.3" text-anchor="end">0.2</text>
<text x="36.6" y="103.92" font-size="10.3" text-anchor="end">0.4</text>
<text x="36.6" y="73.13" font-size="10.3" text-anchor="end">0.6</text>
<text x="36.6" y="42.33" font-size="10.3" text-anchor="end">0.8</text>
<text x="36.6" y="11.53" font-size="10.3" text-anchor="end">1.0</text>
<text x="57.5" y="148.8" font-size="10.3" text-anchor="middle">0</text>
<text x="139.7" y="148.8" font-size="10.3" text-anchor="middle">250</text>
<text x="221.9" y="148.8" font-size="10.3" text-anchor="middle">500</text>
<text x="304.1" y="148.8" font-size="10.3" text-anchor="middle">750</text>
<text x="386.3" y="148.8" font-size="10.3" text-anchor="middle">1000</text>
<text x="215.5" y="163.9" font-size="13.4" text-anchor="middle">Number of minutes</text>
<text transform="translate(9.7,68) rotate(-90)" font-size="13.4" text-anchor="middle">Species richness</text>
</g>
<g transform="translate(0,1067.4)">
<g stroke="#EBEBEB"><line x1="41.9" x2="388.9" y1="117.9" y2="117.9"  stroke="#F2F2F2" stroke-width="1.5"/><line x1="41.9" x2="388.9" y1="99.38" y2="99.38"  stroke-width="1.3"/><line x1="41.9" x2="388.9" y1="80.86" y2="80.86"  stroke="#F2F2F2" stroke-width="1.5"/><line x1="41.9" x2="388.9" y1="62.34" y2="62.34"  stroke-width="1.3"/><line x1="41.9" x2="388.9" y1="43.82" y2="43.82"  stroke="#F2F2F2" stroke-width="1.5"/><line x1="41.9" x2="388.9" y1="25.3" y2="25.3"  stroke-width="1.3"/><line x1="41.9" x2="388.9" y1="6.78" y2="6.78"  stroke="#F2F2F2" stroke-width="1.5"/><line x1="57.5" x2="57.5" y1="1" y2="135"  stroke-width="1.3"/><line x1="98.6" x2="98.6" y1="1" y2="135"  stroke="#F2F2F2" stroke-width="1.5"/><line x1="139.7" x2="139.7" y1="1" y2="135"  stroke-width="1.3"/><line x1="180.8" x2="180.8" y1="1" y2="135"  stroke="#F2F2F2" stroke-width="1.5"/><line x1="221.9" x2="221.9" y1="1" y2="135"  stroke-width="1.3"/><line x1="263" x2="263" y1="1" y2="135"  stroke="#F2F2F2" stroke-width="1.5"/><line x1="304.1" x2="304.1" y1="1" y2="135"  stroke-width="1.3"/><line x1="345.2" x2="345.2" y1="1" y2="135"  stroke="#F2F2F2" stroke-width="1.5"/><line x1="386.3" x2="386.3" y1="1" y2="135"  stroke-width="1.3"/></g>
<path d="M58.18,120.57 L58.2,116.76 L58.22,113.09 L58.25,109.53 L58.27,106.1 L58.29,102.78 L58.32,99.57 L58.34,96.46 L58.36,93.46 L58.38,90.56 L58.41,87.76 L58.43,85.04 L58.45,82.42 L58.48,79.89 L58.5,77.44 L58.52,75.07 L58.55,72.79 L58.57,70.57 L58.59,68.43 L58.61,66.37 L58.64,64.37 L58.66,62.44 L58.68,60.57 L58.71,58.77 L58.73,57.02 L58.75,55.33 L58.77,53.7 L58.8,52.13 L58.82,50.61 L58.84,49.13 L58.87,47.71 L58.89,46.34 L58.91,45.01 L58.93,43.72 L58.96,42.48 L58.98,41.28 L59,40.12 L59.03,39 L59.05,37.91 L59.07,36.86 L59.1,35.85 L59.12,34.87 L59.14,33.93 L59.16,33.01 L59.19,32.13 L59.21,31.28 L59.23,30.45 L59.26,29.65 L59.28,28.88 L59.3,28.14 L59.32,27.42 L59.35,26.72 L59.37,26.05 L59.39,25.4 L59.42,24.77 L59.44,24.16 L59.46,23.58 L59.51,22.46 L59.55,21.42 L59.6,20.45 L59.64,19.54 L59.69,18.69 L59.74,17.9 L59.78,17.16 L59.83,16.47 L59.87,15.82 L59.92,15.22 L59.97,14.66 L60.03,13.88 L60.1,13.18 L60.17,12.55 L60.24,11.98 L60.33,11.31 L60.42,10.73 L60.52,10.22 L60.63,9.67 L60.77,9.13 L60.93,8.62 L61.11,8.17 L61.34,7.76 L61.62,7.43 L61.96,7.16 L62.39,6.98 L62.9,6.87 L63.45,6.82 L64.04,6.8 L64.64,6.79 L65.26,6.78 L65.88,6.78 L66.49,6.78 L67.11,6.78 L67.81,6.78 L68.56,6.78 L69.3,6.78 L70.04,6.78 L70.79,6.78 L71.53,6.78 L72.27,6.78 L73.02,6.78 L73.76,6.78 L74.5,6.78 L75.24,6.78 L75.99,6.78 L76.73,6.78 L77.47,6.78 L78.22,6.78 L78.96,6.78 L79.7,6.78 L80.45,6.78 L81.19,6.78 L81.93,6.78 L82.68,6.78 L83.42,6.78 L84.16,6.78 L84.9,6.78 L85.65,6.78 L86.39,6.78 L87.13,6.78 L87.88,6.78 L88.62,6.78 L89.36,6.78 L90.11,6.78 L90.85,6.78 L91.59,6.78 L92.33,6.78 L93.08,6.78 L93.82,6.78 L94.56,6.78 L95.31,6.78 L96.05,6.78 L96.79,6.78 L97.54,6.78 L98.28,6.78 L99.02,6.78 L99.76,6.78 L100.51,6.78 L101.25,6.78 L101.99,6.78 L102.74,6.78 L103.48,6.78 L104.22,6.78 L104.97,6.78 L105.71,6.78 L106.45,6.78 L107.19,6.78 L107.94,6.78 L108.68,6.78 L109.42,6.78 L110.17,6.78 L110.91,6.78 L111.65,6.78 L112.4,6.78 L113.14,6.78 L113.88,6.78 L114.62,6.78 L115.37,6.78 L116.11,6.78 L116.85,6.78 L117.6,6.78 L118.34,6.78 L119.08,6.78 L119.83,6.78 L120.57,6.78 L121.31,6.78 L122.05,6.78 L122.8,6.78 L123.54,6.78 L124.28,6.78 L125.03,6.78 L125.77,6.78 L126.51,6.78 L127.26,6.78 L128,6.78 L128.74,6.78 L129.48,6.78 L130.23,6.78 L130.97,6.78 L131.71,6.78 L132.46,6.78 L133.2,6.78 L133.94,6.78 L134.69,6.78 L135.43,6.78 L136.17,6.78 L136.91,6.78 L137.66,6.78 L138.4,6.78 L139.14,6.78 L139.89,6.78 L140.63,6.78 L141.37,6.78 L142.12,6.78 L142.86,6.78 L143.6,6.78 L144.34,6.78 L145.09,6.78 L145.83,6.78 L146.57,6.78 L147.32,6.78 L148.06,6.78 L148.8,6.78 L149.55,6.78 L150.29,6.78 L151.03,6.78 L151.78,6.78 L152.52,6.78 L153.26,6.78 L154,6.78 L154.75,6.78 L155.49,6.78 L156.23,6.78 L156.98,6.78 L157.72,6.78 L158.46,6.78 L159.21,6.78 L159.95,6.78 L160.69,6.78 L161.43,6.78 L162.18,6.78 L162.92,6.78 L163.66,6.78 L164.41,6.78 L165.15,6.78 L165.89,6.78 L166.64,6.78 L167.38,6.78 L168.12,6.78 L168.86,6.78 L169.61,6.78 L170.35,6.78 L171.09,6.78 L171.84,6.78 L172.58,6.78 L173.32,6.78 L174.07,6.78 L174.81,6.78 L175.55,6.78 L176.29,6.78 L177.04,6.78 L177.78,6.78 L178.52,6.78 L179.27,6.78 L180.01,6.78 L180.75,6.78 L181.5,6.78 L182.24,6.78 L182.98,6.78 L183.72,6.78 L184.47,6.78 L185.21,6.78 L185.95,6.78 L186.7,6.78 L187.44,6.78 L188.18,6.78 L188.93,6.78 L189.67,6.78 L190.41,6.78 L191.15,6.78 L191.9,6.78 L192.64,6.78 L193.38,6.78 L194.13,6.78 L194.87,6.78 L195.61,6.78 L196.36,6.78 L197.1,6.78 L197.84,6.78 L198.58,6.78 L199.33,6.78 L200.07,6.78 L200.81,6.78 L201.56,6.78 L202.3,6.78 L203.04,6.78 L203.79,6.78 L204.53,6.78 L205.27,6.78 L206.01,6.78 L206.76,6.78 L207.5,6.78 L208.24,6.78 L208.99,6.78 L209.73,6.78 L210.47,6.78 L211.22,6.78 L211.96,6.78 L212.7,6.78 L213.44,6.78 L214.19,6.78 L214.93,6.78 L215.67,6.78" fill="none" stroke="#F8766D" stroke-width="3.4" stroke-linejoin="round"/>
<line x1="215.67" y1="6.78" x2="373.15" y2="6.78" stroke="#F8766D" stroke-width="3.4" stroke-dasharray="6.9 6.95" stroke-dashoffset="-0.5"/>
<circle cx="215.67" cy="6.78" r="5.75" fill="#F8766D"/>
<text x="320.5" y="88.3" font-size="12.35" text-anchor="middle">plot_arb_61.9 %</text>
<text x="36.6" y="103.53" font-size="10.3" text-anchor="end">0.5</text>
<text x="36.6" y="66.49" font-size="10.3" text-anchor="end">0.7</text>
<text x="36.6" y="29.45" font-size="10.3" text-anchor="end">0.9</text>
<text x="57.5" y="148.8" font-size="10.3" text-anchor="middle">0</text>
<text x="139.7" y="148.8" font-size="10.3" text-anchor="middle">250</text>
<text x="221.9" y="148.8" font-size="10.3" text-anchor="middle">500</text>
<text x="304.1" y="148.8" font-size="10.3" text-anchor="middle">750</text>
<text x="386.3" y="148.8" font-size="10.3" text-anchor="middle">1000</text>
<text x="215.5" y="163.9" font-size="13.4" text-anchor="middle">Number of minutes</text>
<text transform="translate(9.7,68) rotate(-90)" font-size="13.4" text-anchor="middle">Species richness</text>
</g>
<g transform="translate(400.52,1067.4)">
<g stroke="#EBEBEB"><line x1="41.9" x2="388.9" y1="133.3" y2="133.3"  stroke-width="1.3"/><line x1="41.9" x2="388.9" y1="120.25" y2="120.25"  stroke="#F2F2F2" stroke-width="1.5"/><line x1="41.9" x2="388.9" y1="107.2" y2="107.2"  stroke-width="1.3"/><line x1="41.9" x2="388.9" y1="94.15" y2="94.15"  stroke="#F2F2F2" stroke-width="1.5"/><line x1="41.9" x2="388.9" y1="81.1" y2="81.1"  stroke-width="1.3"/><line x1="41.9" x2="388.9" y1="68.05" y2="68.05"  stroke="#F2F2F2" stroke-width="1.5"/><line x1="41.9" x2="388.9" y1="55" y2="55"  stroke-width="1.3"/><line x1="41.9" x2="388.9" y1="41.95" y2="41.95"  stroke="#F2F2F2" stroke-width="1.5"/><line x1="41.9" x2="388.9" y1="28.9" y2="28.9"  stroke-width="1.3"/><line x1="41.9" x2="388.9" y1="15.85" y2="15.85"  stroke="#F2F2F2" stroke-width="1.5"/><line x1="41.9" x2="388.9" y1="2.8" y2="2.8"  stroke-width="1.3"/><line x1="57.5" x2="57.5" y1="1" y2="135"  stroke-width="1.3"/><line x1="98.6" x2="98.6" y1="1" y2="135"  stroke="#F2F2F2" stroke-width="1.5"/><line x1="139.7" x2="139.7" y1="1" y2="135"  stroke-width="1.3"/><line x1="180.8" x2="180.8" y1="1" y2="135"  stroke="#F2F2F2" stroke-width="1.5"/><line x1="221.9" x2="221.9" y1="1" y2="135"  stroke-width="1.3"/><line x1="263" x2="263" y1="1" y2="135"  stroke="#F2F2F2" stroke-width="1.5"/><line x1="304.1" x2="304.1" y1="1" y2="135"  stroke-width="1.3"/><line x1="345.2" x2="345.2" y1="1" y2="135"  stroke="#F2F2F2" stroke-width="1.5"/><line x1="386.3" x2="386.3" y1="1" y2="135"  stroke-width="1.3"/></g>
<path d="M64.98,77.1 C65.31,76 65.63,74.9 65.98,73.8 C67.02,70.52 68.19,67.28 69.48,64.1 C70.56,61.43 71.64,58.74 72.98,56.2 C74.28,53.75 75.8,51.39 77.38,49.1 C79.28,46.35 81.37,43.71 83.58,41.2 C85.77,38.71 88.1,36.3 90.58,34.1 C93.1,31.86 95.8,29.8 98.58,27.9 C101.4,25.97 104.36,24.19 107.38,22.6 C110.52,20.95 113.78,19.51 117.08,18.2 C121.12,16.6 125.31,15.34 129.48,14.1 C132.79,13.12 136.11,12.15 139.48,11.4 C142.78,10.66 146.13,10.07 149.48,9.6 C152.8,9.14 156.14,8.85 159.48,8.6 C162.81,8.35 166.14,8.22 169.48,8.1 C172.81,7.98 176.15,7.95 179.48,7.9 C186.15,7.8 192.81,7.83 199.48,7.8 L373.58,7.8 L373.58,50.3 L219.48,50.3 C212.81,50.33 206.14,50.27 199.48,50.4 C192.81,50.53 186.13,50.58 179.48,51.1 C176.14,51.36 172.81,51.72 169.48,52.1 C166.14,52.48 162.8,52.9 159.48,53.4 C156.14,53.9 152.78,54.38 149.48,55.1 C146.11,55.84 142.79,56.82 139.48,57.8 C136.12,58.79 132.83,59.97 129.48,61 C125.96,62.08 122.39,63.01 118.88,64.1 C115.33,65.21 111.8,66.38 108.28,67.6 C105.03,68.72 101.82,69.95 98.58,71.1 C95.65,72.14 92.72,73.17 89.78,74.2 C86.82,75.24 83.85,76.28 80.88,77.3 C78.25,78.21 75.6,79.06 72.98,80 C70.64,80.84 68.22,83.46 65.98,82.6 C65.64,82.47 65.31,82.27 64.98,82.1 Z" fill="#F8766D" fill-opacity="0.2"/>
<path d="M58.18,126.77 L58.22,125.92 L58.27,125.08 L58.32,124.26 L58.36,123.45 L58.41,122.65 L58.45,121.87 L58.5,121.1 L58.55,120.34 L58.59,119.59 L58.64,118.86 L58.68,118.14 L58.73,117.43 L58.77,116.73 L58.82,116.04 L58.87,115.36 L58.91,114.7 L58.96,114.04 L59,113.4 L59.05,112.77 L59.1,112.14 L59.14,111.53 L59.19,110.93 L59.23,110.33 L59.28,109.75 L59.32,109.17 L59.37,108.61 L59.42,108.05 L59.48,107.23 L59.55,106.44 L59.62,105.66 L59.69,104.9 L59.76,104.15 L59.83,103.43 L59.9,102.72 L59.97,102.03 L60.03,101.35 L60.1,100.69 L60.17,100.05 L60.24,99.42 L60.31,98.81 L60.38,98.21 L60.45,97.62 L60.52,97.05 L60.58,96.49 L60.65,95.95 L60.72,95.41 L60.81,94.72 L60.9,94.05 L61,93.4 L61.09,92.77 L61.18,92.16 L61.27,91.56 L61.36,90.99 L61.45,90.43 L61.55,89.89 L61.64,89.36 L61.73,88.85 L61.84,88.23 L61.96,87.64 L62.07,87.06 L62.19,86.51 L62.3,85.98 L62.42,85.46 L62.53,84.97 L62.67,84.39 L62.81,83.84 L62.94,83.31 L63.08,82.81 L63.22,82.32 L63.36,81.85 L63.52,81.33 L63.68,80.83 L63.84,80.35 L64,79.9 L64.18,79.4 L64.36,78.92 L64.55,78.47 L64.73,78.04 L64.94,77.57 L65.14,77.13 L65.35,76.71 L65.56,76.31 L65.78,75.88 L66.01,75.47 L66.24,75.09 L66.47,74.71 L66.72,74.32 L66.98,73.95 L67.23,73.59 L67.57,73.13 L68.06,72.5 L68.56,71.9 L69.05,71.34 L69.55,70.81 L70.04,70.3 L70.54,69.81 L71.03,69.33 L71.53,68.87 L72.03,68.42 L72.52,67.99 L73.02,67.56 L73.51,67.14 L74.01,66.72 L74.5,66.31 L75,65.91 L75.49,65.51 L75.99,65.12 L76.48,64.73 L76.98,64.34 L77.47,63.96 L77.97,63.58 L78.46,63.2 L78.96,62.83 L79.46,62.46 L79.95,62.1 L80.45,61.73 L80.94,61.37 L81.44,61.01 L81.93,60.66 L82.43,60.31 L82.92,59.96 L83.42,59.61 L83.91,59.27 L84.41,58.92 L84.9,58.59 L85.4,58.25 L85.89,57.92 L86.39,57.58 L86.89,57.26 L87.38,56.93 L87.88,56.61 L88.37,56.28 L88.87,55.97 L89.36,55.65 L89.86,55.34 L90.35,55.02 L90.85,54.72 L91.34,54.41 L91.84,54.1 L92.33,53.8 L92.83,53.5 L93.32,53.21 L93.82,52.91 L94.32,52.62 L94.81,52.33 L95.31,52.04 L95.8,51.76 L96.3,51.48 L96.79,51.2 L97.29,50.92 L97.78,50.64 L98.28,50.37 L98.77,50.1 L99.27,49.83 L99.76,49.56 L100.26,49.3 L100.75,49.04 L101.25,48.78 L101.75,48.52 L102.24,48.27 L102.74,48.01 L103.23,47.76 L103.73,47.51 L104.22,47.27 L104.72,47.02 L105.21,46.78 L105.71,46.54 L106.2,46.3 L106.7,46.07 L107.19,45.84 L107.69,45.6 L108.19,45.38 L108.68,45.15 L109.18,44.92 L109.67,44.7 L110.17,44.48 L110.66,44.26 L111.16,44.04 L111.65,43.83 L112.15,43.62 L112.64,43.41 L113.14,43.2 L113.63,42.99 L114.13,42.79 L114.62,42.58 L115.12,42.38 L115.62,42.19 L116.11,41.99 L116.61,41.79 L117.1,41.6 L117.6,41.41 L118.09,41.22 L118.59,41.03 L119.08,40.85 L119.58,40.67 L120.07,40.48 L120.57,40.31 L121.06,40.13 L121.56,39.95 L122.05,39.78 L122.55,39.61 L123.05,39.44 L123.54,39.27 L124.04,39.1 L124.53,38.94 L125.03,38.77 L125.52,38.61 L126.02,38.45 L126.51,38.29 L127.01,38.14 L127.5,37.98 L128,37.83 L128.49,37.68 L128.99,37.53 L129.48,37.38 L129.98,37.24 L130.48,37.09 L130.97,36.95 L131.47,36.81 L131.96,36.67 L132.46,36.53 L132.95,36.4 L133.45,36.26 L133.94,36.13 L134.44,36 L134.93,35.87 L135.43,35.74 L135.92,35.62 L136.42,35.49 L136.91,35.37 L137.41,35.25 L137.91,35.13 L138.4,35.01 L138.9,34.89 L139.39,34.78 L139.89,34.66 L140.38,34.55 L140.88,34.44 L141.37,34.33 L141.87,34.22 L142.36,34.11 L142.86,34.01 L143.6,33.85 L144.34,33.7 L145.09,33.55 L145.83,33.41 L146.57,33.26 L147.32,33.12 L148.06,32.99 L148.8,32.85 L149.55,32.72 L150.29,32.6 L151.03,32.47 L151.78,32.35 L152.52,32.23 L153.26,32.11 L154,32 L154.75,31.89 L155.49,31.78 L156.23,31.67 L156.98,31.57 L157.72,31.47 L158.46,31.37 L159.21,31.28 L159.95,31.18 L160.69,31.09 L161.43,31.01 L162.18,30.92 L162.92,30.84 L163.66,30.76 L164.41,30.68 L165.15,30.6 L165.89,30.53 L166.64,30.45 L167.38,30.38 L168.12,30.32 L168.86,30.25 L169.61,30.19 L170.35,30.13 L171.09,30.07 L171.84,30.01 L172.58,29.95 L173.32,29.9 L174.07,29.85 L174.81,29.8 L175.55,29.75 L176.29,29.7 L177.04,29.66 L177.78,29.61 L178.52,29.57 L179.27,29.53 L180.01,29.49 L180.75,29.46 L181.5,29.42 L182.24,29.39 L182.98,29.36 L183.72,29.33 L184.47,29.3 L185.21,29.27 L185.95,29.24 L186.7,29.22 L187.44,29.19 L188.18,29.17 L188.93,29.15 L189.67,29.13 L190.41,29.11 L191.15,29.09 L191.9,29.07 L192.64,29.06 L193.38,29.04 L194.13,29.03 L194.87,29.02 L195.61,29 L196.36,28.99 L197.1,28.98 L197.84,28.97 L198.58,28.96 L199.33,28.96 L200.07,28.95 L200.81,28.94 L201.56,28.94 L202.3,28.93 L203.04,28.93 L203.79,28.92 L204.53,28.92 L205.27,28.91 L206.01,28.91 L206.76,28.91 L207.5,28.91 L208.24,28.9 L208.99,28.9 L209.73,28.9 L210.47,28.9 L211.22,28.9 L211.96,28.9 L212.7,28.9 L213.44,28.9 L214.19,28.9 L214.93,28.9 L215.67,28.9" fill="none" stroke="#F8766D" stroke-width="3.4" stroke-linejoin="round"/>
<line x1="215.67" y1="28.9" x2="373.15" y2="28.9" stroke="#F8766D" stroke-width="3.4" stroke-dasharray="6.9 6.95" stroke-dashoffset="-0.5"/>
<circle cx="215.67" cy="28.9" r="5.75" fill="#F8766D"/>
<text x="320.5" y="88.3" font-size="12.35" text-anchor="middle">plot_terr_61.9 %</text>
<text x="36.6" y="137.45" font-size="10.3" text-anchor="end">0.0</text>
<text x="36.6" y="111.35" font-size="10.3" text-anchor="end">0.5</text>
<text x="36.6" y="85.25" font-size="10.3" text-anchor="end">1.0</text>
<text x="36.6" y="59.15" font-size="10.3" text-anchor="end">1.5</text>
<text x="36.6" y="33.05" font-size="10.3" text-anchor="end">2.0</text>
<text x="36.6" y="6.95" font-size="10.3" text-anchor="end">2.5</text>
<text x="57.5" y="148.8" font-size="10.3" text-anchor="middle">0</text>
<text x="139.7" y="148.8" font-size="10.3" text-anchor="middle">250</text>
<text x="221.9" y="148.8" font-size="10.3" text-anchor="middle">500</text>
<text x="304.1" y="148.8" font-size="10.3" text-anchor="middle">750</text>
<text x="386.3" y="148.8" font-size="10.3" text-anchor="middle">1000</text>
<text x="215.5" y="163.9" font-size="13.4" text-anchor="middle">Number of minutes</text>
<text transform="translate(9.7,68) rotate(-90)" font-size="13.4" text-anchor="middle">Species richness</text>
</g>
<g transform="translate(801.04,1067.4)">
<g stroke="#EBEBEB"><line x1="41.9" x2="388.9" y1="130.05" y2="130.05"  stroke-width="1.3"/><line x1="41.9" x2="388.9" y1="114.73" y2="114.73"  stroke="#F2F2F2" stroke-width="1.5"/><line x1="41.9" x2="388.9" y1="99.41" y2="99.41"  stroke-width="1.3"/><line x1="41.9" x2="388.9" y1="84.09" y2="84.09"  stroke="#F2F2F2" stroke-width="1.5"/><line x1="41.9" x2="388.9" y1="68.76" y2="68.76"  stroke-width="1.3"/><line x1="41.9" x2="388.9" y1="53.44" y2="53.44"  stroke="#F2F2F2" stroke-width="1.5"/><line x1="41.9" x2="388.9" y1="38.12" y2="38.12"  stroke-width="1.3"/><line x1="41.9" x2="388.9" y1="22.8" y2="22.8"  stroke="#F2F2F2" stroke-width="1.5"/><line x1="41.9" x2="388.9" y1="7.48" y2="7.48"  stroke-width="1.3"/><line x1="57.5" x2="57.5" y1="1" y2="135"  stroke-width="1.3"/><line x1="98.6" x2="98.6" y1="1" y2="135"  stroke="#F2F2F2" stroke-width="1.5"/><line x1="139.7" x2="139.7" y1="1" y2="135"  stroke-width="1.3"/><line x1="180.8" x2="180.8" y1="1" y2="135"  stroke="#F2F2F2" stroke-width="1.5"/><line x1="221.9" x2="221.9" y1="1" y2="135"  stroke-width="1.3"/><line x1="263" x2="263" y1="1" y2="135"  stroke="#F2F2F2" stroke-width="1.5"/><line x1="304.1" x2="304.1" y1="1" y2="135"  stroke-width="1.3"/><line x1="345.2" x2="345.2" y1="1" y2="135"  stroke="#F2F2F2" stroke-width="1.5"/><line x1="386.3" x2="386.3" y1="1" y2="135"  stroke-width="1.3"/></g>
<path d="M58.18,122.37 L58.2,120.08 L58.22,117.84 L58.25,115.65 L58.27,113.5 L58.29,111.39 L58.32,109.32 L58.34,107.29 L58.36,105.31 L58.38,103.36 L58.41,101.45 L58.43,99.58 L58.45,97.74 L58.48,95.94 L58.5,94.18 L58.52,92.45 L58.55,90.76 L58.57,89.1 L58.59,87.47 L58.61,85.88 L58.64,84.31 L58.66,82.78 L58.68,81.28 L58.71,79.81 L58.73,78.36 L58.75,76.95 L58.77,75.56 L58.8,74.2 L58.82,72.87 L58.84,71.56 L58.87,70.28 L58.89,69.03 L58.91,67.8 L58.93,66.59 L58.96,65.41 L58.98,64.25 L59,63.11 L59.03,62 L59.05,60.91 L59.07,59.84 L59.1,58.79 L59.12,57.77 L59.14,56.76 L59.16,55.77 L59.19,54.81 L59.21,53.86 L59.23,52.93 L59.26,52.02 L59.28,51.13 L59.3,50.25 L59.32,49.39 L59.35,48.55 L59.37,47.73 L59.39,46.92 L59.42,46.13 L59.44,45.36 L59.46,44.6 L59.48,43.85 L59.51,43.12 L59.53,42.41 L59.55,41.7 L59.58,41.02 L59.6,40.34 L59.62,39.68 L59.64,39.04 L59.67,38.4 L59.69,37.78 L59.71,37.17 L59.74,36.57 L59.76,35.99 L59.81,34.85 L59.85,33.76 L59.9,32.72 L59.94,31.71 L59.99,30.74 L60.03,29.81 L60.08,28.92 L60.13,28.07 L60.17,27.25 L60.22,26.46 L60.26,25.7 L60.31,24.97 L60.36,24.27 L60.4,23.6 L60.45,22.95 L60.49,22.33 L60.54,21.74 L60.58,21.17 L60.65,20.35 L60.72,19.59 L60.79,18.87 L60.86,18.19 L60.93,17.55 L61,16.95 L61.07,16.38 L61.13,15.85 L61.23,15.19 L61.32,14.58 L61.41,14.02 L61.5,13.51 L61.62,12.92 L61.73,12.38 L61.87,11.81 L62,11.31 L62.16,10.79 L62.33,10.35 L62.51,9.91 L62.71,9.49 L62.94,9.12 L63.22,8.75 L63.52,8.45 L63.86,8.19 L64.25,7.98 L64.71,7.81 L65.21,7.68 L65.74,7.61 L66.29,7.56 L66.86,7.52 L67.57,7.5 L68.31,7.49 L69.05,7.49 L69.8,7.48 L70.54,7.48 L71.28,7.48 L72.03,7.48 L72.77,7.48 L73.51,7.48 L74.25,7.48 L75,7.48 L75.74,7.48 L76.48,7.48 L77.23,7.48 L77.97,7.48 L78.71,7.48 L79.46,7.48 L80.2,7.48 L80.94,7.48 L81.68,7.48 L82.43,7.48 L83.17,7.48 L83.91,7.48 L84.66,7.48 L85.4,7.48 L86.14,7.48 L86.89,7.48 L87.63,7.48 L88.37,7.48 L89.11,7.48 L89.86,7.48 L90.6,7.48 L91.34,7.48 L92.09,7.48 L92.83,7.48 L93.57,7.48 L94.32,7.48 L95.06,7.48 L95.8,7.48 L96.54,7.48 L97.29,7.48 L98.03,7.48 L98.77,7.48 L99.52,7.48 L100.26,7.48 L101,7.48 L101.75,7.48 L102.49,7.48 L103.23,7.48 L103.97,7.48 L104.72,7.48 L105.46,7.48 L106.2,7.48 L106.95,7.48 L107.69,7.48 L108.43,7.48 L109.18,7.48 L109.92,7.48 L110.66,7.48 L111.4,7.48 L112.15,7.48 L112.89,7.48 L113.63,7.48 L114.38,7.48 L115.12,7.48 L115.86,7.48 L116.61,7.48 L117.35,7.48 L118.09,7.48 L118.83,7.48 L119.58,7.48 L120.32,7.48 L121.06,7.48 L121.81,7.48 L122.55,7.48 L123.29,7.48 L124.04,7.48 L124.78,7.48 L125.52,7.48 L126.26,7.48 L127.01,7.48 L127.75,7.48 L128.49,7.48 L129.24,7.48 L129.98,7.48 L130.72,7.48 L131.47,7.48 L132.21,7.48 L132.95,7.48 L133.7,7.48 L134.44,7.48 L135.18,7.48 L135.92,7.48 L136.67,7.48 L137.41,7.48 L138.15,7.48 L138.9,7.48 L139.64,7.48 L140.38,7.48 L141.13,7.48 L141.87,7.48 L142.61,7.48 L143.35,7.48 L144.1,7.48 L144.84,7.48 L145.58,7.48 L146.33,7.48 L147.07,7.48 L147.81,7.48 L148.56,7.48 L149.3,7.48 L150.04,7.48 L150.78,7.48 L151.53,7.48 L152.27,7.48 L153.01,7.48 L153.76,7.48 L154.5,7.48 L155.24,7.48 L155.99,7.48 L156.73,7.48 L157.47,7.48 L158.21,7.48 L158.96,7.48 L159.7,7.48 L160.44,7.48 L161.19,7.48 L161.93,7.48 L162.67,7.48 L163.42,7.48 L164.16,7.48 L164.9,7.48 L165.64,7.48 L166.39,7.48 L167.13,7.48 L167.87,7.48 L168.62,7.48 L169.36,7.48 L170.1,7.48 L170.85,7.48 L171.59,7.48 L172.33,7.48 L173.07,7.48 L173.82,7.48 L174.56,7.48 L175.3,7.48 L176.05,7.48 L176.79,7.48 L177.53,7.48 L178.28,7.48 L179.02,7.48 L179.76,7.48 L180.5,7.48 L181.25,7.48 L181.99,7.48 L182.73,7.48 L183.48,7.48 L184.22,7.48 L184.96,7.48 L185.71,7.48 L186.45,7.48 L187.19,7.48 L187.93,7.48 L188.68,7.48 L189.42,7.48 L190.16,7.48 L190.91,7.48 L191.65,7.48 L192.39,7.48 L193.14,7.48 L193.88,7.48 L194.62,7.48 L195.37,7.48 L196.11,7.48 L196.85,7.48 L197.59,7.48 L198.34,7.48 L199.08,7.48 L199.82,7.48 L200.57,7.48 L201.31,7.48 L202.05,7.48 L202.8,7.48 L203.54,7.48 L204.28,7.48 L205.02,7.48 L205.77,7.48 L206.51,7.48 L207.25,7.48 L208,7.48 L208.74,7.48 L209.48,7.48 L210.23,7.48 L210.97,7.48 L211.71,7.48 L212.45,7.48 L213.2,7.48 L213.94,7.48 L214.68,7.48 L215.43,7.48 L215.67,7.48" fill="none" stroke="#F8766D" stroke-width="3.4" stroke-linejoin="round"/>
<line x1="215.67" y1="7.48" x2="373.15" y2="7.48" stroke="#F8766D" stroke-width="3.4" stroke-dasharray="6.9 6.95" stroke-dashoffset="-0.5"/>
<circle cx="215.67" cy="7.48" r="5.75" fill="#F8766D"/>
<text x="320.5" y="88.3" font-size="12.35" text-anchor="middle">plot_arb_76.8 %</text>
<text x="36.6" y="134.2" font-size="10.3" text-anchor="end">0.2</text>
<text x="36.6" y="103.56" font-size="10.3" text-anchor="end">0.4</text>
<text x="36.6" y="72.91" font-size="10.3" text-anchor="end">0.6</text>
<text x="36.6" y="42.27" font-size="10.3" text-anchor="end">0.8</text>
<text x="36.6" y="11.63" font-size="10.3" text-anchor="end">1.0</text>
<text x="57.5" y="148.8" font-size="10.3" text-anchor="middle">0</text>
<text x="139.7" y="148.8" font-size="10.3" text-anchor="middle">250</text>
<text x="221.9" y="148.8" font-size="10.3" text-anchor="middle">500</text>
<text x="304.1" y="148.8" font-size="10.3" text-anchor="middle">750</text>
<text x="386.3" y="148.8" font-size="10.3" text-anchor="middle">1000</text>
<text x="215.5" y="163.9" font-size="13.4" text-anchor="middle">Number of minutes</text>
<text transform="translate(9.7,68) rotate(-90)" font-size="13.4" text-anchor="middle">Species richness</text>
</g>
<g transform="translate(0,1245.3)">
<g stroke="#EBEBEB"><line x1="41.9" x2="388.9" y1="122.8" y2="122.8"  stroke="#F2F2F2" stroke-width="1.5"/><line x1="41.9" x2="388.9" y1="107" y2="107"  stroke-width="1.3"/><line x1="41.9" x2="388.9" y1="91.2" y2="91.2"  stroke="#F2F2F2" stroke-width="1.5"/><line x1="41.9" x2="388.9" y1="75.4" y2="75.4"  stroke-width="1.3"/><line x1="41.9" x2="388.9" y1="59.6" y2="59.6"  stroke="#F2F2F2" stroke-width="1.5"/><line x1="41.9" x2="388.9" y1="43.8" y2="43.8"  stroke-width="1.3"/><line x1="41.9" x2="388.9" y1="28" y2="28"  stroke="#F2F2F2" stroke-width="1.5"/><line x1="41.9" x2="388.9" y1="12.2" y2="12.2"  stroke-width="1.3"/><line x1="57.5" x2="57.5" y1="1" y2="135"  stroke-width="1.3"/><line x1="98.6" x2="98.6" y1="1" y2="135"  stroke="#F2F2F2" stroke-width="1.5"/><line x1="139.7" x2="139.7" y1="1" y2="135"  stroke-width="1.3"/><line x1="180.8" x2="180.8" y1="1" y2="135"  stroke="#F2F2F2" stroke-width="1.5"/><line x1="221.9" x2="221.9" y1="1" y2="135"  stroke-width="1.3"/><line x1="263" x2="263" y1="1" y2="135"  stroke="#F2F2F2" stroke-width="1.5"/><line x1="304.1" x2="304.1" y1="1" y2="135"  stroke-width="1.3"/><line x1="345.2" x2="345.2" y1="1" y2="135"  stroke="#F2F2F2" stroke-width="1.5"/><line x1="386.3" x2="386.3" y1="1" y2="135"  stroke-width="1.3"/></g>
<path d="M63.3,51.7 C63.73,49.5 64.08,47.28 64.6,45.1 C65.37,41.85 66.45,38.67 67.5,35.5 C68.52,32.44 69.58,29.39 70.8,26.4 C71.96,23.56 72.94,20.54 74.6,18 C76.08,15.73 77.84,13.38 80,11.8 C81.94,10.38 84.38,9.47 86.7,8.7 C88.7,8.04 90.81,7.59 92.9,7.3 C95.24,6.98 97.64,6.91 100,7 C102.95,7.11 105.88,7.7 108.8,8.2 C111.75,8.7 114.65,9.48 117.6,10 C120.52,10.51 123.46,10.98 126.4,11.3 C129.92,11.69 133.46,11.85 137,12 C141.33,12.19 145.67,12.13 150,12.2 L165,12.2 C160,12.33 154.99,12.27 150,12.6 C145.66,12.89 141.31,13.3 137,13.9 C133.45,14.39 129.9,14.95 126.4,15.7 C123.44,16.33 120.49,17.03 117.6,17.9 C114.62,18.79 111.78,20.12 108.8,21 C105.36,22.02 101.54,22.05 98.3,23.45 C94.63,25.04 91.4,27.87 88.3,30.5 C85.31,33.04 82.55,35.92 80,38.9 C77.75,41.52 75.68,44.33 73.75,47.2 C71.95,49.88 70.24,52.64 68.75,55.5 C67.68,57.55 66.58,62.38 65.8,61.8 C65.32,61.44 64.96,59.08 64.6,57.7 C64.08,55.72 63.73,53.7 63.3,51.7 Z" fill="#F8766D" fill-opacity="0.2"/>
<path d="M58.18,125.93 L58.2,125.13 L58.22,124.34 L58.25,123.56 L58.27,122.78 L58.29,122.02 L58.32,121.27 L58.34,120.52 L58.36,119.78 L58.38,119.06 L58.41,118.34 L58.43,117.63 L58.45,116.93 L58.48,116.24 L58.5,115.55 L58.52,114.88 L58.55,114.21 L58.57,113.55 L58.59,112.9 L58.61,112.25 L58.64,111.62 L58.66,110.99 L58.68,110.36 L58.71,109.75 L58.73,109.14 L58.75,108.54 L58.77,107.95 L58.8,107.37 L58.82,106.79 L58.87,105.65 L58.91,104.54 L58.96,103.46 L59,102.4 L59.05,101.36 L59.1,100.35 L59.14,99.36 L59.19,98.4 L59.23,97.46 L59.28,96.53 L59.32,95.63 L59.37,94.75 L59.42,93.89 L59.46,93.05 L59.51,92.23 L59.55,91.42 L59.6,90.64 L59.64,89.87 L59.69,89.12 L59.74,88.38 L59.78,87.66 L59.83,86.96 L59.87,86.27 L59.92,85.59 L59.97,84.93 L60.01,84.29 L60.06,83.66 L60.1,83.04 L60.15,82.43 L60.19,81.84 L60.24,81.26 L60.29,80.69 L60.33,80.13 L60.4,79.31 L60.47,78.52 L60.54,77.76 L60.61,77.01 L60.68,76.29 L60.74,75.59 L60.81,74.9 L60.88,74.24 L60.95,73.6 L61.02,72.97 L61.09,72.36 L61.16,71.77 L61.23,71.19 L61.29,70.63 L61.36,70.09 L61.43,69.55 L61.52,68.86 L61.62,68.2 L61.71,67.55 L61.8,66.93 L61.89,66.32 L61.98,65.74 L62.07,65.17 L62.16,64.62 L62.26,64.08 L62.35,63.57 L62.46,62.94 L62.58,62.33 L62.69,61.74 L62.81,61.17 L62.92,60.62 L63.04,60.08 L63.15,59.56 L63.26,59.06 L63.38,58.56 L63.52,57.99 L63.65,57.44 L63.79,56.9 L63.93,56.37 L64.07,55.87 L64.2,55.37 L64.34,54.89 L64.48,54.41 L64.64,53.88 L64.8,53.35 L64.96,52.84 L65.12,52.35 L65.28,51.86 L65.44,51.38 L65.6,50.92 L65.76,50.46 L65.92,50.01 L66.08,49.57 L66.27,49.08 L66.45,48.6 L66.63,48.12 L66.82,47.66 L67,47.2 L67.18,46.75 L67.57,45.83 L67.81,45.25 L68.06,44.68 L68.31,44.13 L68.56,43.58 L68.81,43.05 L69.05,42.52 L69.3,42.01 L69.55,41.5 L69.8,41 L70.04,40.51 L70.29,40.03 L70.54,39.55 L70.79,39.09 L71.03,38.63 L71.28,38.18 L71.53,37.73 L71.78,37.3 L72.03,36.87 L72.27,36.44 L72.52,36.03 L72.77,35.62 L73.02,35.21 L73.26,34.82 L73.51,34.43 L73.76,34.04 L74.01,33.66 L74.25,33.29 L74.5,32.92 L74.75,32.56 L75,32.21 L75.49,31.51 L75.99,30.84 L76.48,30.19 L76.98,29.56 L77.47,28.95 L77.97,28.36 L78.46,27.78 L78.96,27.23 L79.46,26.69 L79.95,26.17 L80.45,25.67 L80.94,25.18 L81.44,24.71 L81.93,24.26 L82.43,23.82 L82.92,23.39 L83.42,22.98 L83.91,22.59 L84.41,22.2 L84.9,21.83 L85.4,21.47 L85.89,21.12 L86.39,20.79 L86.89,20.46 L87.38,20.15 L87.88,19.85 L88.37,19.56 L88.87,19.28 L89.36,19 L89.86,18.74 L90.35,18.49 L90.85,18.24 L91.34,18.01 L91.84,17.78 L92.33,17.56 L92.83,17.35 L93.32,17.14 L93.82,16.95 L94.32,16.76 L94.81,16.57 L95.31,16.4 L95.8,16.23 L96.3,16.06 L96.79,15.91 L97.29,15.75 L97.78,15.61 L98.28,15.47 L98.77,15.33 L99.27,15.2 L99.76,15.07 L100.26,14.95 L100.75,14.84 L101.25,14.73 L101.75,14.62 L102.49,14.46 L103.23,14.32 L103.97,14.18 L104.72,14.05 L105.46,13.93 L106.2,13.82 L106.95,13.71 L107.69,13.61 L108.43,13.52 L109.18,13.43 L109.92,13.35 L110.66,13.27 L111.4,13.19 L112.15,13.12 L112.89,13.06 L113.63,13 L114.38,12.94 L115.12,12.89 L115.86,12.84 L116.61,12.79 L117.35,12.75 L118.09,12.71 L118.83,12.67 L119.58,12.64 L120.32,12.6 L121.06,12.57 L121.81,12.55 L122.55,12.52 L123.29,12.49 L124.04,12.47 L124.78,12.45 L125.52,12.43 L126.26,12.41 L127.01,12.39 L127.75,12.38 L128.49,12.36 L129.24,12.35 L129.98,12.34 L130.72,12.33 L131.47,12.32 L132.21,12.31 L132.95,12.3 L133.7,12.29 L134.44,12.28 L135.18,12.27 L135.92,12.27 L136.67,12.26 L137.41,12.26 L138.15,12.25 L138.9,12.25 L139.64,12.24 L140.38,12.24 L141.13,12.23 L141.87,12.23 L142.61,12.23 L143.35,12.22 L144.1,12.22 L144.84,12.22 L145.58,12.22 L146.33,12.22 L147.07,12.21 L147.81,12.21 L148.56,12.21 L149.3,12.21 L150.04,12.21 L150.78,12.21 L151.53,12.21 L152.27,12.21 L153.01,12.21 L153.76,12.21 L154.5,12.2 L155.24,12.2 L155.99,12.2 L156.73,12.2 L157.47,12.2 L158.21,12.2 L158.96,12.2 L159.7,12.2 L160.44,12.2 L161.19,12.2 L161.93,12.2 L162.67,12.2 L163.42,12.2 L164.16,12.2 L164.9,12.2 L165.64,12.2 L166.39,12.2 L167.13,12.2 L167.87,12.2 L168.62,12.2 L169.36,12.2 L170.1,12.2 L170.85,12.2 L171.59,12.2 L172.33,12.2 L173.07,12.2 L173.82,12.2 L174.56,12.2 L175.3,12.2 L176.05,12.2 L176.79,12.2 L177.53,12.2 L178.28,12.2 L179.02,12.2 L179.76,12.2 L180.5,12.2 L181.25,12.2 L181.99,12.2 L182.73,12.2 L183.48,12.2 L184.22,12.2 L184.96,12.2 L185.71,12.2 L186.45,12.2 L187.19,12.2 L187.93,12.2 L188.68,12.2 L189.42,12.2 L190.16,12.2 L190.91,12.2 L191.65,12.2 L192.39,12.2 L193.14,12.2 L193.88,12.2 L194.62,12.2 L195.37,12.2 L196.11,12.2 L196.85,12.2 L197.59,12.2 L198.34,12.2 L199.08,12.2 L199.82,12.2 L200.57,12.2 L201.31,12.2 L202.05,12.2 L202.8,12.2 L203.54,12.2 L204.28,12.2 L205.02,12.2 L205.77,12.2 L206.51,12.2 L207.25,12.2 L208,12.2 L208.74,12.2 L209.48,12.2 L210.23,12.2 L210.97,12.2 L211.71,12.2 L212.45,12.2 L213.2,12.2 L213.94,12.2 L214.68,12.2 L215.43,12.2 L215.67,12.2" fill="none" stroke="#F8766D" stroke-width="3.4" stroke-linejoin="round"/>
<line x1="215.67" y1="12.2" x2="373.15" y2="12.2" stroke="#F8766D" stroke-width="3.4" stroke-dasharray="6.9 6.95" stroke-dashoffset="-0.5"/>
<circle cx="215.67" cy="12.2" r="5.75" fill="#F8766D"/>
<text x="320.5" y="88.3" font-size="12.35" text-anchor="middle">plot_terr_77.7 %</text>
<text x="36.6" y="111.15" font-size="10.3" text-anchor="end">0.5</text>
<text x="36.6" y="79.55" font-size="10.3" text-anchor="end">1.0</text>
<text x="36.6" y="47.95" font-size="10.3" text-anchor="end">1.5</text>
<text x="36.6" y="16.35" font-size="10.3" text-anchor="end">2.0</text>
<text x="57.5" y="148.8" font-size="10.3" text-anchor="middle">0</text>
<text x="139.7" y="148.8" font-size="10.3" text-anchor="middle">250</text>
<text x="221.9" y="148.8" font-size="10.3" text-anchor="middle">500</text>
<text x="304.1" y="148.8" font-size="10.3" text-anchor="middle">750</text>
<text x="386.3" y="148.8" font-size="10.3" text-anchor="middle">1000</text>
<text x="215.5" y="163.9" font-size="13.4" text-anchor="middle">Number of minutes</text>
<text transform="translate(9.7,68) rotate(-90)" font-size="13.4" text-anchor="middle">Species richness</text>
</g>
<g transform="translate(400.52,1245.3)">
<g stroke="#EBEBEB"><line x1="41.9" x2="388.9" y1="129" y2="129"  stroke-width="1.3"/><line x1="41.9" x2="388.9" y1="113.91" y2="113.91"  stroke="#F2F2F2" stroke-width="1.5"/><line x1="41.9" x2="388.9" y1="98.82" y2="98.82"  stroke-width="1.3"/><line x1="41.9" x2="388.9" y1="83.73" y2="83.73"  stroke="#F2F2F2" stroke-width="1.5"/><line x1="41.9" x2="388.9" y1="68.64" y2="68.64"  stroke-width="1.3"/><line x1="41.9" x2="388.9" y1="53.55" y2="53.55"  stroke="#F2F2F2" stroke-width="1.5"/><line x1="41.9" x2="388.9" y1="38.46" y2="38.46"  stroke-width="1.3"/><line x1="41.9" x2="388.9" y1="23.37" y2="23.37"  stroke="#F2F2F2" stroke-width="1.5"/><line x1="41.9" x2="388.9" y1="8.28" y2="8.28"  stroke-width="1.3"/><line x1="57.5" x2="57.5" y1="1" y2="135"  stroke-width="1.3"/><line x1="98.6" x2="98.6" y1="1" y2="135"  stroke="#F2F2F2" stroke-width="1.5"/><line x1="139.7" x2="139.7" y1="1" y2="135"  stroke-width="1.3"/><line x1="180.8" x2="180.8" y1="1" y2="135"  stroke="#F2F2F2" stroke-width="1.5"/><line x1="221.9" x2="221.9" y1="1" y2="135"  stroke-width="1.3"/><line x1="263" x2="263" y1="1" y2="135"  stroke="#F2F2F2" stroke-width="1.5"/><line x1="304.1" x2="304.1" y1="1" y2="135"  stroke-width="1.3"/><line x1="345.2" x2="345.2" y1="1" y2="135"  stroke="#F2F2F2" stroke-width="1.5"/><line x1="386.3" x2="386.3" y1="1" y2="135"  stroke-width="1.3"/></g>
<path d="M58.18,126.1 L58.2,124.72 L58.22,123.42 L58.25,122.18 L58.27,121 L58.29,119.87 L58.32,118.79 L58.34,117.76 L58.36,116.77 L58.38,115.82 L58.41,114.91 L58.43,114.03 L58.45,113.17 L58.48,112.35 L58.5,111.55 L58.52,110.78 L58.55,110.02 L58.57,109.29 L58.59,108.58 L58.61,107.88 L58.64,107.2 L58.66,106.54 L58.68,105.89 L58.71,105.26 L58.73,104.64 L58.75,104.02 L58.77,103.43 L58.8,102.84 L58.82,102.26 L58.87,101.13 L58.91,100.03 L58.96,98.97 L59,97.93 L59.05,96.92 L59.1,95.93 L59.14,94.96 L59.19,94.02 L59.23,93.1 L59.28,92.19 L59.32,91.3 L59.37,90.43 L59.42,89.57 L59.46,88.73 L59.51,87.9 L59.55,87.09 L59.6,86.29 L59.64,85.5 L59.69,84.73 L59.74,83.97 L59.78,83.22 L59.83,82.49 L59.87,81.76 L59.92,81.05 L59.97,80.34 L60.01,79.65 L60.06,78.97 L60.1,78.3 L60.15,77.64 L60.19,76.98 L60.24,76.34 L60.29,75.71 L60.33,75.08 L60.38,74.47 L60.42,73.86 L60.47,73.26 L60.52,72.67 L60.56,72.09 L60.61,71.52 L60.65,70.95 L60.7,70.39 L60.77,69.57 L60.84,68.76 L60.9,67.97 L60.97,67.19 L61.04,66.43 L61.11,65.68 L61.18,64.95 L61.25,64.23 L61.32,63.52 L61.39,62.83 L61.45,62.15 L61.52,61.48 L61.59,60.82 L61.66,60.18 L61.73,59.54 L61.8,58.92 L61.87,58.31 L61.94,57.7 L62,57.11 L62.07,56.53 L62.14,55.95 L62.21,55.39 L62.28,54.84 L62.35,54.29 L62.42,53.75 L62.51,53.05 L62.6,52.36 L62.69,51.69 L62.78,51.03 L62.88,50.38 L62.97,49.74 L63.06,49.12 L63.15,48.51 L63.24,47.91 L63.33,47.32 L63.42,46.74 L63.52,46.18 L63.61,45.62 L63.7,45.08 L63.79,44.54 L63.88,44.02 L63.97,43.5 L64.09,42.87 L64.2,42.25 L64.32,41.64 L64.43,41.05 L64.55,40.47 L64.66,39.9 L64.78,39.34 L64.89,38.8 L65.01,38.26 L65.12,37.74 L65.23,37.23 L65.35,36.72 L65.46,36.23 L65.6,35.65 L65.74,35.09 L65.88,34.54 L66.01,34 L66.15,33.47 L66.29,32.96 L66.43,32.45 L66.56,31.96 L66.7,31.48 L66.84,31.01 L67,30.48 L67.16,29.95 L67.32,29.45 L67.57,28.69 L67.81,27.96 L68.06,27.25 L68.31,26.58 L68.56,25.93 L68.81,25.3 L69.05,24.7 L69.3,24.12 L69.55,23.56 L69.8,23.02 L70.04,22.5 L70.29,22 L70.54,21.52 L70.79,21.05 L71.03,20.6 L71.28,20.17 L71.53,19.76 L71.78,19.36 L72.03,18.97 L72.27,18.59 L72.52,18.23 L73.02,17.55 L73.51,16.92 L74.01,16.32 L74.5,15.77 L75,15.26 L75.49,14.78 L75.99,14.34 L76.48,13.92 L76.98,13.53 L77.47,13.17 L77.97,12.83 L78.46,12.52 L78.96,12.23 L79.46,11.95 L79.95,11.7 L80.45,11.46 L80.94,11.24 L81.44,11.03 L81.93,10.84 L82.43,10.66 L82.92,10.49 L83.42,10.34 L83.91,10.19 L84.41,10.06 L84.9,9.93 L85.4,9.81 L85.89,9.7 L86.64,9.55 L87.38,9.42 L88.12,9.3 L88.87,9.19 L89.61,9.09 L90.35,9 L91.1,8.92 L91.84,8.85 L92.58,8.79 L93.32,8.73 L94.07,8.68 L94.81,8.64 L95.55,8.6 L96.3,8.56 L97.04,8.53 L97.78,8.5 L98.53,8.48 L99.27,8.45 L100.01,8.43 L100.75,8.42 L101.5,8.4 L102.24,8.39 L102.98,8.37 L103.73,8.36 L104.47,8.35 L105.21,8.34 L105.96,8.34 L106.7,8.33 L107.44,8.32 L108.19,8.32 L108.93,8.31 L109.67,8.31 L110.41,8.3 L111.16,8.3 L111.9,8.3 L112.64,8.3 L113.39,8.29 L114.13,8.29 L114.87,8.29 L115.62,8.29 L116.36,8.29 L117.1,8.29 L117.84,8.29 L118.59,8.29 L119.33,8.28 L120.07,8.28 L120.82,8.28 L121.56,8.28 L122.3,8.28 L123.05,8.28 L123.79,8.28 L124.53,8.28 L125.27,8.28 L126.02,8.28 L126.76,8.28 L127.5,8.28 L128.25,8.28 L128.99,8.28 L129.73,8.28 L130.48,8.28 L131.22,8.28 L131.96,8.28 L132.7,8.28 L133.45,8.28 L134.19,8.28 L134.93,8.28 L135.68,8.28 L136.42,8.28 L137.16,8.28 L137.91,8.28 L138.65,8.28 L139.39,8.28 L140.13,8.28 L140.88,8.28 L141.62,8.28 L142.36,8.28 L143.11,8.28 L143.85,8.28 L144.59,8.28 L145.34,8.28 L146.08,8.28 L146.82,8.28 L147.56,8.28 L148.31,8.28 L149.05,8.28 L149.79,8.28 L150.54,8.28 L151.28,8.28 L152.02,8.28 L152.77,8.28 L153.51,8.28 L154.25,8.28 L154.99,8.28 L155.74,8.28 L156.48,8.28 L157.22,8.28 L157.97,8.28 L158.71,8.28 L159.45,8.28 L160.2,8.28 L160.94,8.28 L161.68,8.28 L162.42,8.28 L163.17,8.28 L163.91,8.28 L164.65,8.28 L165.4,8.28 L166.14,8.28 L166.88,8.28 L167.63,8.28 L168.37,8.28 L169.11,8.28 L169.85,8.28 L170.6,8.28 L171.34,8.28 L172.08,8.28 L172.83,8.28 L173.57,8.28 L174.31,8.28 L175.06,8.28 L175.8,8.28 L176.54,8.28 L177.29,8.28 L178.03,8.28 L178.77,8.28 L179.51,8.28 L180.26,8.28 L181,8.28 L181.74,8.28 L182.49,8.28 L183.23,8.28 L183.97,8.28 L184.72,8.28 L185.46,8.28 L186.2,8.28 L186.94,8.28 L187.69,8.28 L188.43,8.28 L189.17,8.28 L189.92,8.28 L190.66,8.28 L191.4,8.28 L192.15,8.28 L192.89,8.28 L193.63,8.28 L194.37,8.28 L195.12,8.28 L195.86,8.28 L196.6,8.28 L197.35,8.28 L198.09,8.28 L198.83,8.28 L199.58,8.28 L200.32,8.28 L201.06,8.28 L201.8,8.28 L202.55,8.28 L203.29,8.28 L204.03,8.28 L204.78,8.28 L205.52,8.28 L206.26,8.28 L207.01,8.28 L207.75,8.28 L208.49,8.28 L209.23,8.28 L209.98,8.28 L210.72,8.28 L211.46,8.28 L212.21,8.28 L212.95,8.28 L213.69,8.28 L214.44,8.28 L215.18,8.28 L215.67,8.28" fill="none" stroke="#F8766D" stroke-width="3.4" stroke-linejoin="round"/>
<line x1="215.67" y1="8.28" x2="373.15" y2="8.28" stroke="#F8766D" stroke-width="3.4" stroke-dasharray="6.9 6.95" stroke-dashoffset="-0.5"/>
<circle cx="215.67" cy="8.28" r="5.75" fill="#F8766D"/>
<text x="320.5" y="88.3" font-size="12.35" text-anchor="middle">plot_arb_77.7 %</text>
<text x="36.6" y="133.15" font-size="10.3" text-anchor="end">1</text>
<text x="36.6" y="102.97" font-size="10.3" text-anchor="end">2</text>
<text x="36.6" y="72.79" font-size="10.3" text-anchor="end">3</text>
<text x="36.6" y="42.61" font-size="10.3" text-anchor="end">4</text>
<text x="36.6" y="12.43" font-size="10.3" text-anchor="end">5</text>
<text x="57.5" y="148.8" font-size="10.3" text-anchor="middle">0</text>
<text x="139.7" y="148.8" font-size="10.3" text-anchor="middle">250</text>
<text x="221.9" y="148.8" font-size="10.3" text-anchor="middle">500</text>
<text x="304.1" y="148.8" font-size="10.3" text-anchor="middle">750</text>
<text x="386.3" y="148.8" font-size="10.3" text-anchor="middle">1000</text>
<text x="215.5" y="163.9" font-size="13.4" text-anchor="middle">Number of minutes</text>
<text transform="translate(9.7,68) rotate(-90)" font-size="13.4" text-anchor="middle">Species richness</text>
</g>
<g transform="translate(801.04,1245.3)">
<g stroke="#EBEBEB"><line x1="41.9" x2="388.9" y1="122.8" y2="122.8"  stroke="#F2F2F2" stroke-width="1.5"/><line x1="41.9" x2="388.9" y1="107" y2="107"  stroke-width="1.3"/><line x1="41.9" x2="388.9" y1="91.2" y2="91.2"  stroke="#F2F2F2" stroke-width="1.5"/><line x1="41.9" x2="388.9" y1="75.4" y2="75.4"  stroke-width="1.3"/><line x1="41.9" x2="388.9" y1="59.6" y2="59.6"  stroke="#F2F2F2" stroke-width="1.5"/><line x1="41.9" x2="388.9" y1="43.8" y2="43.8"  stroke-width="1.3"/><line x1="41.9" x2="388.9" y1="28" y2="28"  stroke="#F2F2F2" stroke-width="1.5"/><line x1="41.9" x2="388.9" y1="12.2" y2="12.2"  stroke-width="1.3"/><line x1="57.5" x2="57.5" y1="1" y2="135"  stroke-width="1.3"/><line x1="98.6" x2="98.6" y1="1" y2="135"  stroke="#F2F2F2" stroke-width="1.5"/><line x1="139.7" x2="139.7" y1="1" y2="135"  stroke-width="1.3"/><line x1="180.8" x2="180.8" y1="1" y2="135"  stroke="#F2F2F2" stroke-width="1.5"/><line x1="221.9" x2="221.9" y1="1" y2="135"  stroke-width="1.3"/><line x1="263" x2="263" y1="1" y2="135"  stroke="#F2F2F2" stroke-width="1.5"/><line x1="304.1" x2="304.1" y1="1" y2="135"  stroke-width="1.3"/><line x1="345.2" x2="345.2" y1="1" y2="135"  stroke="#F2F2F2" stroke-width="1.5"/><line x1="386.3" x2="386.3" y1="1" y2="135"  stroke-width="1.3"/></g>
<path d="M63.31,51.7 C63.74,49.5 64.09,47.28 64.61,45.1 C65.38,41.85 66.46,38.67 67.51,35.5 C68.53,32.44 69.59,29.39 70.81,26.4 C71.97,23.56 72.95,20.54 74.61,18 C76.09,15.73 77.85,13.38 80.01,11.8 C81.95,10.38 84.39,9.47 86.71,8.7 C88.71,8.04 90.82,7.59 92.91,7.3 C95.25,6.98 97.65,6.91 100.01,7 C102.96,7.11 105.89,7.7 108.81,8.2 C111.76,8.7 114.66,9.48 117.61,10 C120.53,10.51 123.47,10.98 126.41,11.3 C129.93,11.69 133.47,11.85 137.01,12 C141.34,12.19 145.68,12.13 150.01,12.2 L165.01,12.2 C160.01,12.33 155,12.27 150.01,12.6 C145.67,12.89 141.32,13.3 137.01,13.9 C133.46,14.39 129.91,14.95 126.41,15.7 C123.45,16.33 120.5,17.03 117.61,17.9 C114.63,18.79 111.79,20.12 108.81,21 C105.37,22.02 101.55,22.05 98.31,23.45 C94.64,25.04 91.41,27.87 88.31,30.5 C85.32,33.04 82.56,35.92 80.01,38.9 C77.76,41.52 75.69,44.33 73.76,47.2 C71.96,49.88 70.25,52.64 68.76,55.5 C67.69,57.55 66.59,62.38 65.81,61.8 C65.33,61.44 64.97,59.08 64.61,57.7 C64.09,55.72 63.74,53.7 63.31,51.7 Z" fill="#F8766D" fill-opacity="0.2"/>
<path d="M58.18,125.93 L58.2,125.13 L58.22,124.34 L58.25,123.56 L58.27,122.78 L58.29,122.02 L58.32,121.27 L58.34,120.52 L58.36,119.78 L58.38,119.06 L58.41,118.34 L58.43,117.63 L58.45,116.93 L58.48,116.24 L58.5,115.55 L58.52,114.88 L58.55,114.21 L58.57,113.55 L58.59,112.9 L58.61,112.25 L58.64,111.62 L58.66,110.99 L58.68,110.36 L58.71,109.75 L58.73,109.14 L58.75,108.54 L58.77,107.95 L58.8,107.37 L58.82,106.79 L58.87,105.65 L58.91,104.54 L58.96,103.46 L59,102.4 L59.05,101.36 L59.1,100.35 L59.14,99.36 L59.19,98.4 L59.23,97.46 L59.28,96.53 L59.32,95.63 L59.37,94.75 L59.42,93.89 L59.46,93.05 L59.51,92.23 L59.55,91.42 L59.6,90.64 L59.64,89.87 L59.69,89.12 L59.74,88.38 L59.78,87.66 L59.83,86.96 L59.87,86.27 L59.92,85.59 L59.97,84.93 L60.01,84.29 L60.06,83.66 L60.1,83.04 L60.15,82.43 L60.19,81.84 L60.24,81.26 L60.29,80.69 L60.33,80.13 L60.4,79.31 L60.47,78.52 L60.54,77.76 L60.61,77.01 L60.68,76.29 L60.74,75.59 L60.81,74.9 L60.88,74.24 L60.95,73.6 L61.02,72.97 L61.09,72.36 L61.16,71.77 L61.23,71.19 L61.29,70.63 L61.36,70.09 L61.43,69.55 L61.52,68.86 L61.62,68.2 L61.71,67.55 L61.8,66.93 L61.89,66.32 L61.98,65.74 L62.07,65.17 L62.16,64.62 L62.26,64.08 L62.35,63.57 L62.46,62.94 L62.58,62.33 L62.69,61.74 L62.81,61.17 L62.92,60.62 L63.04,60.08 L63.15,59.56 L63.26,59.06 L63.38,58.56 L63.52,57.99 L63.65,57.44 L63.79,56.9 L63.93,56.37 L64.07,55.87 L64.2,55.37 L64.34,54.89 L64.48,54.41 L64.64,53.88 L64.8,53.35 L64.96,52.84 L65.12,52.35 L65.28,51.86 L65.44,51.38 L65.6,50.92 L65.76,50.46 L65.92,50.01 L66.08,49.57 L66.27,49.08 L66.45,48.6 L66.63,48.12 L66.82,47.66 L67,47.2 L67.18,46.75 L67.57,45.83 L67.81,45.25 L68.06,44.68 L68.31,44.13 L68.56,43.58 L68.81,43.05 L69.05,42.52 L69.3,42.01 L69.55,41.5 L69.8,41 L70.04,40.51 L70.29,40.03 L70.54,39.55 L70.79,39.09 L71.03,38.63 L71.28,38.18 L71.53,37.73 L71.78,37.3 L72.03,36.87 L72.27,36.44 L72.52,36.03 L72.77,35.62 L73.02,35.21 L73.26,34.82 L73.51,34.43 L73.76,34.04 L74.01,33.66 L74.25,33.29 L74.5,32.92 L74.75,32.56 L75,32.21 L75.49,31.51 L75.99,30.84 L76.48,30.19 L76.98,29.56 L77.47,28.95 L77.97,28.36 L78.46,27.78 L78.96,27.23 L79.46,26.69 L79.95,26.17 L80.45,25.67 L80.94,25.18 L81.44,24.71 L81.93,24.26 L82.43,23.82 L82.92,23.39 L83.42,22.98 L83.91,22.59 L84.41,22.2 L84.9,21.83 L85.4,21.47 L85.89,21.12 L86.39,20.79 L86.89,20.46 L87.38,20.15 L87.88,19.85 L88.37,19.56 L88.87,19.28 L89.36,19 L89.86,18.74 L90.35,18.49 L90.85,18.24 L91.34,18.01 L91.84,17.78 L92.33,17.56 L92.83,17.35 L93.32,17.14 L93.82,16.95 L94.32,16.76 L94.81,16.57 L95.31,16.4 L95.8,16.23 L96.3,16.06 L96.79,15.91 L97.29,15.75 L97.78,15.61 L98.28,15.47 L98.77,15.33 L99.27,15.2 L99.76,15.07 L100.26,14.95 L100.75,14.84 L101.25,14.73 L101.75,14.62 L102.49,14.46 L103.23,14.32 L103.97,14.18 L104.72,14.05 L105.46,13.93 L106.2,13.82 L106.95,13.71 L107.69,13.61 L108.43,13.52 L109.18,13.43 L109.92,13.35 L110.66,13.27 L111.4,13.19 L112.15,13.12 L112.89,13.06 L113.63,13 L114.38,12.94 L115.12,12.89 L115.86,12.84 L116.61,12.79 L117.35,12.75 L118.09,12.71 L118.83,12.67 L119.58,12.64 L120.32,12.6 L121.06,12.57 L121.81,12.55 L122.55,12.52 L123.29,12.49 L124.04,12.47 L124.78,12.45 L125.52,12.43 L126.26,12.41 L127.01,12.39 L127.75,12.38 L128.49,12.36 L129.24,12.35 L129.98,12.34 L130.72,12.33 L131.47,12.32 L132.21,12.31 L132.95,12.3 L133.7,12.29 L134.44,12.28 L135.18,12.27 L135.92,12.27 L136.67,12.26 L137.41,12.26 L138.15,12.25 L138.9,12.25 L139.64,12.24 L140.38,12.24 L141.13,12.23 L141.87,12.23 L142.61,12.23 L143.35,12.22 L144.1,12.22 L144.84,12.22 L145.58,12.22 L146.33,12.22 L147.07,12.21 L147.81,12.21 L148.56,12.21 L149.3,12.21 L150.04,12.21 L150.78,12.21 L151.53,12.21 L152.27,12.21 L153.01,12.21 L153.76,12.21 L154.5,12.2 L155.24,12.2 L155.99,12.2 L156.73,12.2 L157.47,12.2 L158.21,12.2 L158.96,12.2 L159.7,12.2 L160.44,12.2 L161.19,12.2 L161.93,12.2 L162.67,12.2 L163.42,12.2 L164.16,12.2 L164.9,12.2 L165.64,12.2 L166.39,12.2 L167.13,12.2 L167.87,12.2 L168.62,12.2 L169.36,12.2 L170.1,12.2 L170.85,12.2 L171.59,12.2 L172.33,12.2 L173.07,12.2 L173.82,12.2 L174.56,12.2 L175.3,12.2 L176.05,12.2 L176.79,12.2 L177.53,12.2 L178.28,12.2 L179.02,12.2 L179.76,12.2 L180.5,12.2 L181.25,12.2 L181.99,12.2 L182.73,12.2 L183.48,12.2 L184.22,12.2 L184.96,12.2 L185.71,12.2 L186.45,12.2 L187.19,12.2 L187.93,12.2 L188.68,12.2 L189.42,12.2 L190.16,12.2 L190.91,12.2 L191.65,12.2 L192.39,12.2 L193.14,12.2 L193.88,12.2 L194.62,12.2 L195.37,12.2 L196.11,12.2 L196.85,12.2 L197.59,12.2 L198.34,12.2 L199.08,12.2 L199.82,12.2 L200.57,12.2 L201.31,12.2 L202.05,12.2 L202.8,12.2 L203.54,12.2 L204.28,12.2 L205.02,12.2 L205.77,12.2 L206.51,12.2 L207.25,12.2 L208,12.2 L208.74,12.2 L209.48,12.2 L210.23,12.2 L210.97,12.2 L211.71,12.2 L212.45,12.2 L213.2,12.2 L213.94,12.2 L214.68,12.2 L215.43,12.2 L215.67,12.2" fill="none" stroke="#F8766D" stroke-width="3.4" stroke-linejoin="round"/>
<line x1="215.67" y1="12.2" x2="373.15" y2="12.2" stroke="#F8766D" stroke-width="3.4" stroke-dasharray="6.9 6.95" stroke-dashoffset="-0.5"/>
<circle cx="215.67" cy="12.2" r="5.75" fill="#F8766D"/>
<text x="320.5" y="88.3" font-size="12.35" text-anchor="middle">plot_terr_77.7 %</text>
<text x="36.6" y="111.15" font-size="10.3" text-anchor="end">0.5</text>
<text x="36.6" y="79.55" font-size="10.3" text-anchor="end">1.0</text>
<text x="36.6" y="47.95" font-size="10.3" text-anchor="end">1.5</text>
<text x="36.6" y="16.35" font-size="10.3" text-anchor="end">2.0</text>
<text x="57.5" y="148.8" font-size="10.3" text-anchor="middle">0</text>
<text x="139.7" y="148.8" font-size="10.3" text-anchor="middle">250</text>
<text x="221.9" y="148.8" font-size="10.3" text-anchor="middle">500</text>
<text x="304.1" y="148.8" font-size="10.3" text-anchor="middle">750</text>
<text x="386.3" y="148.8" font-size="10.3" text-anchor="middle">1000</text>
<text x="215.5" y="163.9" font-size="13.4" text-anchor="middle">Number of minutes</text>
<text transform="translate(9.7,68) rotate(-90)" font-size="13.4" text-anchor="middle">Species richness</text>
</g>
<g transform="translate(0,1423.2)">
<g stroke="#EBEBEB"><line x1="41.9" x2="388.9" y1="115.1" y2="115.1"  stroke="#F2F2F2" stroke-width="1.5"/><line x1="41.9" x2="388.9" y1="93.52" y2="93.52"  stroke-width="1.3"/><line x1="41.9" x2="388.9" y1="71.94" y2="71.94"  stroke="#F2F2F2" stroke-width="1.5"/><line x1="41.9" x2="388.9" y1="50.36" y2="50.36"  stroke-width="1.3"/><line x1="41.9" x2="388.9" y1="28.78" y2="28.78"  stroke="#F2F2F2" stroke-width="1.5"/><line x1="41.9" x2="388.9" y1="7.2" y2="7.2"  stroke-width="1.3"/><line x1="57.5" x2="57.5" y1="1" y2="135"  stroke-width="1.3"/><line x1="98.6" x2="98.6" y1="1" y2="135"  stroke="#F2F2F2" stroke-width="1.5"/><line x1="139.7" x2="139.7" y1="1" y2="135"  stroke-width="1.3"/><line x1="180.8" x2="180.8" y1="1" y2="135"  stroke="#F2F2F2" stroke-width="1.5"/><line x1="221.9" x2="221.9" y1="1" y2="135"  stroke-width="1.3"/><line x1="263" x2="263" y1="1" y2="135"  stroke="#F2F2F2" stroke-width="1.5"/><line x1="304.1" x2="304.1" y1="1" y2="135"  stroke-width="1.3"/><line x1="345.2" x2="345.2" y1="1" y2="135"  stroke="#F2F2F2" stroke-width="1.5"/><line x1="386.3" x2="386.3" y1="1" y2="135"  stroke-width="1.3"/></g>
<path d="M57.88,128.6 L57.92,122.16 L57.95,117.36 L57.99,113.65 L58.02,110.7 L58.06,108.25 L58.1,106.16 L58.13,104.32 L58.17,102.65 L58.2,101.1 L58.24,99.64 L58.27,98.24 L58.31,96.9 L58.34,95.6 L58.38,94.33 L58.42,93.1 L58.45,91.89 L58.49,90.7 L58.52,89.54 L58.56,88.39 L58.59,87.27 L58.63,86.16 L58.66,85.08 L58.7,84.01 L58.74,82.96 L58.77,81.93 L58.81,80.91 L58.84,79.91 L58.88,78.92 L58.91,77.95 L58.95,77 L58.98,76.06 L59.02,75.14 L59.05,74.23 L59.09,73.33 L59.13,72.45 L59.16,71.58 L59.2,70.73 L59.23,69.89 L59.27,69.06 L59.3,68.24 L59.34,67.44 L59.37,66.65 L59.41,65.87 L59.45,65.11 L59.48,64.35 L59.52,63.61 L59.55,62.88 L59.59,62.16 L59.62,61.45 L59.66,60.75 L59.69,60.06 L59.73,59.38 L59.77,58.71 L59.8,58.05 L59.84,57.4 L59.87,56.76 L59.91,56.14 L59.94,55.51 L59.98,54.9 L60.01,54.3 L60.05,53.71 L60.08,53.12 L60.12,52.55 L60.16,51.98 L60.23,50.87 L60.3,49.79 L60.37,48.74 L60.44,47.72 L60.51,46.73 L60.58,45.77 L60.65,44.83 L60.72,43.93 L60.8,43.04 L60.87,42.18 L60.94,41.35 L61.01,40.53 L61.08,39.74 L61.15,38.97 L61.22,38.22 L61.29,37.49 L61.36,36.79 L61.43,36.09 L61.51,35.42 L61.58,34.77 L61.65,34.13 L61.72,33.51 L61.79,32.91 L61.86,32.32 L61.93,31.75 L62,31.19 L62.07,30.64 L62.14,30.11 L62.25,29.34 L62.36,28.6 L62.46,27.89 L62.57,27.2 L62.68,26.54 L62.78,25.9 L62.89,25.29 L63,24.7 L63.1,24.13 L63.21,23.58 L63.32,23.05 L63.42,22.54 L63.57,21.89 L63.71,21.27 L63.85,20.68 L63.99,20.11 L64.13,19.57 L64.28,19.06 L64.42,18.57 L64.56,18.1 L64.74,17.54 L64.92,17.02 L65.09,16.52 L65.27,16.05 L65.45,15.61 L65.66,15.11 L65.87,14.64 L66.09,14.2 L66.3,13.79 L66.55,13.35 L66.8,12.93 L67.05,12.55 L67.29,12.19 L67.58,11.82 L67.86,11.47 L68.15,11.15 L68.47,10.83 L68.79,10.53 L69.14,10.22 L69.5,9.95 L69.85,9.7 L70.24,9.46 L70.63,9.24 L71.06,9.03 L71.49,8.84 L71.95,8.65 L72.43,8.48 L73.17,8.26 L73.91,8.08 L74.65,7.93 L75.4,7.81 L76.14,7.71 L76.88,7.62 L77.63,7.55 L78.37,7.49 L79.11,7.44 L79.86,7.4 L80.6,7.37 L81.34,7.34 L82.08,7.32 L82.83,7.3 L83.57,7.28 L84.31,7.27 L85.06,7.26 L85.8,7.25 L86.54,7.24 L87.29,7.23 L88.03,7.23 L88.77,7.22 L89.51,7.22 L90.26,7.22 L91,7.21 L91.74,7.21 L92.49,7.21 L93.23,7.21 L93.97,7.21 L94.72,7.21 L95.46,7.2 L96.2,7.2 L96.95,7.2 L97.69,7.2 L98.43,7.2 L99.17,7.2 L99.92,7.2 L100.66,7.2 L101.4,7.2 L102.15,7.2 L102.89,7.2 L103.63,7.2 L104.38,7.2 L105.12,7.2 L105.86,7.2 L106.6,7.2 L107.35,7.2 L108.09,7.2 L108.83,7.2 L109.58,7.2 L110.32,7.2 L111.06,7.2 L111.81,7.2 L112.55,7.2 L113.29,7.2 L114.03,7.2 L114.78,7.2 L115.52,7.2 L116.26,7.2 L117.01,7.2 L117.75,7.2 L118.49,7.2 L119.24,7.2 L119.98,7.2 L120.72,7.2 L121.46,7.2 L122.21,7.2 L122.95,7.2 L123.69,7.2 L124.44,7.2 L125.18,7.2 L125.92,7.2 L126.67,7.2 L127.41,7.2 L128.15,7.2 L128.89,7.2 L129.64,7.2 L130.38,7.2 L131.12,7.2 L131.87,7.2 L132.61,7.2 L133.35,7.2 L134.1,7.2 L134.84,7.2 L135.58,7.2 L136.32,7.2 L137.07,7.2 L137.81,7.2 L138.55,7.2 L139.3,7.2 L140.04,7.2 L140.78,7.2 L141.53,7.2 L142.27,7.2 L143.01,7.2 L143.75,7.2 L144.5,7.2 L145.24,7.2 L145.98,7.2 L146.73,7.2 L147.47,7.2 L148.21,7.2 L148.96,7.2 L149.7,7.2 L150.44,7.2 L151.18,7.2 L151.93,7.2 L152.67,7.2 L153.41,7.2 L154.16,7.2 L154.9,7.2 L155.64,7.2 L156.39,7.2 L157.13,7.2 L157.87,7.2 L158.61,7.2 L159.36,7.2 L160.1,7.2 L160.84,7.2 L161.59,7.2 L162.33,7.2 L163.07,7.2 L163.82,7.2 L164.56,7.2 L165.3,7.2 L166.05,7.2 L166.79,7.2 L167.53,7.2 L168.27,7.2 L169.02,7.2 L169.76,7.2 L170.5,7.2 L171.25,7.2 L171.99,7.2 L172.73,7.2 L173.48,7.2 L174.22,7.2 L174.96,7.2 L175.7,7.2 L176.45,7.2 L177.19,7.2 L177.93,7.2 L178.68,7.2 L179.42,7.2 L180.16,7.2 L180.91,7.2 L181.65,7.2 L182.39,7.2 L183.13,7.2 L183.88,7.2 L184.62,7.2 L185.36,7.2 L186.11,7.2 L186.85,7.2 L187.59,7.2 L188.34,7.2 L189.08,7.2 L189.82,7.2 L190.56,7.2 L191.31,7.2 L192.05,7.2 L192.79,7.2 L193.54,7.2 L194.28,7.2 L195.02,7.2 L195.77,7.2 L196.51,7.2 L197.25,7.2 L197.99,7.2 L198.74,7.2 L199.48,7.2 L200.22,7.2 L200.97,7.2 L201.71,7.2 L202.45,7.2 L203.2,7.2 L203.94,7.2 L204.68,7.2 L205.42,7.2 L206.17,7.2 L206.91,7.2 L207.65,7.2 L208.4,7.2 L209.14,7.2 L209.88,7.2 L210.63,7.2 L211.37,7.2 L212.11,7.2 L212.85,7.2 L213.6,7.2 L214.34,7.2 L215.08,7.2 L215.83,7.2 L216.57,7.2 L217.31,7.2 L218.06,7.2 L218.8,7.2 L219.54,7.2 L220.28,7.2 L221.03,7.2 L221.77,7.2 L222.51,7.2 L223.26,7.2 L224,7.2 L224.74,7.2 L225.49,7.2 L226.23,7.2 L226.97,7.2 L227.71,7.2 L228.46,7.2 L229.2,7.2 L229.94,7.2 L230.69,7.2 L231.43,7.2 L232.17,7.2 L232.92,7.2 L233.66,7.2 L234.4,7.2 L235.15,7.2 L235.89,7.2 L236.63,7.2 L237.37,7.2 L238.12,7.2 L238.86,7.2 L239.6,7.2 L240.35,7.2 L241.09,7.2 L241.83,7.2 L242.58,7.2 L243.32,7.2 L244.06,7.2 L244.8,7.2 L245.55,7.2 L246.29,7.2 L247.03,7.2 L247.78,7.2 L248.52,7.2 L249.26,7.2 L250.01,7.2 L250.75,7.2 L251.49,7.2 L252.23,7.2 L252.98,7.2 L253.72,7.2 L254.46,7.2 L255.21,7.2 L255.95,7.2 L256.69,7.2 L257.44,7.2 L258.18,7.2 L258.92,7.2 L259.66,7.2 L260.41,7.2 L261.15,7.2 L261.89,7.2 L262.64,7.2 L263.38,7.2 L264.12,7.2 L264.87,7.2 L265.61,7.2 L266.35,7.2 L267.09,7.2 L267.84,7.2 L268.58,7.2 L269.32,7.2 L270.07,7.2 L270.81,7.2 L271.55,7.2 L272.3,7.2 L273.04,7.2 L273.78,7.2 L274.52,7.2 L275.27,7.2 L276.01,7.2 L276.75,7.2 L277.5,7.2 L278.24,7.2 L278.98,7.2 L279.73,7.2 L280.47,7.2 L281.21,7.2 L281.95,7.2 L282.7,7.2 L283.44,7.2 L284.18,7.2 L284.93,7.2 L285.67,7.2 L286.41,7.2 L287.16,7.2 L287.9,7.2 L288.64,7.2 L289.38,7.2 L290.13,7.2 L290.87,7.2 L291.61,7.2 L292.36,7.2 L293.1,7.2 L293.84,7.2 L294.59,7.2" fill="none" stroke="#F8766D" stroke-width="3.4" stroke-linejoin="round"/>
<line x1="294.59" y1="7.2" x2="373.15" y2="7.2" stroke="#F8766D" stroke-width="3.4" stroke-dasharray="6.9 6.95" stroke-dashoffset="-0.5"/>
<circle cx="294.59" cy="7.2" r="5.75" fill="#F8766D"/>
<text x="304" y="88.3" font-size="12.35" text-anchor="middle">Arboreal_regional</text>
<text x="36.6" y="97.67" font-size="10.3" text-anchor="end">2</text>
<text x="36.6" y="54.51" font-size="10.3" text-anchor="end">4</text>
<text x="36.6" y="11.35" font-size="10.3" text-anchor="end">6</text>
<text x="57.5" y="148.8" font-size="10.3" text-anchor="middle">0</text>
<text x="139.7" y="148.8" font-size="10.3" text-anchor="middle">2500</text>
<text x="221.9" y="148.8" font-size="10.3" text-anchor="middle">5000</text>
<text x="304.1" y="148.8" font-size="10.3" text-anchor="middle">7500</text>
<text x="386.3" y="148.8" font-size="10.3" text-anchor="middle">10000</text>
<text x="215.5" y="163.9" font-size="13.4" text-anchor="middle">Number of minutes</text>
<text transform="translate(9.7,68) rotate(-90)" font-size="13.4" text-anchor="middle">Species richness</text>
</g>
<g transform="translate(400.52,1423.2)">
<g stroke="#EBEBEB"><line x1="41.9" x2="388.9" y1="133.1" y2="133.1"  stroke-width="1.3"/><line x1="41.9" x2="388.9" y1="112.23" y2="112.23"  stroke="#F2F2F2" stroke-width="1.5"/><line x1="41.9" x2="388.9" y1="91.36" y2="91.36"  stroke-width="1.3"/><line x1="41.9" x2="388.9" y1="70.49" y2="70.49"  stroke="#F2F2F2" stroke-width="1.5"/><line x1="41.9" x2="388.9" y1="49.62" y2="49.62"  stroke-width="1.3"/><line x1="41.9" x2="388.9" y1="28.75" y2="28.75"  stroke="#F2F2F2" stroke-width="1.5"/><line x1="41.9" x2="388.9" y1="7.88" y2="7.88"  stroke-width="1.3"/><line x1="57.5" x2="57.5" y1="1" y2="135"  stroke-width="1.3"/><line x1="98.6" x2="98.6" y1="1" y2="135"  stroke="#F2F2F2" stroke-width="1.5"/><line x1="139.7" x2="139.7" y1="1" y2="135"  stroke-width="1.3"/><line x1="180.8" x2="180.8" y1="1" y2="135"  stroke="#F2F2F2" stroke-width="1.5"/><line x1="221.9" x2="221.9" y1="1" y2="135"  stroke-width="1.3"/><line x1="263" x2="263" y1="1" y2="135"  stroke="#F2F2F2" stroke-width="1.5"/><line x1="304.1" x2="304.1" y1="1" y2="135"  stroke-width="1.3"/><line x1="345.2" x2="345.2" y1="1" y2="135"  stroke="#F2F2F2" stroke-width="1.5"/><line x1="386.3" x2="386.3" y1="1" y2="135"  stroke-width="1.3"/></g>
<path d="M57.88,128.6 L57.92,124.32 L57.95,120.56 L57.99,117.24 L58.02,114.28 L58.06,111.64 L58.1,109.25 L58.13,107.09 L58.17,105.11 L58.2,103.29 L58.24,101.61 L58.27,100.04 L58.31,98.58 L58.34,97.2 L58.38,95.9 L58.42,94.66 L58.45,93.48 L58.49,92.35 L58.52,91.26 L58.56,90.21 L58.59,89.2 L58.63,88.23 L58.66,87.28 L58.7,86.36 L58.74,85.46 L58.77,84.59 L58.81,83.74 L58.84,82.9 L58.88,82.09 L58.91,81.3 L58.95,80.52 L58.98,79.76 L59.02,79.01 L59.05,78.28 L59.09,77.56 L59.13,76.86 L59.16,76.17 L59.2,75.49 L59.23,74.82 L59.27,74.17 L59.3,73.53 L59.34,72.9 L59.37,72.28 L59.41,71.67 L59.45,71.07 L59.48,70.48 L59.52,69.9 L59.55,69.33 L59.62,68.22 L59.69,67.15 L59.77,66.12 L59.84,65.11 L59.91,64.14 L59.98,63.2 L60.05,62.28 L60.12,61.4 L60.19,60.54 L60.26,59.71 L60.33,58.9 L60.4,58.12 L60.48,57.36 L60.55,56.62 L60.62,55.91 L60.69,55.21 L60.76,54.53 L60.83,53.87 L60.9,53.23 L60.97,52.61 L61.04,52 L61.11,51.41 L61.19,50.84 L61.26,50.28 L61.33,49.73 L61.4,49.2 L61.51,48.43 L61.61,47.68 L61.72,46.97 L61.83,46.28 L61.93,45.61 L62.04,44.96 L62.14,44.34 L62.25,43.74 L62.36,43.16 L62.46,42.59 L62.57,42.04 L62.68,41.51 L62.78,41 L62.89,40.5 L63.03,39.86 L63.17,39.24 L63.32,38.65 L63.46,38.08 L63.6,37.52 L63.74,36.99 L63.89,36.47 L64.03,35.97 L64.17,35.49 L64.31,35.02 L64.49,34.46 L64.67,33.91 L64.84,33.39 L65.02,32.88 L65.2,32.39 L65.38,31.92 L65.55,31.46 L65.73,31.02 L65.91,30.59 L66.12,30.09 L66.34,29.61 L66.55,29.14 L66.76,28.69 L66.98,28.25 L67.19,27.83 L67.4,27.42 L67.61,27.02 L67.83,26.63 L68.08,26.19 L68.32,25.76 L68.57,25.35 L68.82,24.95 L69.07,24.56 L69.32,24.18 L69.57,23.81 L69.82,23.45 L70.1,23.05 L70.38,22.67 L70.67,22.29 L70.95,21.93 L71.24,21.57 L71.52,21.23 L71.81,20.89 L72.43,20.19 L72.8,19.79 L73.17,19.4 L73.54,19.03 L73.91,18.66 L74.28,18.31 L74.65,17.97 L75.03,17.65 L75.4,17.33 L75.77,17.02 L76.14,16.72 L76.51,16.44 L76.88,16.16 L77.26,15.89 L77.63,15.63 L78,15.37 L78.37,15.13 L78.74,14.89 L79.11,14.66 L79.86,14.22 L80.6,13.81 L81.34,13.42 L82.08,13.06 L82.83,12.72 L83.57,12.4 L84.31,12.11 L85.06,11.83 L85.8,11.56 L86.54,11.32 L87.29,11.09 L88.03,10.87 L88.77,10.67 L89.51,10.48 L90.26,10.31 L91,10.14 L91.74,9.99 L92.49,9.84 L93.23,9.71 L93.97,9.58 L94.72,9.47 L95.46,9.36 L96.2,9.25 L96.95,9.16 L97.69,9.07 L98.43,8.98 L99.17,8.91 L99.92,8.83 L100.66,8.76 L101.4,8.7 L102.15,8.64 L102.89,8.59 L103.63,8.54 L104.38,8.49 L105.12,8.44 L105.86,8.4 L106.6,8.36 L107.35,8.33 L108.09,8.3 L108.83,8.26 L109.58,8.24 L110.32,8.21 L111.06,8.18 L111.81,8.16 L112.55,8.14 L113.29,8.12 L114.03,8.1 L114.78,8.09 L115.52,8.07 L116.26,8.05 L117.01,8.04 L117.75,8.03 L118.49,8.02 L119.24,8.01 L119.98,8 L120.72,7.99 L121.46,7.98 L122.21,7.97 L122.95,7.96 L123.69,7.96 L124.44,7.95 L125.18,7.94 L125.92,7.94 L126.67,7.93 L127.41,7.93 L128.15,7.93 L128.89,7.92 L129.64,7.92 L130.38,7.92 L131.12,7.91 L131.87,7.91 L132.61,7.91 L133.35,7.9 L134.1,7.9 L134.84,7.9 L135.58,7.9 L136.32,7.9 L137.07,7.9 L137.81,7.89 L138.55,7.89 L139.3,7.89 L140.04,7.89 L140.78,7.89 L141.53,7.89 L142.27,7.89 L143.01,7.89 L143.75,7.89 L144.5,7.89 L145.24,7.89 L145.98,7.89 L146.73,7.88 L147.47,7.88 L148.21,7.88 L148.96,7.88 L149.7,7.88 L150.44,7.88 L151.18,7.88 L151.93,7.88 L152.67,7.88 L153.41,7.88 L154.16,7.88 L154.9,7.88 L155.64,7.88 L156.39,7.88 L157.13,7.88 L157.87,7.88 L158.61,7.88 L159.36,7.88 L160.1,7.88 L160.84,7.88 L161.59,7.88 L162.33,7.88 L163.07,7.88 L163.82,7.88 L164.56,7.88 L165.3,7.88 L166.05,7.88 L166.79,7.88 L167.53,7.88 L168.27,7.88 L169.02,7.88 L169.76,7.88 L170.5,7.88 L171.25,7.88 L171.99,7.88 L172.73,7.88 L173.48,7.88 L174.22,7.88 L174.96,7.88 L175.7,7.88 L176.45,7.88 L177.19,7.88 L177.93,7.88 L178.68,7.88 L179.42,7.88 L180.16,7.88 L180.91,7.88 L181.65,7.88 L182.39,7.88 L183.13,7.88 L183.88,7.88 L184.62,7.88 L185.36,7.88 L186.11,7.88 L186.85,7.88 L187.59,7.88 L188.34,7.88 L189.08,7.88 L189.82,7.88 L190.56,7.88 L191.31,7.88 L192.05,7.88 L192.79,7.88 L193.54,7.88 L194.28,7.88 L195.02,7.88 L195.77,7.88 L196.51,7.88 L197.25,7.88 L197.99,7.88 L198.74,7.88 L199.48,7.88 L200.22,7.88 L200.97,7.88 L201.71,7.88 L202.45,7.88 L203.2,7.88 L203.94,7.88 L204.68,7.88 L205.42,7.88 L206.17,7.88 L206.91,7.88 L207.65,7.88 L208.4,7.88 L209.14,7.88 L209.88,7.88 L210.63,7.88 L211.37,7.88 L212.11,7.88 L212.85,7.88 L213.6,7.88 L214.34,7.88 L215.08,7.88 L215.83,7.88 L216.57,7.88 L217.31,7.88 L218.06,7.88 L218.8,7.88 L219.54,7.88 L220.28,7.88 L221.03,7.88 L221.77,7.88 L222.51,7.88 L223.26,7.88 L224,7.88 L224.74,7.88 L225.49,7.88 L226.23,7.88 L226.97,7.88 L227.71,7.88 L228.46,7.88 L229.2,7.88 L229.94,7.88 L230.69,7.88 L231.43,7.88 L232.17,7.88 L232.92,7.88 L233.66,7.88 L234.4,7.88 L235.15,7.88 L235.89,7.88 L236.63,7.88 L237.37,7.88 L238.12,7.88 L238.86,7.88 L239.6,7.88 L240.35,7.88 L241.09,7.88 L241.83,7.88 L242.58,7.88 L243.32,7.88 L244.06,7.88 L244.8,7.88 L245.55,7.88 L246.29,7.88 L247.03,7.88 L247.78,7.88 L248.52,7.88 L249.26,7.88 L250.01,7.88 L250.75,7.88 L251.49,7.88 L252.23,7.88 L252.98,7.88 L253.72,7.88 L254.46,7.88 L255.21,7.88 L255.95,7.88 L256.69,7.88 L257.44,7.88 L258.18,7.88 L258.92,7.88 L259.66,7.88 L260.41,7.88 L261.15,7.88 L261.89,7.88 L262.64,7.88 L263.38,7.88 L264.12,7.88 L264.87,7.88 L265.61,7.88 L266.35,7.88 L267.09,7.88 L267.84,7.88 L268.58,7.88 L269.32,7.88 L270.07,7.88 L270.81,7.88 L271.55,7.88 L272.3,7.88 L273.04,7.88 L273.78,7.88 L274.52,7.88 L275.27,7.88 L276.01,7.88 L276.75,7.88 L277.5,7.88 L278.24,7.88 L278.98,7.88 L279.73,7.88 L280.47,7.88 L281.21,7.88 L281.95,7.88 L282.7,7.88 L283.44,7.88 L284.18,7.88 L284.93,7.88 L285.67,7.88 L286.41,7.88 L287.16,7.88 L287.9,7.88 L288.64,7.88 L289.38,7.88 L290.13,7.88 L290.87,7.88 L291.61,7.88 L292.36,7.88 L293.1,7.88 L293.84,7.88 L294.59,7.88" fill="none" stroke="#F8766D" stroke-width="3.4" stroke-linejoin="round"/>
<line x1="294.59" y1="7.88" x2="373.15" y2="7.88" stroke="#F8766D" stroke-width="3.4" stroke-dasharray="6.9 6.95" stroke-dashoffset="-0.5"/>
<circle cx="294.59" cy="7.88" r="5.75" fill="#F8766D"/>
<text x="304" y="88.3" font-size="12.35" text-anchor="middle">Terrestrial_regional</text>
<text x="36.6" y="137.25" font-size="10.3" text-anchor="end">0</text>
<text x="36.6" y="95.51" font-size="10.3" text-anchor="end">2</text>
<text x="36.6" y="53.77" font-size="10.3" text-anchor="end">4</text>
<text x="36.6" y="12.03" font-size="10.3" text-anchor="end">6</text>
<text x="57.5" y="148.8" font-size="10.3" text-anchor="middle">0</text>
<text x="139.7" y="148.8" font-size="10.3" text-anchor="middle">2500</text>
<text x="221.9" y="148.8" font-size="10.3" text-anchor="middle">5000</text>
<text x="304.1" y="148.8" font-size="10.3" text-anchor="middle">7500</text>
<text x="386.3" y="148.8" font-size="10.3" text-anchor="middle">10000</text>
<text x="215.5" y="163.9" font-size="13.4" text-anchor="middle">Number of minutes</text>
<text transform="translate(9.7,68) rotate(-90)" font-size="13.4" text-anchor="middle">Species richness</text>
</g>
</svg>
</body></html>
